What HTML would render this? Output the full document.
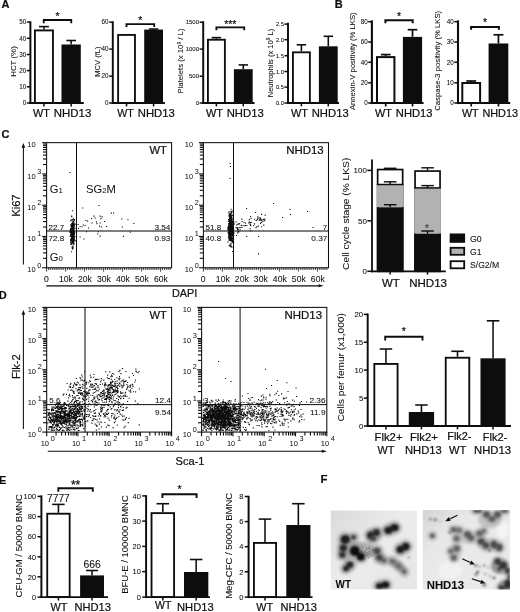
<!DOCTYPE html><html><head><meta charset="utf-8"><title>Figure</title><style>html,body{margin:0;padding:0;background:#fff}svg{display:block}</style></head><body><svg width="520" height="612" viewBox="0 0 520 612" font-family="Liberation Sans, Arial, sans-serif">
<defs><filter id="b1" x="-20%" y="-20%" width="140%" height="140%"><feGaussianBlur stdDeviation="1.1"/></filter><filter id="b2" x="-20%" y="-20%" width="140%" height="140%"><feGaussianBlur stdDeviation="0.6"/></filter><filter id="soft"><feGaussianBlur stdDeviation="0.35"/></filter></defs>
<rect width="520" height="612" fill="#fff"/>
<g filter="url(#soft)">
<text x="1.60" y="8.30" font-size="11" text-anchor="start" font-weight="bold" fill="#0c0c0c" stroke="#0c0c0c" stroke-width="0.2">A</text>
<text x="334.80" y="7.90" font-size="11" text-anchor="start" font-weight="bold" fill="#0c0c0c" stroke="#0c0c0c" stroke-width="0.2">B</text>
<text x="1.50" y="138.00" font-size="11" text-anchor="start" font-weight="bold" fill="#0c0c0c" stroke="#0c0c0c" stroke-width="0.2">C</text>
<text x="-1.30" y="298.70" font-size="11" text-anchor="start" font-weight="bold" fill="#0c0c0c" stroke="#0c0c0c" stroke-width="0.2">D</text>
<text x="-1.00" y="484.00" font-size="11" text-anchor="start" font-weight="bold" fill="#0c0c0c" stroke="#0c0c0c" stroke-width="0.2">E</text>
<text x="320.40" y="483.40" font-size="11.4" text-anchor="start" font-weight="bold" fill="#0c0c0c" stroke="#0c0c0c" stroke-width="0.2">F</text>
<line x1="43.95" y1="29.50" x2="43.95" y2="26.60" stroke="#0c0c0c" stroke-width="1.55" stroke-linecap="butt"/>
<line x1="38.98" y1="26.60" x2="48.93" y2="26.60" stroke="#0c0c0c" stroke-width="1.55" stroke-linecap="butt"/>
<rect x="34.92" y="30.43" width="18.05" height="72.58" fill="#fff" stroke="#0c0c0c" stroke-width="1.85"/>
<line x1="43.95" y1="103.00" x2="43.95" y2="106.38" stroke="#0c0c0c" stroke-width="1.55" stroke-linecap="butt"/>
<line x1="71.15" y1="44.50" x2="71.15" y2="40.50" stroke="#0c0c0c" stroke-width="1.55" stroke-linecap="butt"/>
<line x1="66.33" y1="40.50" x2="75.98" y2="40.50" stroke="#0c0c0c" stroke-width="1.55" stroke-linecap="butt"/>
<rect x="61.50" y="44.50" width="19.30" height="58.50" fill="#0c0c0c" stroke="none" stroke-width="0"/>
<line x1="71.15" y1="103.00" x2="71.15" y2="106.38" stroke="#0c0c0c" stroke-width="1.55" stroke-linecap="butt"/>
<line x1="30.40" y1="21.30" x2="30.40" y2="103.97" stroke="#0c0c0c" stroke-width="1.95" stroke-linecap="butt"/>
<line x1="29.42" y1="103.00" x2="83.75" y2="103.00" stroke="#0c0c0c" stroke-width="1.95" stroke-linecap="butt"/>
<line x1="26.82" y1="22.10" x2="30.40" y2="22.10" stroke="#0c0c0c" stroke-width="1.5" stroke-linecap="butt"/>
<text x="26.22" y="24.37" font-size="6.3" text-anchor="end" font-weight="normal" fill="#0c0c0c" stroke="#0c0c0c" stroke-width="0.05">50</text>
<line x1="26.82" y1="38.30" x2="30.40" y2="38.30" stroke="#0c0c0c" stroke-width="1.5" stroke-linecap="butt"/>
<text x="26.22" y="40.57" font-size="6.3" text-anchor="end" font-weight="normal" fill="#0c0c0c" stroke="#0c0c0c" stroke-width="0.05">40</text>
<line x1="26.82" y1="54.50" x2="30.40" y2="54.50" stroke="#0c0c0c" stroke-width="1.5" stroke-linecap="butt"/>
<text x="26.22" y="56.77" font-size="6.3" text-anchor="end" font-weight="normal" fill="#0c0c0c" stroke="#0c0c0c" stroke-width="0.05">30</text>
<line x1="26.82" y1="70.60" x2="30.40" y2="70.60" stroke="#0c0c0c" stroke-width="1.5" stroke-linecap="butt"/>
<text x="26.22" y="72.87" font-size="6.3" text-anchor="end" font-weight="normal" fill="#0c0c0c" stroke="#0c0c0c" stroke-width="0.05">20</text>
<line x1="26.82" y1="86.80" x2="30.40" y2="86.80" stroke="#0c0c0c" stroke-width="1.5" stroke-linecap="butt"/>
<text x="26.22" y="89.07" font-size="6.3" text-anchor="end" font-weight="normal" fill="#0c0c0c" stroke="#0c0c0c" stroke-width="0.05">10</text>
<line x1="26.82" y1="103.00" x2="30.40" y2="103.00" stroke="#0c0c0c" stroke-width="1.5" stroke-linecap="butt"/>
<text x="26.22" y="105.27" font-size="6.3" text-anchor="end" font-weight="normal" fill="#0c0c0c" stroke="#0c0c0c" stroke-width="0.05">0</text>
<text x="16.40" y="61.50" font-size="7.7" text-anchor="middle" font-weight="normal" fill="#0c0c0c" stroke="#0c0c0c" stroke-width="0.05" transform="rotate(-90 16.40 61.50)" textLength="30.60" lengthAdjust="spacingAndGlyphs">HCT (%)</text>
<text x="41.55" y="116.50" font-size="11.3" text-anchor="middle" font-weight="normal" fill="#0c0c0c" stroke="#0c0c0c" stroke-width="0.2" textLength="16.90" lengthAdjust="spacingAndGlyphs">WT</text>
<text x="72.50" y="116.50" font-size="11.3" text-anchor="middle" font-weight="normal" fill="#0c0c0c" stroke="#0c0c0c" stroke-width="0.2" textLength="37.50" lengthAdjust="spacingAndGlyphs">NHD13</text>
<polyline points="43.75,23.20 43.75,20.00 71.25,20.00 71.25,23.20" fill="none" stroke="#0c0c0c" stroke-width="1.85"/>
<text x="57.50" y="20.46" font-size="10.5" text-anchor="middle" font-weight="normal" fill="#0c0c0c" stroke="#0c0c0c" stroke-width="0.2">*</text>
<rect x="118.12" y="34.92" width="16.85" height="68.08" fill="#fff" stroke="#0c0c0c" stroke-width="1.85"/>
<line x1="126.55" y1="103.00" x2="126.55" y2="106.38" stroke="#0c0c0c" stroke-width="1.55" stroke-linecap="butt"/>
<line x1="153.60" y1="29.60" x2="153.60" y2="29.00" stroke="#0c0c0c" stroke-width="1.55" stroke-linecap="butt"/>
<line x1="148.90" y1="29.00" x2="158.30" y2="29.00" stroke="#0c0c0c" stroke-width="1.55" stroke-linecap="butt"/>
<rect x="144.20" y="29.60" width="18.80" height="73.40" fill="#0c0c0c" stroke="none" stroke-width="0"/>
<line x1="153.60" y1="103.00" x2="153.60" y2="106.38" stroke="#0c0c0c" stroke-width="1.55" stroke-linecap="butt"/>
<line x1="112.80" y1="21.30" x2="112.80" y2="103.97" stroke="#0c0c0c" stroke-width="1.95" stroke-linecap="butt"/>
<line x1="111.83" y1="103.00" x2="164.90" y2="103.00" stroke="#0c0c0c" stroke-width="1.95" stroke-linecap="butt"/>
<line x1="109.23" y1="22.20" x2="112.80" y2="22.20" stroke="#0c0c0c" stroke-width="1.5" stroke-linecap="butt"/>
<text x="108.63" y="24.47" font-size="6.3" text-anchor="end" font-weight="normal" fill="#0c0c0c" stroke="#0c0c0c" stroke-width="0.05">60</text>
<line x1="109.23" y1="49.10" x2="112.80" y2="49.10" stroke="#0c0c0c" stroke-width="1.5" stroke-linecap="butt"/>
<text x="108.63" y="51.37" font-size="6.3" text-anchor="end" font-weight="normal" fill="#0c0c0c" stroke="#0c0c0c" stroke-width="0.05">40</text>
<line x1="109.23" y1="76.10" x2="112.80" y2="76.10" stroke="#0c0c0c" stroke-width="1.5" stroke-linecap="butt"/>
<text x="108.63" y="78.37" font-size="6.3" text-anchor="end" font-weight="normal" fill="#0c0c0c" stroke="#0c0c0c" stroke-width="0.05">20</text>
<line x1="109.23" y1="103.00" x2="112.80" y2="103.00" stroke="#0c0c0c" stroke-width="1.5" stroke-linecap="butt"/>
<text x="108.63" y="105.27" font-size="6.3" text-anchor="end" font-weight="normal" fill="#0c0c0c" stroke="#0c0c0c" stroke-width="0.05">0</text>
<text x="100.00" y="61.60" font-size="7.7" text-anchor="middle" font-weight="normal" fill="#0c0c0c" stroke="#0c0c0c" stroke-width="0.05" transform="rotate(-90 100.00 61.60)" textLength="30.10" lengthAdjust="spacingAndGlyphs">MCV (fL)</text>
<text x="125.50" y="116.50" font-size="11.3" text-anchor="middle" font-weight="normal" fill="#0c0c0c" stroke="#0c0c0c" stroke-width="0.2" textLength="16.60" lengthAdjust="spacingAndGlyphs">WT</text>
<text x="156.30" y="116.50" font-size="11.3" text-anchor="middle" font-weight="normal" fill="#0c0c0c" stroke="#0c0c0c" stroke-width="0.2" textLength="37.00" lengthAdjust="spacingAndGlyphs">NHD13</text>
<polyline points="126.50,27.00 126.50,24.10 154.20,24.10 154.20,27.00" fill="none" stroke="#0c0c0c" stroke-width="1.85"/>
<text x="140.35" y="23.96" font-size="10.5" text-anchor="middle" font-weight="normal" fill="#0c0c0c" stroke="#0c0c0c" stroke-width="0.2">*</text>
<line x1="216.40" y1="38.80" x2="216.40" y2="37.60" stroke="#0c0c0c" stroke-width="1.55" stroke-linecap="butt"/>
<line x1="211.70" y1="37.60" x2="221.10" y2="37.60" stroke="#0c0c0c" stroke-width="1.55" stroke-linecap="butt"/>
<rect x="207.93" y="39.72" width="16.95" height="63.28" fill="#fff" stroke="#0c0c0c" stroke-width="1.85"/>
<line x1="216.40" y1="103.00" x2="216.40" y2="106.38" stroke="#0c0c0c" stroke-width="1.55" stroke-linecap="butt"/>
<line x1="243.30" y1="69.20" x2="243.30" y2="64.90" stroke="#0c0c0c" stroke-width="1.55" stroke-linecap="butt"/>
<line x1="238.60" y1="64.90" x2="248.00" y2="64.90" stroke="#0c0c0c" stroke-width="1.55" stroke-linecap="butt"/>
<rect x="233.90" y="69.20" width="18.80" height="33.80" fill="#0c0c0c" stroke="none" stroke-width="0"/>
<line x1="243.30" y1="103.00" x2="243.30" y2="106.38" stroke="#0c0c0c" stroke-width="1.55" stroke-linecap="butt"/>
<line x1="203.20" y1="21.30" x2="203.20" y2="103.97" stroke="#0c0c0c" stroke-width="1.95" stroke-linecap="butt"/>
<line x1="202.22" y1="103.00" x2="254.50" y2="103.00" stroke="#0c0c0c" stroke-width="1.95" stroke-linecap="butt"/>
<line x1="199.62" y1="22.20" x2="203.20" y2="22.20" stroke="#0c0c0c" stroke-width="1.5" stroke-linecap="butt"/>
<text x="199.03" y="24.36" font-size="6.0" text-anchor="end" font-weight="normal" fill="#0c0c0c" stroke="#0c0c0c" stroke-width="0.05">1500</text>
<line x1="199.62" y1="49.10" x2="203.20" y2="49.10" stroke="#0c0c0c" stroke-width="1.5" stroke-linecap="butt"/>
<text x="199.03" y="51.26" font-size="6.0" text-anchor="end" font-weight="normal" fill="#0c0c0c" stroke="#0c0c0c" stroke-width="0.05">1000</text>
<line x1="199.62" y1="76.20" x2="203.20" y2="76.20" stroke="#0c0c0c" stroke-width="1.5" stroke-linecap="butt"/>
<text x="199.03" y="78.36" font-size="6.0" text-anchor="end" font-weight="normal" fill="#0c0c0c" stroke="#0c0c0c" stroke-width="0.05">500</text>
<line x1="199.62" y1="103.00" x2="203.20" y2="103.00" stroke="#0c0c0c" stroke-width="1.5" stroke-linecap="butt"/>
<text x="199.03" y="105.16" font-size="6.0" text-anchor="end" font-weight="normal" fill="#0c0c0c" stroke="#0c0c0c" stroke-width="0.05">0</text>
<text x="214.50" y="116.50" font-size="11.3" text-anchor="middle" font-weight="normal" fill="#0c0c0c" stroke="#0c0c0c" stroke-width="0.2" textLength="17.00" lengthAdjust="spacingAndGlyphs">WT</text>
<text x="245.20" y="116.50" font-size="11.3" text-anchor="middle" font-weight="normal" fill="#0c0c0c" stroke="#0c0c0c" stroke-width="0.2" textLength="37.00" lengthAdjust="spacingAndGlyphs">NHD13</text>
<polyline points="216.40,30.30 216.40,27.30 244.20,27.30 244.20,30.30" fill="none" stroke="#0c0c0c" stroke-width="1.85"/>
<text x="230.30" y="27.66" font-size="10.5" text-anchor="middle" font-weight="normal" fill="#0c0c0c" stroke="#0c0c0c" stroke-width="0.2">***</text>
<text x="183.20" y="61.00" font-size="7.7" text-anchor="middle" font-weight="normal" fill="#0c0c0c" stroke="#0c0c0c" stroke-width="0.05" transform="rotate(-90 183.20 61.00)" textLength="65.00" lengthAdjust="spacingAndGlyphs">Platelets (x 10<tspan dy="-2.6" font-size="5">9</tspan><tspan dy="2.6"> / L)</tspan></text>
<line x1="301.40" y1="51.40" x2="301.40" y2="44.80" stroke="#0c0c0c" stroke-width="1.55" stroke-linecap="butt"/>
<line x1="296.70" y1="44.80" x2="306.10" y2="44.80" stroke="#0c0c0c" stroke-width="1.55" stroke-linecap="butt"/>
<rect x="292.93" y="52.32" width="16.95" height="50.68" fill="#fff" stroke="#0c0c0c" stroke-width="1.85"/>
<line x1="301.40" y1="103.00" x2="301.40" y2="106.38" stroke="#0c0c0c" stroke-width="1.55" stroke-linecap="butt"/>
<line x1="328.30" y1="46.30" x2="328.30" y2="36.30" stroke="#0c0c0c" stroke-width="1.55" stroke-linecap="butt"/>
<line x1="323.60" y1="36.30" x2="333.00" y2="36.30" stroke="#0c0c0c" stroke-width="1.55" stroke-linecap="butt"/>
<rect x="318.90" y="46.30" width="18.80" height="56.70" fill="#0c0c0c" stroke="none" stroke-width="0"/>
<line x1="328.30" y1="103.00" x2="328.30" y2="106.38" stroke="#0c0c0c" stroke-width="1.55" stroke-linecap="butt"/>
<line x1="288.00" y1="22.80" x2="288.00" y2="103.97" stroke="#0c0c0c" stroke-width="1.95" stroke-linecap="butt"/>
<line x1="287.02" y1="103.00" x2="339.00" y2="103.00" stroke="#0c0c0c" stroke-width="1.95" stroke-linecap="butt"/>
<line x1="284.42" y1="24.10" x2="288.00" y2="24.10" stroke="#0c0c0c" stroke-width="1.5" stroke-linecap="butt"/>
<text x="283.82" y="26.15" font-size="5.7" text-anchor="end" font-weight="normal" fill="#0c0c0c" stroke="#0c0c0c" stroke-width="0.05">2.5</text>
<line x1="284.42" y1="39.70" x2="288.00" y2="39.70" stroke="#0c0c0c" stroke-width="1.5" stroke-linecap="butt"/>
<text x="283.82" y="41.75" font-size="5.7" text-anchor="end" font-weight="normal" fill="#0c0c0c" stroke="#0c0c0c" stroke-width="0.05">2.0</text>
<line x1="284.42" y1="55.70" x2="288.00" y2="55.70" stroke="#0c0c0c" stroke-width="1.5" stroke-linecap="butt"/>
<text x="283.82" y="57.75" font-size="5.7" text-anchor="end" font-weight="normal" fill="#0c0c0c" stroke="#0c0c0c" stroke-width="0.05">1.5</text>
<line x1="284.42" y1="71.50" x2="288.00" y2="71.50" stroke="#0c0c0c" stroke-width="1.5" stroke-linecap="butt"/>
<text x="283.82" y="73.55" font-size="5.7" text-anchor="end" font-weight="normal" fill="#0c0c0c" stroke="#0c0c0c" stroke-width="0.05">1.0</text>
<line x1="284.42" y1="87.10" x2="288.00" y2="87.10" stroke="#0c0c0c" stroke-width="1.5" stroke-linecap="butt"/>
<text x="283.82" y="89.15" font-size="5.7" text-anchor="end" font-weight="normal" fill="#0c0c0c" stroke="#0c0c0c" stroke-width="0.05">0.5</text>
<line x1="284.42" y1="103.00" x2="288.00" y2="103.00" stroke="#0c0c0c" stroke-width="1.5" stroke-linecap="butt"/>
<text x="283.82" y="105.05" font-size="5.7" text-anchor="end" font-weight="normal" fill="#0c0c0c" stroke="#0c0c0c" stroke-width="0.05">0.0</text>
<text x="299.50" y="116.50" font-size="11.3" text-anchor="middle" font-weight="normal" fill="#0c0c0c" stroke="#0c0c0c" stroke-width="0.2" textLength="17.00" lengthAdjust="spacingAndGlyphs">WT</text>
<text x="330.20" y="116.50" font-size="11.3" text-anchor="middle" font-weight="normal" fill="#0c0c0c" stroke="#0c0c0c" stroke-width="0.2" textLength="37.00" lengthAdjust="spacingAndGlyphs">NHD13</text>
<text x="272.70" y="63.00" font-size="7.7" text-anchor="middle" font-weight="normal" fill="#0c0c0c" stroke="#0c0c0c" stroke-width="0.05" transform="rotate(-90 272.70 63.00)" textLength="68.60" lengthAdjust="spacingAndGlyphs">Neutrophils (x 10<tspan dy="-2.6" font-size="5">9</tspan><tspan dy="2.6"> L)</tspan></text>
<line x1="385.70" y1="56.10" x2="385.70" y2="54.60" stroke="#0c0c0c" stroke-width="1.7" stroke-linecap="butt"/>
<line x1="380.85" y1="54.60" x2="390.55" y2="54.60" stroke="#0c0c0c" stroke-width="1.7" stroke-linecap="butt"/>
<rect x="377.00" y="57.10" width="17.40" height="45.90" fill="#fff" stroke="#0c0c0c" stroke-width="2.0"/>
<line x1="385.70" y1="103.00" x2="385.70" y2="106.45" stroke="#0c0c0c" stroke-width="1.7" stroke-linecap="butt"/>
<line x1="412.50" y1="36.90" x2="412.50" y2="29.70" stroke="#0c0c0c" stroke-width="1.7" stroke-linecap="butt"/>
<line x1="407.70" y1="29.70" x2="417.30" y2="29.70" stroke="#0c0c0c" stroke-width="1.7" stroke-linecap="butt"/>
<rect x="402.90" y="36.90" width="19.20" height="66.10" fill="#0c0c0c" stroke="none" stroke-width="0"/>
<line x1="412.50" y1="103.00" x2="412.50" y2="106.45" stroke="#0c0c0c" stroke-width="1.7" stroke-linecap="butt"/>
<line x1="371.90" y1="20.30" x2="371.90" y2="104.05" stroke="#0c0c0c" stroke-width="2.1" stroke-linecap="butt"/>
<line x1="370.85" y1="103.00" x2="423.60" y2="103.00" stroke="#0c0c0c" stroke-width="2.1" stroke-linecap="butt"/>
<line x1="368.25" y1="21.70" x2="371.90" y2="21.70" stroke="#0c0c0c" stroke-width="1.5" stroke-linecap="butt"/>
<text x="367.65" y="23.97" font-size="6.3" text-anchor="end" font-weight="normal" fill="#0c0c0c" stroke="#0c0c0c" stroke-width="0.05">80</text>
<line x1="368.25" y1="42.00" x2="371.90" y2="42.00" stroke="#0c0c0c" stroke-width="1.5" stroke-linecap="butt"/>
<text x="367.65" y="44.27" font-size="6.3" text-anchor="end" font-weight="normal" fill="#0c0c0c" stroke="#0c0c0c" stroke-width="0.05">60</text>
<line x1="368.25" y1="62.30" x2="371.90" y2="62.30" stroke="#0c0c0c" stroke-width="1.5" stroke-linecap="butt"/>
<text x="367.65" y="64.57" font-size="6.3" text-anchor="end" font-weight="normal" fill="#0c0c0c" stroke="#0c0c0c" stroke-width="0.05">40</text>
<line x1="368.25" y1="82.80" x2="371.90" y2="82.80" stroke="#0c0c0c" stroke-width="1.5" stroke-linecap="butt"/>
<text x="367.65" y="85.07" font-size="6.3" text-anchor="end" font-weight="normal" fill="#0c0c0c" stroke="#0c0c0c" stroke-width="0.05">20</text>
<line x1="368.25" y1="103.00" x2="371.90" y2="103.00" stroke="#0c0c0c" stroke-width="1.5" stroke-linecap="butt"/>
<text x="367.65" y="105.27" font-size="6.3" text-anchor="end" font-weight="normal" fill="#0c0c0c" stroke="#0c0c0c" stroke-width="0.05">0</text>
<text x="355.20" y="61.20" font-size="7.7" text-anchor="middle" font-weight="normal" fill="#0c0c0c" stroke="#0c0c0c" stroke-width="0.05" transform="rotate(-90 355.20 61.20)" textLength="97.70" lengthAdjust="spacingAndGlyphs">Annexin-V positivity (% LKS)</text>
<text x="383.55" y="116.50" font-size="11.3" text-anchor="middle" font-weight="normal" fill="#0c0c0c" stroke="#0c0c0c" stroke-width="0.2" textLength="16.90" lengthAdjust="spacingAndGlyphs">WT</text>
<text x="414.15" y="116.50" font-size="11.3" text-anchor="middle" font-weight="normal" fill="#0c0c0c" stroke="#0c0c0c" stroke-width="0.2" textLength="36.70" lengthAdjust="spacingAndGlyphs">NHD13</text>
<polyline points="385.40,23.20 385.40,20.30 412.70,20.30 412.70,23.20" fill="none" stroke="#0c0c0c" stroke-width="2.00"/>
<text x="399.05" y="20.16" font-size="10.5" text-anchor="middle" font-weight="normal" fill="#0c0c0c" stroke="#0c0c0c" stroke-width="0.2">*</text>
<line x1="471.20" y1="82.00" x2="471.20" y2="81.00" stroke="#0c0c0c" stroke-width="1.7" stroke-linecap="butt"/>
<line x1="466.25" y1="81.00" x2="476.15" y2="81.00" stroke="#0c0c0c" stroke-width="1.7" stroke-linecap="butt"/>
<rect x="462.30" y="83.00" width="17.80" height="20.00" fill="#fff" stroke="#0c0c0c" stroke-width="2.0"/>
<line x1="471.20" y1="103.00" x2="471.20" y2="106.45" stroke="#0c0c0c" stroke-width="1.7" stroke-linecap="butt"/>
<line x1="498.45" y1="43.50" x2="498.45" y2="34.80" stroke="#0c0c0c" stroke-width="1.7" stroke-linecap="butt"/>
<line x1="493.53" y1="34.80" x2="503.38" y2="34.80" stroke="#0c0c0c" stroke-width="1.7" stroke-linecap="butt"/>
<rect x="488.60" y="43.50" width="19.70" height="59.50" fill="#0c0c0c" stroke="none" stroke-width="0"/>
<line x1="498.45" y1="103.00" x2="498.45" y2="106.45" stroke="#0c0c0c" stroke-width="1.7" stroke-linecap="butt"/>
<line x1="458.00" y1="20.30" x2="458.00" y2="104.05" stroke="#0c0c0c" stroke-width="2.1" stroke-linecap="butt"/>
<line x1="456.95" y1="103.00" x2="510.20" y2="103.00" stroke="#0c0c0c" stroke-width="2.1" stroke-linecap="butt"/>
<line x1="454.35" y1="21.70" x2="458.00" y2="21.70" stroke="#0c0c0c" stroke-width="1.5" stroke-linecap="butt"/>
<text x="453.75" y="23.97" font-size="6.3" text-anchor="end" font-weight="normal" fill="#0c0c0c" stroke="#0c0c0c" stroke-width="0.05">40</text>
<line x1="454.35" y1="42.00" x2="458.00" y2="42.00" stroke="#0c0c0c" stroke-width="1.5" stroke-linecap="butt"/>
<text x="453.75" y="44.27" font-size="6.3" text-anchor="end" font-weight="normal" fill="#0c0c0c" stroke="#0c0c0c" stroke-width="0.05">30</text>
<line x1="454.35" y1="62.30" x2="458.00" y2="62.30" stroke="#0c0c0c" stroke-width="1.5" stroke-linecap="butt"/>
<text x="453.75" y="64.57" font-size="6.3" text-anchor="end" font-weight="normal" fill="#0c0c0c" stroke="#0c0c0c" stroke-width="0.05">20</text>
<line x1="454.35" y1="82.80" x2="458.00" y2="82.80" stroke="#0c0c0c" stroke-width="1.5" stroke-linecap="butt"/>
<text x="453.75" y="85.07" font-size="6.3" text-anchor="end" font-weight="normal" fill="#0c0c0c" stroke="#0c0c0c" stroke-width="0.05">10</text>
<line x1="454.35" y1="103.00" x2="458.00" y2="103.00" stroke="#0c0c0c" stroke-width="1.5" stroke-linecap="butt"/>
<text x="453.75" y="105.27" font-size="6.3" text-anchor="end" font-weight="normal" fill="#0c0c0c" stroke="#0c0c0c" stroke-width="0.05">0</text>
<text x="439.60" y="60.80" font-size="7.7" text-anchor="middle" font-weight="normal" fill="#0c0c0c" stroke="#0c0c0c" stroke-width="0.05" transform="rotate(-90 439.60 60.80)" textLength="100.00" lengthAdjust="spacingAndGlyphs">Caspase-3 positivity (% LKS)</text>
<text x="470.25" y="116.50" font-size="11.3" text-anchor="middle" font-weight="normal" fill="#0c0c0c" stroke="#0c0c0c" stroke-width="0.2" textLength="16.70" lengthAdjust="spacingAndGlyphs">WT</text>
<text x="500.20" y="116.50" font-size="11.3" text-anchor="middle" font-weight="normal" fill="#0c0c0c" stroke="#0c0c0c" stroke-width="0.2" textLength="35.60" lengthAdjust="spacingAndGlyphs">NHD13</text>
<polyline points="471.10,29.80 471.10,26.90 498.90,26.90 498.90,29.80" fill="none" stroke="#0c0c0c" stroke-width="2.00"/>
<text x="485.00" y="26.36" font-size="10.5" text-anchor="middle" font-weight="normal" fill="#0c0c0c" stroke="#0c0c0c" stroke-width="0.2">*</text>
<rect x="46.60" y="142.65" width="125.00" height="125.10" fill="none" stroke="#0c0c0c" stroke-width="1.05"/>
<line x1="76.50" y1="142.65" x2="76.50" y2="267.75" stroke="#0c0c0c" stroke-width="1.0" stroke-linecap="butt"/>
<line x1="46.60" y1="231.00" x2="171.60" y2="231.00" stroke="#0c0c0c" stroke-width="1.0" stroke-linecap="butt"/>
<text x="166.80" y="154.45" font-size="11" text-anchor="end" font-weight="normal" fill="#0c0c0c" stroke="#0c0c0c" stroke-width="0.2" textLength="17.40" lengthAdjust="spacingAndGlyphs">WT</text>
<line x1="42.20" y1="267.75" x2="46.60" y2="267.75" stroke="#0c0c0c" stroke-width="1.1" stroke-linecap="butt"/>
<line x1="43.00" y1="258.34" x2="46.60" y2="258.34" stroke="#0c0c0c" stroke-width="1.1" stroke-linecap="butt"/>
<line x1="43.00" y1="252.83" x2="46.60" y2="252.83" stroke="#0c0c0c" stroke-width="1.1" stroke-linecap="butt"/>
<line x1="43.00" y1="248.92" x2="46.60" y2="248.92" stroke="#0c0c0c" stroke-width="1.1" stroke-linecap="butt"/>
<line x1="43.00" y1="245.89" x2="46.60" y2="245.89" stroke="#0c0c0c" stroke-width="1.1" stroke-linecap="butt"/>
<line x1="43.00" y1="243.41" x2="46.60" y2="243.41" stroke="#0c0c0c" stroke-width="1.1" stroke-linecap="butt"/>
<line x1="43.00" y1="241.32" x2="46.60" y2="241.32" stroke="#0c0c0c" stroke-width="1.1" stroke-linecap="butt"/>
<line x1="43.00" y1="239.51" x2="46.60" y2="239.51" stroke="#0c0c0c" stroke-width="1.1" stroke-linecap="butt"/>
<line x1="43.00" y1="237.91" x2="46.60" y2="237.91" stroke="#0c0c0c" stroke-width="1.1" stroke-linecap="butt"/>
<line x1="42.20" y1="236.47" x2="46.60" y2="236.47" stroke="#0c0c0c" stroke-width="1.1" stroke-linecap="butt"/>
<line x1="43.00" y1="227.06" x2="46.60" y2="227.06" stroke="#0c0c0c" stroke-width="1.1" stroke-linecap="butt"/>
<line x1="43.00" y1="221.55" x2="46.60" y2="221.55" stroke="#0c0c0c" stroke-width="1.1" stroke-linecap="butt"/>
<line x1="43.00" y1="217.65" x2="46.60" y2="217.65" stroke="#0c0c0c" stroke-width="1.1" stroke-linecap="butt"/>
<line x1="43.00" y1="214.61" x2="46.60" y2="214.61" stroke="#0c0c0c" stroke-width="1.1" stroke-linecap="butt"/>
<line x1="43.00" y1="212.14" x2="46.60" y2="212.14" stroke="#0c0c0c" stroke-width="1.1" stroke-linecap="butt"/>
<line x1="43.00" y1="210.04" x2="46.60" y2="210.04" stroke="#0c0c0c" stroke-width="1.1" stroke-linecap="butt"/>
<line x1="43.00" y1="208.23" x2="46.60" y2="208.23" stroke="#0c0c0c" stroke-width="1.1" stroke-linecap="butt"/>
<line x1="43.00" y1="206.63" x2="46.60" y2="206.63" stroke="#0c0c0c" stroke-width="1.1" stroke-linecap="butt"/>
<line x1="42.20" y1="205.20" x2="46.60" y2="205.20" stroke="#0c0c0c" stroke-width="1.1" stroke-linecap="butt"/>
<line x1="43.00" y1="195.79" x2="46.60" y2="195.79" stroke="#0c0c0c" stroke-width="1.1" stroke-linecap="butt"/>
<line x1="43.00" y1="190.28" x2="46.60" y2="190.28" stroke="#0c0c0c" stroke-width="1.1" stroke-linecap="butt"/>
<line x1="43.00" y1="186.37" x2="46.60" y2="186.37" stroke="#0c0c0c" stroke-width="1.1" stroke-linecap="butt"/>
<line x1="43.00" y1="183.34" x2="46.60" y2="183.34" stroke="#0c0c0c" stroke-width="1.1" stroke-linecap="butt"/>
<line x1="43.00" y1="180.86" x2="46.60" y2="180.86" stroke="#0c0c0c" stroke-width="1.1" stroke-linecap="butt"/>
<line x1="43.00" y1="178.77" x2="46.60" y2="178.77" stroke="#0c0c0c" stroke-width="1.1" stroke-linecap="butt"/>
<line x1="43.00" y1="176.96" x2="46.60" y2="176.96" stroke="#0c0c0c" stroke-width="1.1" stroke-linecap="butt"/>
<line x1="43.00" y1="175.36" x2="46.60" y2="175.36" stroke="#0c0c0c" stroke-width="1.1" stroke-linecap="butt"/>
<line x1="42.20" y1="173.93" x2="46.60" y2="173.93" stroke="#0c0c0c" stroke-width="1.1" stroke-linecap="butt"/>
<line x1="43.00" y1="164.51" x2="46.60" y2="164.51" stroke="#0c0c0c" stroke-width="1.1" stroke-linecap="butt"/>
<line x1="43.00" y1="159.00" x2="46.60" y2="159.00" stroke="#0c0c0c" stroke-width="1.1" stroke-linecap="butt"/>
<line x1="43.00" y1="155.10" x2="46.60" y2="155.10" stroke="#0c0c0c" stroke-width="1.1" stroke-linecap="butt"/>
<line x1="43.00" y1="152.06" x2="46.60" y2="152.06" stroke="#0c0c0c" stroke-width="1.1" stroke-linecap="butt"/>
<line x1="43.00" y1="149.59" x2="46.60" y2="149.59" stroke="#0c0c0c" stroke-width="1.1" stroke-linecap="butt"/>
<line x1="43.00" y1="147.49" x2="46.60" y2="147.49" stroke="#0c0c0c" stroke-width="1.1" stroke-linecap="butt"/>
<line x1="43.00" y1="145.68" x2="46.60" y2="145.68" stroke="#0c0c0c" stroke-width="1.1" stroke-linecap="butt"/>
<line x1="43.00" y1="144.08" x2="46.60" y2="144.08" stroke="#0c0c0c" stroke-width="1.1" stroke-linecap="butt"/>
<line x1="42.20" y1="142.65" x2="46.60" y2="142.65" stroke="#0c0c0c" stroke-width="1.1" stroke-linecap="butt"/>
<text x="27.30" y="272.45" font-size="7.5" text-anchor="start" fill="#0c0c0c">10<tspan dy="-4.8" dx="1.7" font-size="7.3">0</tspan></text>
<text x="27.30" y="241.17" font-size="7.5" text-anchor="start" fill="#0c0c0c">10<tspan dy="-4.8" dx="1.7" font-size="7.3">1</tspan></text>
<text x="27.30" y="209.90" font-size="7.5" text-anchor="start" fill="#0c0c0c">10<tspan dy="-4.8" dx="1.7" font-size="7.3">2</tspan></text>
<text x="27.30" y="178.62" font-size="7.5" text-anchor="start" fill="#0c0c0c">10<tspan dy="-4.8" dx="1.7" font-size="7.3">3</tspan></text>
<text x="27.30" y="147.35" font-size="7.5" text-anchor="start" fill="#0c0c0c">10</text>
<line x1="46.60" y1="267.75" x2="46.60" y2="271.55" stroke="#0c0c0c" stroke-width="0.8" stroke-linecap="butt"/>
<line x1="48.50" y1="267.75" x2="48.50" y2="269.95" stroke="#0c0c0c" stroke-width="0.8" stroke-linecap="butt"/>
<line x1="50.40" y1="267.75" x2="50.40" y2="269.95" stroke="#0c0c0c" stroke-width="0.8" stroke-linecap="butt"/>
<line x1="52.30" y1="267.75" x2="52.30" y2="269.95" stroke="#0c0c0c" stroke-width="0.8" stroke-linecap="butt"/>
<line x1="54.20" y1="267.75" x2="54.20" y2="269.95" stroke="#0c0c0c" stroke-width="0.8" stroke-linecap="butt"/>
<line x1="56.10" y1="267.75" x2="56.10" y2="269.95" stroke="#0c0c0c" stroke-width="0.8" stroke-linecap="butt"/>
<line x1="58.00" y1="267.75" x2="58.00" y2="269.95" stroke="#0c0c0c" stroke-width="0.8" stroke-linecap="butt"/>
<line x1="59.90" y1="267.75" x2="59.90" y2="269.95" stroke="#0c0c0c" stroke-width="0.8" stroke-linecap="butt"/>
<line x1="61.80" y1="267.75" x2="61.80" y2="269.95" stroke="#0c0c0c" stroke-width="0.8" stroke-linecap="butt"/>
<line x1="63.70" y1="267.75" x2="63.70" y2="269.95" stroke="#0c0c0c" stroke-width="0.8" stroke-linecap="butt"/>
<line x1="65.60" y1="267.75" x2="65.60" y2="271.55" stroke="#0c0c0c" stroke-width="0.8" stroke-linecap="butt"/>
<line x1="67.50" y1="267.75" x2="67.50" y2="269.95" stroke="#0c0c0c" stroke-width="0.8" stroke-linecap="butt"/>
<line x1="69.40" y1="267.75" x2="69.40" y2="269.95" stroke="#0c0c0c" stroke-width="0.8" stroke-linecap="butt"/>
<line x1="71.30" y1="267.75" x2="71.30" y2="269.95" stroke="#0c0c0c" stroke-width="0.8" stroke-linecap="butt"/>
<line x1="73.20" y1="267.75" x2="73.20" y2="269.95" stroke="#0c0c0c" stroke-width="0.8" stroke-linecap="butt"/>
<line x1="75.10" y1="267.75" x2="75.10" y2="269.95" stroke="#0c0c0c" stroke-width="0.8" stroke-linecap="butt"/>
<line x1="77.00" y1="267.75" x2="77.00" y2="269.95" stroke="#0c0c0c" stroke-width="0.8" stroke-linecap="butt"/>
<line x1="78.90" y1="267.75" x2="78.90" y2="269.95" stroke="#0c0c0c" stroke-width="0.8" stroke-linecap="butt"/>
<line x1="80.80" y1="267.75" x2="80.80" y2="269.95" stroke="#0c0c0c" stroke-width="0.8" stroke-linecap="butt"/>
<line x1="82.70" y1="267.75" x2="82.70" y2="269.95" stroke="#0c0c0c" stroke-width="0.8" stroke-linecap="butt"/>
<line x1="84.60" y1="267.75" x2="84.60" y2="271.55" stroke="#0c0c0c" stroke-width="0.8" stroke-linecap="butt"/>
<line x1="86.50" y1="267.75" x2="86.50" y2="269.95" stroke="#0c0c0c" stroke-width="0.8" stroke-linecap="butt"/>
<line x1="88.40" y1="267.75" x2="88.40" y2="269.95" stroke="#0c0c0c" stroke-width="0.8" stroke-linecap="butt"/>
<line x1="90.30" y1="267.75" x2="90.30" y2="269.95" stroke="#0c0c0c" stroke-width="0.8" stroke-linecap="butt"/>
<line x1="92.20" y1="267.75" x2="92.20" y2="269.95" stroke="#0c0c0c" stroke-width="0.8" stroke-linecap="butt"/>
<line x1="94.10" y1="267.75" x2="94.10" y2="269.95" stroke="#0c0c0c" stroke-width="0.8" stroke-linecap="butt"/>
<line x1="96.00" y1="267.75" x2="96.00" y2="269.95" stroke="#0c0c0c" stroke-width="0.8" stroke-linecap="butt"/>
<line x1="97.90" y1="267.75" x2="97.90" y2="269.95" stroke="#0c0c0c" stroke-width="0.8" stroke-linecap="butt"/>
<line x1="99.80" y1="267.75" x2="99.80" y2="269.95" stroke="#0c0c0c" stroke-width="0.8" stroke-linecap="butt"/>
<line x1="101.70" y1="267.75" x2="101.70" y2="269.95" stroke="#0c0c0c" stroke-width="0.8" stroke-linecap="butt"/>
<line x1="103.60" y1="267.75" x2="103.60" y2="271.55" stroke="#0c0c0c" stroke-width="0.8" stroke-linecap="butt"/>
<line x1="105.50" y1="267.75" x2="105.50" y2="269.95" stroke="#0c0c0c" stroke-width="0.8" stroke-linecap="butt"/>
<line x1="107.40" y1="267.75" x2="107.40" y2="269.95" stroke="#0c0c0c" stroke-width="0.8" stroke-linecap="butt"/>
<line x1="109.30" y1="267.75" x2="109.30" y2="269.95" stroke="#0c0c0c" stroke-width="0.8" stroke-linecap="butt"/>
<line x1="111.20" y1="267.75" x2="111.20" y2="269.95" stroke="#0c0c0c" stroke-width="0.8" stroke-linecap="butt"/>
<line x1="113.10" y1="267.75" x2="113.10" y2="269.95" stroke="#0c0c0c" stroke-width="0.8" stroke-linecap="butt"/>
<line x1="115.00" y1="267.75" x2="115.00" y2="269.95" stroke="#0c0c0c" stroke-width="0.8" stroke-linecap="butt"/>
<line x1="116.90" y1="267.75" x2="116.90" y2="269.95" stroke="#0c0c0c" stroke-width="0.8" stroke-linecap="butt"/>
<line x1="118.80" y1="267.75" x2="118.80" y2="269.95" stroke="#0c0c0c" stroke-width="0.8" stroke-linecap="butt"/>
<line x1="120.70" y1="267.75" x2="120.70" y2="269.95" stroke="#0c0c0c" stroke-width="0.8" stroke-linecap="butt"/>
<line x1="122.60" y1="267.75" x2="122.60" y2="271.55" stroke="#0c0c0c" stroke-width="0.8" stroke-linecap="butt"/>
<line x1="124.50" y1="267.75" x2="124.50" y2="269.95" stroke="#0c0c0c" stroke-width="0.8" stroke-linecap="butt"/>
<line x1="126.40" y1="267.75" x2="126.40" y2="269.95" stroke="#0c0c0c" stroke-width="0.8" stroke-linecap="butt"/>
<line x1="128.30" y1="267.75" x2="128.30" y2="269.95" stroke="#0c0c0c" stroke-width="0.8" stroke-linecap="butt"/>
<line x1="130.20" y1="267.75" x2="130.20" y2="269.95" stroke="#0c0c0c" stroke-width="0.8" stroke-linecap="butt"/>
<line x1="132.10" y1="267.75" x2="132.10" y2="269.95" stroke="#0c0c0c" stroke-width="0.8" stroke-linecap="butt"/>
<line x1="134.00" y1="267.75" x2="134.00" y2="269.95" stroke="#0c0c0c" stroke-width="0.8" stroke-linecap="butt"/>
<line x1="135.90" y1="267.75" x2="135.90" y2="269.95" stroke="#0c0c0c" stroke-width="0.8" stroke-linecap="butt"/>
<line x1="137.80" y1="267.75" x2="137.80" y2="269.95" stroke="#0c0c0c" stroke-width="0.8" stroke-linecap="butt"/>
<line x1="139.70" y1="267.75" x2="139.70" y2="269.95" stroke="#0c0c0c" stroke-width="0.8" stroke-linecap="butt"/>
<line x1="141.60" y1="267.75" x2="141.60" y2="271.55" stroke="#0c0c0c" stroke-width="0.8" stroke-linecap="butt"/>
<line x1="143.50" y1="267.75" x2="143.50" y2="269.95" stroke="#0c0c0c" stroke-width="0.8" stroke-linecap="butt"/>
<line x1="145.40" y1="267.75" x2="145.40" y2="269.95" stroke="#0c0c0c" stroke-width="0.8" stroke-linecap="butt"/>
<line x1="147.30" y1="267.75" x2="147.30" y2="269.95" stroke="#0c0c0c" stroke-width="0.8" stroke-linecap="butt"/>
<line x1="149.20" y1="267.75" x2="149.20" y2="269.95" stroke="#0c0c0c" stroke-width="0.8" stroke-linecap="butt"/>
<line x1="151.10" y1="267.75" x2="151.10" y2="269.95" stroke="#0c0c0c" stroke-width="0.8" stroke-linecap="butt"/>
<line x1="153.00" y1="267.75" x2="153.00" y2="269.95" stroke="#0c0c0c" stroke-width="0.8" stroke-linecap="butt"/>
<line x1="154.90" y1="267.75" x2="154.90" y2="269.95" stroke="#0c0c0c" stroke-width="0.8" stroke-linecap="butt"/>
<line x1="156.80" y1="267.75" x2="156.80" y2="269.95" stroke="#0c0c0c" stroke-width="0.8" stroke-linecap="butt"/>
<line x1="158.70" y1="267.75" x2="158.70" y2="269.95" stroke="#0c0c0c" stroke-width="0.8" stroke-linecap="butt"/>
<line x1="160.60" y1="267.75" x2="160.60" y2="271.55" stroke="#0c0c0c" stroke-width="0.8" stroke-linecap="butt"/>
<line x1="162.50" y1="267.75" x2="162.50" y2="269.95" stroke="#0c0c0c" stroke-width="0.8" stroke-linecap="butt"/>
<line x1="164.40" y1="267.75" x2="164.40" y2="269.95" stroke="#0c0c0c" stroke-width="0.8" stroke-linecap="butt"/>
<line x1="166.30" y1="267.75" x2="166.30" y2="269.95" stroke="#0c0c0c" stroke-width="0.8" stroke-linecap="butt"/>
<line x1="168.20" y1="267.75" x2="168.20" y2="269.95" stroke="#0c0c0c" stroke-width="0.8" stroke-linecap="butt"/>
<line x1="170.10" y1="267.75" x2="170.10" y2="269.95" stroke="#0c0c0c" stroke-width="0.8" stroke-linecap="butt"/>
<text x="46.40" y="281.60" font-size="8.6" text-anchor="middle" font-weight="normal" fill="#0c0c0c" stroke="#0c0c0c" stroke-width="0.05">0</text>
<text x="66.00" y="281.60" font-size="8.6" text-anchor="middle" font-weight="normal" fill="#0c0c0c" stroke="#0c0c0c" stroke-width="0.05">10k</text>
<text x="85.00" y="281.60" font-size="8.6" text-anchor="middle" font-weight="normal" fill="#0c0c0c" stroke="#0c0c0c" stroke-width="0.05">20k</text>
<text x="104.00" y="281.60" font-size="8.6" text-anchor="middle" font-weight="normal" fill="#0c0c0c" stroke="#0c0c0c" stroke-width="0.05">30k</text>
<text x="123.00" y="281.60" font-size="8.6" text-anchor="middle" font-weight="normal" fill="#0c0c0c" stroke="#0c0c0c" stroke-width="0.05">40k</text>
<text x="142.00" y="281.60" font-size="8.6" text-anchor="middle" font-weight="normal" fill="#0c0c0c" stroke="#0c0c0c" stroke-width="0.05">50k</text>
<text x="161.00" y="281.60" font-size="8.6" text-anchor="middle" font-weight="normal" fill="#0c0c0c" stroke="#0c0c0c" stroke-width="0.05">60k</text>
<rect x="203.40" y="142.65" width="125.10" height="125.10" fill="none" stroke="#0c0c0c" stroke-width="1.05"/>
<line x1="233.50" y1="142.65" x2="233.50" y2="267.75" stroke="#0c0c0c" stroke-width="1.0" stroke-linecap="butt"/>
<line x1="203.40" y1="231.00" x2="328.50" y2="231.00" stroke="#0c0c0c" stroke-width="1.0" stroke-linecap="butt"/>
<text x="323.70" y="154.45" font-size="11" text-anchor="end" font-weight="normal" fill="#0c0c0c" stroke="#0c0c0c" stroke-width="0.2" textLength="37.50" lengthAdjust="spacingAndGlyphs">NHD13</text>
<line x1="199.00" y1="267.75" x2="203.40" y2="267.75" stroke="#0c0c0c" stroke-width="1.1" stroke-linecap="butt"/>
<line x1="199.80" y1="258.34" x2="203.40" y2="258.34" stroke="#0c0c0c" stroke-width="1.1" stroke-linecap="butt"/>
<line x1="199.80" y1="252.83" x2="203.40" y2="252.83" stroke="#0c0c0c" stroke-width="1.1" stroke-linecap="butt"/>
<line x1="199.80" y1="248.92" x2="203.40" y2="248.92" stroke="#0c0c0c" stroke-width="1.1" stroke-linecap="butt"/>
<line x1="199.80" y1="245.89" x2="203.40" y2="245.89" stroke="#0c0c0c" stroke-width="1.1" stroke-linecap="butt"/>
<line x1="199.80" y1="243.41" x2="203.40" y2="243.41" stroke="#0c0c0c" stroke-width="1.1" stroke-linecap="butt"/>
<line x1="199.80" y1="241.32" x2="203.40" y2="241.32" stroke="#0c0c0c" stroke-width="1.1" stroke-linecap="butt"/>
<line x1="199.80" y1="239.51" x2="203.40" y2="239.51" stroke="#0c0c0c" stroke-width="1.1" stroke-linecap="butt"/>
<line x1="199.80" y1="237.91" x2="203.40" y2="237.91" stroke="#0c0c0c" stroke-width="1.1" stroke-linecap="butt"/>
<line x1="199.00" y1="236.47" x2="203.40" y2="236.47" stroke="#0c0c0c" stroke-width="1.1" stroke-linecap="butt"/>
<line x1="199.80" y1="227.06" x2="203.40" y2="227.06" stroke="#0c0c0c" stroke-width="1.1" stroke-linecap="butt"/>
<line x1="199.80" y1="221.55" x2="203.40" y2="221.55" stroke="#0c0c0c" stroke-width="1.1" stroke-linecap="butt"/>
<line x1="199.80" y1="217.65" x2="203.40" y2="217.65" stroke="#0c0c0c" stroke-width="1.1" stroke-linecap="butt"/>
<line x1="199.80" y1="214.61" x2="203.40" y2="214.61" stroke="#0c0c0c" stroke-width="1.1" stroke-linecap="butt"/>
<line x1="199.80" y1="212.14" x2="203.40" y2="212.14" stroke="#0c0c0c" stroke-width="1.1" stroke-linecap="butt"/>
<line x1="199.80" y1="210.04" x2="203.40" y2="210.04" stroke="#0c0c0c" stroke-width="1.1" stroke-linecap="butt"/>
<line x1="199.80" y1="208.23" x2="203.40" y2="208.23" stroke="#0c0c0c" stroke-width="1.1" stroke-linecap="butt"/>
<line x1="199.80" y1="206.63" x2="203.40" y2="206.63" stroke="#0c0c0c" stroke-width="1.1" stroke-linecap="butt"/>
<line x1="199.00" y1="205.20" x2="203.40" y2="205.20" stroke="#0c0c0c" stroke-width="1.1" stroke-linecap="butt"/>
<line x1="199.80" y1="195.79" x2="203.40" y2="195.79" stroke="#0c0c0c" stroke-width="1.1" stroke-linecap="butt"/>
<line x1="199.80" y1="190.28" x2="203.40" y2="190.28" stroke="#0c0c0c" stroke-width="1.1" stroke-linecap="butt"/>
<line x1="199.80" y1="186.37" x2="203.40" y2="186.37" stroke="#0c0c0c" stroke-width="1.1" stroke-linecap="butt"/>
<line x1="199.80" y1="183.34" x2="203.40" y2="183.34" stroke="#0c0c0c" stroke-width="1.1" stroke-linecap="butt"/>
<line x1="199.80" y1="180.86" x2="203.40" y2="180.86" stroke="#0c0c0c" stroke-width="1.1" stroke-linecap="butt"/>
<line x1="199.80" y1="178.77" x2="203.40" y2="178.77" stroke="#0c0c0c" stroke-width="1.1" stroke-linecap="butt"/>
<line x1="199.80" y1="176.96" x2="203.40" y2="176.96" stroke="#0c0c0c" stroke-width="1.1" stroke-linecap="butt"/>
<line x1="199.80" y1="175.36" x2="203.40" y2="175.36" stroke="#0c0c0c" stroke-width="1.1" stroke-linecap="butt"/>
<line x1="199.00" y1="173.93" x2="203.40" y2="173.93" stroke="#0c0c0c" stroke-width="1.1" stroke-linecap="butt"/>
<line x1="199.80" y1="164.51" x2="203.40" y2="164.51" stroke="#0c0c0c" stroke-width="1.1" stroke-linecap="butt"/>
<line x1="199.80" y1="159.00" x2="203.40" y2="159.00" stroke="#0c0c0c" stroke-width="1.1" stroke-linecap="butt"/>
<line x1="199.80" y1="155.10" x2="203.40" y2="155.10" stroke="#0c0c0c" stroke-width="1.1" stroke-linecap="butt"/>
<line x1="199.80" y1="152.06" x2="203.40" y2="152.06" stroke="#0c0c0c" stroke-width="1.1" stroke-linecap="butt"/>
<line x1="199.80" y1="149.59" x2="203.40" y2="149.59" stroke="#0c0c0c" stroke-width="1.1" stroke-linecap="butt"/>
<line x1="199.80" y1="147.49" x2="203.40" y2="147.49" stroke="#0c0c0c" stroke-width="1.1" stroke-linecap="butt"/>
<line x1="199.80" y1="145.68" x2="203.40" y2="145.68" stroke="#0c0c0c" stroke-width="1.1" stroke-linecap="butt"/>
<line x1="199.80" y1="144.08" x2="203.40" y2="144.08" stroke="#0c0c0c" stroke-width="1.1" stroke-linecap="butt"/>
<line x1="199.00" y1="142.65" x2="203.40" y2="142.65" stroke="#0c0c0c" stroke-width="1.1" stroke-linecap="butt"/>
<text x="184.80" y="272.45" font-size="7.5" text-anchor="start" fill="#0c0c0c">10<tspan dy="-4.8" dx="1.7" font-size="7.3">0</tspan></text>
<text x="184.80" y="241.17" font-size="7.5" text-anchor="start" fill="#0c0c0c">10<tspan dy="-4.8" dx="1.7" font-size="7.3">1</tspan></text>
<text x="184.80" y="209.90" font-size="7.5" text-anchor="start" fill="#0c0c0c">10<tspan dy="-4.8" dx="1.7" font-size="7.3">2</tspan></text>
<text x="184.80" y="178.62" font-size="7.5" text-anchor="start" fill="#0c0c0c">10<tspan dy="-4.8" dx="1.7" font-size="7.3">3</tspan></text>
<text x="184.80" y="147.35" font-size="7.5" text-anchor="start" fill="#0c0c0c">10</text>
<line x1="203.40" y1="267.75" x2="203.40" y2="271.55" stroke="#0c0c0c" stroke-width="0.8" stroke-linecap="butt"/>
<line x1="205.30" y1="267.75" x2="205.30" y2="269.95" stroke="#0c0c0c" stroke-width="0.8" stroke-linecap="butt"/>
<line x1="207.20" y1="267.75" x2="207.20" y2="269.95" stroke="#0c0c0c" stroke-width="0.8" stroke-linecap="butt"/>
<line x1="209.10" y1="267.75" x2="209.10" y2="269.95" stroke="#0c0c0c" stroke-width="0.8" stroke-linecap="butt"/>
<line x1="211.00" y1="267.75" x2="211.00" y2="269.95" stroke="#0c0c0c" stroke-width="0.8" stroke-linecap="butt"/>
<line x1="212.90" y1="267.75" x2="212.90" y2="269.95" stroke="#0c0c0c" stroke-width="0.8" stroke-linecap="butt"/>
<line x1="214.80" y1="267.75" x2="214.80" y2="269.95" stroke="#0c0c0c" stroke-width="0.8" stroke-linecap="butt"/>
<line x1="216.70" y1="267.75" x2="216.70" y2="269.95" stroke="#0c0c0c" stroke-width="0.8" stroke-linecap="butt"/>
<line x1="218.60" y1="267.75" x2="218.60" y2="269.95" stroke="#0c0c0c" stroke-width="0.8" stroke-linecap="butt"/>
<line x1="220.50" y1="267.75" x2="220.50" y2="269.95" stroke="#0c0c0c" stroke-width="0.8" stroke-linecap="butt"/>
<line x1="222.40" y1="267.75" x2="222.40" y2="271.55" stroke="#0c0c0c" stroke-width="0.8" stroke-linecap="butt"/>
<line x1="224.30" y1="267.75" x2="224.30" y2="269.95" stroke="#0c0c0c" stroke-width="0.8" stroke-linecap="butt"/>
<line x1="226.20" y1="267.75" x2="226.20" y2="269.95" stroke="#0c0c0c" stroke-width="0.8" stroke-linecap="butt"/>
<line x1="228.10" y1="267.75" x2="228.10" y2="269.95" stroke="#0c0c0c" stroke-width="0.8" stroke-linecap="butt"/>
<line x1="230.00" y1="267.75" x2="230.00" y2="269.95" stroke="#0c0c0c" stroke-width="0.8" stroke-linecap="butt"/>
<line x1="231.90" y1="267.75" x2="231.90" y2="269.95" stroke="#0c0c0c" stroke-width="0.8" stroke-linecap="butt"/>
<line x1="233.80" y1="267.75" x2="233.80" y2="269.95" stroke="#0c0c0c" stroke-width="0.8" stroke-linecap="butt"/>
<line x1="235.70" y1="267.75" x2="235.70" y2="269.95" stroke="#0c0c0c" stroke-width="0.8" stroke-linecap="butt"/>
<line x1="237.60" y1="267.75" x2="237.60" y2="269.95" stroke="#0c0c0c" stroke-width="0.8" stroke-linecap="butt"/>
<line x1="239.50" y1="267.75" x2="239.50" y2="269.95" stroke="#0c0c0c" stroke-width="0.8" stroke-linecap="butt"/>
<line x1="241.40" y1="267.75" x2="241.40" y2="271.55" stroke="#0c0c0c" stroke-width="0.8" stroke-linecap="butt"/>
<line x1="243.30" y1="267.75" x2="243.30" y2="269.95" stroke="#0c0c0c" stroke-width="0.8" stroke-linecap="butt"/>
<line x1="245.20" y1="267.75" x2="245.20" y2="269.95" stroke="#0c0c0c" stroke-width="0.8" stroke-linecap="butt"/>
<line x1="247.10" y1="267.75" x2="247.10" y2="269.95" stroke="#0c0c0c" stroke-width="0.8" stroke-linecap="butt"/>
<line x1="249.00" y1="267.75" x2="249.00" y2="269.95" stroke="#0c0c0c" stroke-width="0.8" stroke-linecap="butt"/>
<line x1="250.90" y1="267.75" x2="250.90" y2="269.95" stroke="#0c0c0c" stroke-width="0.8" stroke-linecap="butt"/>
<line x1="252.80" y1="267.75" x2="252.80" y2="269.95" stroke="#0c0c0c" stroke-width="0.8" stroke-linecap="butt"/>
<line x1="254.70" y1="267.75" x2="254.70" y2="269.95" stroke="#0c0c0c" stroke-width="0.8" stroke-linecap="butt"/>
<line x1="256.60" y1="267.75" x2="256.60" y2="269.95" stroke="#0c0c0c" stroke-width="0.8" stroke-linecap="butt"/>
<line x1="258.50" y1="267.75" x2="258.50" y2="269.95" stroke="#0c0c0c" stroke-width="0.8" stroke-linecap="butt"/>
<line x1="260.40" y1="267.75" x2="260.40" y2="271.55" stroke="#0c0c0c" stroke-width="0.8" stroke-linecap="butt"/>
<line x1="262.30" y1="267.75" x2="262.30" y2="269.95" stroke="#0c0c0c" stroke-width="0.8" stroke-linecap="butt"/>
<line x1="264.20" y1="267.75" x2="264.20" y2="269.95" stroke="#0c0c0c" stroke-width="0.8" stroke-linecap="butt"/>
<line x1="266.10" y1="267.75" x2="266.10" y2="269.95" stroke="#0c0c0c" stroke-width="0.8" stroke-linecap="butt"/>
<line x1="268.00" y1="267.75" x2="268.00" y2="269.95" stroke="#0c0c0c" stroke-width="0.8" stroke-linecap="butt"/>
<line x1="269.90" y1="267.75" x2="269.90" y2="269.95" stroke="#0c0c0c" stroke-width="0.8" stroke-linecap="butt"/>
<line x1="271.80" y1="267.75" x2="271.80" y2="269.95" stroke="#0c0c0c" stroke-width="0.8" stroke-linecap="butt"/>
<line x1="273.70" y1="267.75" x2="273.70" y2="269.95" stroke="#0c0c0c" stroke-width="0.8" stroke-linecap="butt"/>
<line x1="275.60" y1="267.75" x2="275.60" y2="269.95" stroke="#0c0c0c" stroke-width="0.8" stroke-linecap="butt"/>
<line x1="277.50" y1="267.75" x2="277.50" y2="269.95" stroke="#0c0c0c" stroke-width="0.8" stroke-linecap="butt"/>
<line x1="279.40" y1="267.75" x2="279.40" y2="271.55" stroke="#0c0c0c" stroke-width="0.8" stroke-linecap="butt"/>
<line x1="281.30" y1="267.75" x2="281.30" y2="269.95" stroke="#0c0c0c" stroke-width="0.8" stroke-linecap="butt"/>
<line x1="283.20" y1="267.75" x2="283.20" y2="269.95" stroke="#0c0c0c" stroke-width="0.8" stroke-linecap="butt"/>
<line x1="285.10" y1="267.75" x2="285.10" y2="269.95" stroke="#0c0c0c" stroke-width="0.8" stroke-linecap="butt"/>
<line x1="287.00" y1="267.75" x2="287.00" y2="269.95" stroke="#0c0c0c" stroke-width="0.8" stroke-linecap="butt"/>
<line x1="288.90" y1="267.75" x2="288.90" y2="269.95" stroke="#0c0c0c" stroke-width="0.8" stroke-linecap="butt"/>
<line x1="290.80" y1="267.75" x2="290.80" y2="269.95" stroke="#0c0c0c" stroke-width="0.8" stroke-linecap="butt"/>
<line x1="292.70" y1="267.75" x2="292.70" y2="269.95" stroke="#0c0c0c" stroke-width="0.8" stroke-linecap="butt"/>
<line x1="294.60" y1="267.75" x2="294.60" y2="269.95" stroke="#0c0c0c" stroke-width="0.8" stroke-linecap="butt"/>
<line x1="296.50" y1="267.75" x2="296.50" y2="269.95" stroke="#0c0c0c" stroke-width="0.8" stroke-linecap="butt"/>
<line x1="298.40" y1="267.75" x2="298.40" y2="271.55" stroke="#0c0c0c" stroke-width="0.8" stroke-linecap="butt"/>
<line x1="300.30" y1="267.75" x2="300.30" y2="269.95" stroke="#0c0c0c" stroke-width="0.8" stroke-linecap="butt"/>
<line x1="302.20" y1="267.75" x2="302.20" y2="269.95" stroke="#0c0c0c" stroke-width="0.8" stroke-linecap="butt"/>
<line x1="304.10" y1="267.75" x2="304.10" y2="269.95" stroke="#0c0c0c" stroke-width="0.8" stroke-linecap="butt"/>
<line x1="306.00" y1="267.75" x2="306.00" y2="269.95" stroke="#0c0c0c" stroke-width="0.8" stroke-linecap="butt"/>
<line x1="307.90" y1="267.75" x2="307.90" y2="269.95" stroke="#0c0c0c" stroke-width="0.8" stroke-linecap="butt"/>
<line x1="309.80" y1="267.75" x2="309.80" y2="269.95" stroke="#0c0c0c" stroke-width="0.8" stroke-linecap="butt"/>
<line x1="311.70" y1="267.75" x2="311.70" y2="269.95" stroke="#0c0c0c" stroke-width="0.8" stroke-linecap="butt"/>
<line x1="313.60" y1="267.75" x2="313.60" y2="269.95" stroke="#0c0c0c" stroke-width="0.8" stroke-linecap="butt"/>
<line x1="315.50" y1="267.75" x2="315.50" y2="269.95" stroke="#0c0c0c" stroke-width="0.8" stroke-linecap="butt"/>
<line x1="317.40" y1="267.75" x2="317.40" y2="271.55" stroke="#0c0c0c" stroke-width="0.8" stroke-linecap="butt"/>
<line x1="319.30" y1="267.75" x2="319.30" y2="269.95" stroke="#0c0c0c" stroke-width="0.8" stroke-linecap="butt"/>
<line x1="321.20" y1="267.75" x2="321.20" y2="269.95" stroke="#0c0c0c" stroke-width="0.8" stroke-linecap="butt"/>
<line x1="323.10" y1="267.75" x2="323.10" y2="269.95" stroke="#0c0c0c" stroke-width="0.8" stroke-linecap="butt"/>
<line x1="325.00" y1="267.75" x2="325.00" y2="269.95" stroke="#0c0c0c" stroke-width="0.8" stroke-linecap="butt"/>
<line x1="326.90" y1="267.75" x2="326.90" y2="269.95" stroke="#0c0c0c" stroke-width="0.8" stroke-linecap="butt"/>
<text x="203.20" y="281.60" font-size="8.6" text-anchor="middle" font-weight="normal" fill="#0c0c0c" stroke="#0c0c0c" stroke-width="0.05">0</text>
<text x="222.80" y="281.60" font-size="8.6" text-anchor="middle" font-weight="normal" fill="#0c0c0c" stroke="#0c0c0c" stroke-width="0.05">10k</text>
<text x="241.80" y="281.60" font-size="8.6" text-anchor="middle" font-weight="normal" fill="#0c0c0c" stroke="#0c0c0c" stroke-width="0.05">20k</text>
<text x="260.80" y="281.60" font-size="8.6" text-anchor="middle" font-weight="normal" fill="#0c0c0c" stroke="#0c0c0c" stroke-width="0.05">30k</text>
<text x="279.80" y="281.60" font-size="8.6" text-anchor="middle" font-weight="normal" fill="#0c0c0c" stroke="#0c0c0c" stroke-width="0.05">40k</text>
<text x="298.80" y="281.60" font-size="8.6" text-anchor="middle" font-weight="normal" fill="#0c0c0c" stroke="#0c0c0c" stroke-width="0.05">50k</text>
<text x="317.80" y="281.60" font-size="8.6" text-anchor="middle" font-weight="normal" fill="#0c0c0c" stroke="#0c0c0c" stroke-width="0.05">60k</text>
<text x="19.80" y="205.60" font-size="11.2" text-anchor="middle" font-weight="normal" fill="#0c0c0c" stroke="#0c0c0c" stroke-width="0.2" transform="rotate(-90 19.80 205.60)" textLength="22.40" lengthAdjust="spacingAndGlyphs">Ki67</text>
<line x1="23.40" y1="264.50" x2="23.40" y2="146.00" stroke="#0c0c0c" stroke-width="1.05" stroke-linecap="butt"/>
<path d="M23.4 143.0 l-1.8 4.8 h3.6z" fill="#0c0c0c"/>
<line x1="46.30" y1="285.80" x2="320.00" y2="285.80" stroke="#0c0c0c" stroke-width="1.15" stroke-linecap="butt"/>
<path d="M323.6 285.8 l-5 -1.5 v3z" fill="#0c0c0c"/>
<text x="171.90" y="296.90" font-size="11" text-anchor="start" font-weight="normal" fill="#0c0c0c" stroke="#0c0c0c" stroke-width="0.2" textLength="25.40" lengthAdjust="spacingAndGlyphs">DAPI</text>
<text x="49.80" y="192.60" font-size="11.2" fill="#0c0c0c">G<tspan font-size="7.8">1</tspan><tspan font-size="11.2"></tspan></text>
<text x="86.00" y="192.60" font-size="11.2" fill="#0c0c0c">SG<tspan font-size="7.8">2</tspan><tspan font-size="11.2">M</tspan></text>
<text x="49.80" y="261.20" font-size="11.2" fill="#0c0c0c">G<tspan font-size="7.8">0</tspan><tspan font-size="11.2"></tspan></text>
<text x="48.60" y="230.10" font-size="8" text-anchor="start" font-weight="normal" fill="#0c0c0c" stroke="#0c0c0c" stroke-width="0.05" textLength="15.60" lengthAdjust="spacingAndGlyphs">22.7</text>
<text x="48.60" y="241.30" font-size="8" text-anchor="start" font-weight="normal" fill="#0c0c0c" stroke="#0c0c0c" stroke-width="0.05" textLength="15.60" lengthAdjust="spacingAndGlyphs">72.8</text>
<text x="170.40" y="229.60" font-size="8" text-anchor="end" font-weight="normal" fill="#0c0c0c" stroke="#0c0c0c" stroke-width="0.05" textLength="16.00" lengthAdjust="spacingAndGlyphs">3.54</text>
<text x="170.40" y="240.80" font-size="8" text-anchor="end" font-weight="normal" fill="#0c0c0c" stroke="#0c0c0c" stroke-width="0.05" textLength="16.00" lengthAdjust="spacingAndGlyphs">0.93</text>
<text x="205.60" y="230.10" font-size="8" text-anchor="start" font-weight="normal" fill="#0c0c0c" stroke="#0c0c0c" stroke-width="0.05" textLength="15.60" lengthAdjust="spacingAndGlyphs">51.8</text>
<text x="205.60" y="241.30" font-size="8" text-anchor="start" font-weight="normal" fill="#0c0c0c" stroke="#0c0c0c" stroke-width="0.05" textLength="15.60" lengthAdjust="spacingAndGlyphs">40.8</text>
<text x="327.30" y="229.60" font-size="8" text-anchor="end" font-weight="normal" fill="#0c0c0c" stroke="#0c0c0c" stroke-width="0.05">7</text>
<text x="327.30" y="240.80" font-size="8" text-anchor="end" font-weight="normal" fill="#0c0c0c" stroke="#0c0c0c" stroke-width="0.05" textLength="16.00" lengthAdjust="spacingAndGlyphs">0.37</text>
<path d="M71.7 236.8h1.1v1.1h-1.1zM71.8 232.3h1.1v1.1h-1.1zM71.1 232.8h1.1v1.1h-1.1zM73.1 236.3h1.1v1.1h-1.1zM73.0 235.4h1.1v1.1h-1.1zM72.4 235.0h1.1v1.1h-1.1zM70.3 238.7h1.1v1.1h-1.1zM72.5 236.7h1.1v1.1h-1.1zM70.3 224.4h1.1v1.1h-1.1zM71.1 231.4h1.1v1.1h-1.1zM72.3 233.7h1.1v1.1h-1.1zM72.5 230.5h1.1v1.1h-1.1zM72.3 236.2h1.1v1.1h-1.1zM71.3 243.4h1.1v1.1h-1.1zM72.6 240.6h1.1v1.1h-1.1zM71.4 229.9h1.1v1.1h-1.1zM71.7 233.4h1.1v1.1h-1.1zM72.6 235.4h1.1v1.1h-1.1zM71.6 228.7h1.1v1.1h-1.1zM71.5 240.7h1.1v1.1h-1.1zM71.2 235.3h1.1v1.1h-1.1zM72.4 225.8h1.1v1.1h-1.1zM72.0 241.2h1.1v1.1h-1.1zM70.0 232.2h1.1v1.1h-1.1zM71.9 229.5h1.1v1.1h-1.1zM72.5 233.7h1.1v1.1h-1.1zM70.5 238.6h1.1v1.1h-1.1zM72.7 239.2h1.1v1.1h-1.1zM73.4 236.0h1.1v1.1h-1.1zM72.1 226.9h1.1v1.1h-1.1zM72.6 230.6h1.1v1.1h-1.1zM71.5 227.0h1.1v1.1h-1.1zM71.0 231.1h1.1v1.1h-1.1zM73.3 222.8h1.1v1.1h-1.1zM70.5 235.3h1.1v1.1h-1.1zM73.4 237.2h1.1v1.1h-1.1zM70.1 220.1h1.1v1.1h-1.1zM72.4 230.0h1.1v1.1h-1.1zM70.9 239.4h1.1v1.1h-1.1zM73.1 234.9h1.1v1.1h-1.1zM72.2 236.4h1.1v1.1h-1.1zM73.6 237.4h1.1v1.1h-1.1zM72.5 237.0h1.1v1.1h-1.1zM70.4 241.0h1.1v1.1h-1.1zM73.0 236.9h1.1v1.1h-1.1zM70.0 230.5h1.1v1.1h-1.1zM72.8 224.0h1.1v1.1h-1.1zM71.8 239.6h1.1v1.1h-1.1zM70.7 242.9h1.1v1.1h-1.1zM72.6 233.2h1.1v1.1h-1.1zM72.3 237.6h1.1v1.1h-1.1zM72.1 240.3h1.1v1.1h-1.1zM71.3 231.7h1.1v1.1h-1.1zM73.0 234.1h1.1v1.1h-1.1zM71.1 239.2h1.1v1.1h-1.1zM73.5 231.6h1.1v1.1h-1.1zM70.6 233.3h1.1v1.1h-1.1zM71.9 232.4h1.1v1.1h-1.1zM73.4 228.4h1.1v1.1h-1.1zM73.3 227.0h1.1v1.1h-1.1zM71.2 237.5h1.1v1.1h-1.1zM73.1 238.7h1.1v1.1h-1.1zM72.3 234.8h1.1v1.1h-1.1zM72.2 237.2h1.1v1.1h-1.1zM71.8 235.5h1.1v1.1h-1.1zM72.6 234.0h1.1v1.1h-1.1zM72.8 237.1h1.1v1.1h-1.1zM74.0 235.8h1.1v1.1h-1.1zM71.6 232.0h1.1v1.1h-1.1zM72.0 239.1h1.1v1.1h-1.1zM71.7 236.1h1.1v1.1h-1.1zM73.8 219.9h1.1v1.1h-1.1zM70.9 235.3h1.1v1.1h-1.1zM72.4 235.3h1.1v1.1h-1.1zM71.6 237.6h1.1v1.1h-1.1zM72.3 231.1h1.1v1.1h-1.1zM74.4 236.0h1.1v1.1h-1.1zM71.4 233.5h1.1v1.1h-1.1zM71.8 233.7h1.1v1.1h-1.1zM69.3 231.3h1.1v1.1h-1.1zM73.0 227.6h1.1v1.1h-1.1zM71.9 239.2h1.1v1.1h-1.1zM72.9 242.2h1.1v1.1h-1.1zM70.3 232.1h1.1v1.1h-1.1zM71.7 237.4h1.1v1.1h-1.1zM73.1 219.2h1.1v1.1h-1.1zM73.1 226.0h1.1v1.1h-1.1zM72.7 225.8h1.1v1.1h-1.1zM72.2 240.6h1.1v1.1h-1.1zM71.9 235.1h1.1v1.1h-1.1zM72.8 234.8h1.1v1.1h-1.1zM71.9 242.4h1.1v1.1h-1.1zM73.0 232.4h1.1v1.1h-1.1zM74.7 227.7h1.1v1.1h-1.1zM72.9 232.5h1.1v1.1h-1.1zM72.1 237.9h1.1v1.1h-1.1zM72.2 237.5h1.1v1.1h-1.1zM70.5 225.7h1.1v1.1h-1.1zM72.6 228.7h1.1v1.1h-1.1zM71.0 225.9h1.1v1.1h-1.1zM73.3 238.1h1.1v1.1h-1.1zM73.5 228.8h1.1v1.1h-1.1zM72.0 227.7h1.1v1.1h-1.1zM72.8 242.7h1.1v1.1h-1.1zM71.1 242.6h1.1v1.1h-1.1zM73.0 233.0h1.1v1.1h-1.1zM70.0 241.7h1.1v1.1h-1.1zM71.9 230.7h1.1v1.1h-1.1zM72.4 236.3h1.1v1.1h-1.1zM73.5 228.4h1.1v1.1h-1.1zM73.1 242.2h1.1v1.1h-1.1zM73.5 233.0h1.1v1.1h-1.1zM71.3 239.6h1.1v1.1h-1.1zM72.1 234.7h1.1v1.1h-1.1zM73.4 232.6h1.1v1.1h-1.1zM69.7 231.9h1.1v1.1h-1.1zM70.1 238.5h1.1v1.1h-1.1zM72.3 230.6h1.1v1.1h-1.1zM72.0 238.6h1.1v1.1h-1.1zM72.1 241.3h1.1v1.1h-1.1zM71.9 239.7h1.1v1.1h-1.1zM73.5 242.9h1.1v1.1h-1.1zM71.3 238.8h1.1v1.1h-1.1zM70.1 228.0h1.1v1.1h-1.1zM70.0 239.9h1.1v1.1h-1.1zM70.8 233.9h1.1v1.1h-1.1zM71.8 233.8h1.1v1.1h-1.1zM71.4 235.3h1.1v1.1h-1.1zM73.8 234.2h1.1v1.1h-1.1zM72.5 239.5h1.1v1.1h-1.1zM71.8 227.1h1.1v1.1h-1.1zM71.4 239.9h1.1v1.1h-1.1zM70.4 230.7h1.1v1.1h-1.1zM73.0 238.4h1.1v1.1h-1.1zM72.0 238.4h1.1v1.1h-1.1zM72.2 227.5h1.1v1.1h-1.1zM70.4 230.5h1.1v1.1h-1.1zM72.9 230.9h1.1v1.1h-1.1zM71.1 229.8h1.1v1.1h-1.1zM70.5 233.4h1.1v1.1h-1.1zM70.8 236.0h1.1v1.1h-1.1zM69.6 235.8h1.1v1.1h-1.1zM71.4 223.3h1.1v1.1h-1.1zM72.7 232.5h1.1v1.1h-1.1zM69.8 229.2h1.1v1.1h-1.1zM72.3 231.5h1.1v1.1h-1.1zM72.8 238.1h1.1v1.1h-1.1zM72.7 235.8h1.1v1.1h-1.1zM73.3 237.6h1.1v1.1h-1.1zM72.5 222.5h1.1v1.1h-1.1zM72.9 241.2h1.1v1.1h-1.1zM71.7 231.4h1.1v1.1h-1.1zM73.9 224.3h1.1v1.1h-1.1zM72.5 247.3h1.1v1.1h-1.1zM71.1 237.8h1.1v1.1h-1.1zM73.9 233.3h1.1v1.1h-1.1zM72.6 239.0h1.1v1.1h-1.1zM71.1 233.5h1.1v1.1h-1.1zM72.3 238.5h1.1v1.1h-1.1zM72.0 232.9h1.1v1.1h-1.1zM71.0 232.0h1.1v1.1h-1.1zM72.9 234.6h1.1v1.1h-1.1zM71.1 229.4h1.1v1.1h-1.1zM74.7 240.3h1.1v1.1h-1.1zM72.6 219.7h1.1v1.1h-1.1zM72.6 236.6h1.1v1.1h-1.1zM73.7 236.4h1.1v1.1h-1.1zM71.9 236.9h1.1v1.1h-1.1zM70.1 239.7h1.1v1.1h-1.1zM72.3 230.1h1.1v1.1h-1.1zM73.3 244.0h1.1v1.1h-1.1zM70.6 230.3h1.1v1.1h-1.1zM72.3 235.0h1.1v1.1h-1.1zM71.6 228.6h1.1v1.1h-1.1zM74.1 239.7h1.1v1.1h-1.1zM70.8 226.6h1.1v1.1h-1.1zM73.7 239.4h1.1v1.1h-1.1zM73.8 238.5h1.1v1.1h-1.1zM71.1 235.4h1.1v1.1h-1.1zM69.8 229.9h1.1v1.1h-1.1zM71.9 236.9h1.1v1.1h-1.1zM71.3 233.3h1.1v1.1h-1.1zM72.5 236.1h1.1v1.1h-1.1zM72.6 235.1h1.1v1.1h-1.1zM71.7 238.3h1.1v1.1h-1.1zM72.0 229.5h1.1v1.1h-1.1zM71.4 234.0h1.1v1.1h-1.1zM71.9 234.9h1.1v1.1h-1.1zM72.0 235.0h1.1v1.1h-1.1zM71.9 227.1h1.1v1.1h-1.1zM72.4 239.8h1.1v1.1h-1.1zM72.4 233.0h1.1v1.1h-1.1zM72.4 228.7h1.1v1.1h-1.1zM70.1 234.3h1.1v1.1h-1.1zM71.1 238.1h1.1v1.1h-1.1zM70.9 219.5h1.1v1.1h-1.1zM71.0 242.7h1.1v1.1h-1.1zM71.6 226.5h1.1v1.1h-1.1zM71.2 236.9h1.1v1.1h-1.1zM72.5 235.0h1.1v1.1h-1.1zM73.5 237.9h1.1v1.1h-1.1zM72.0 237.3h1.1v1.1h-1.1zM73.7 239.3h1.1v1.1h-1.1zM73.0 228.0h1.1v1.1h-1.1zM71.9 238.0h1.1v1.1h-1.1zM71.7 239.9h1.1v1.1h-1.1zM72.6 239.0h1.1v1.1h-1.1zM71.8 248.0h1.1v1.1h-1.1zM73.2 232.8h1.1v1.1h-1.1zM72.1 248.3h1.1v1.1h-1.1zM71.7 238.8h1.1v1.1h-1.1zM73.0 234.0h1.1v1.1h-1.1zM70.8 235.0h1.1v1.1h-1.1zM72.4 240.2h1.1v1.1h-1.1zM72.8 234.1h1.1v1.1h-1.1zM72.9 237.0h1.1v1.1h-1.1zM72.2 234.3h1.1v1.1h-1.1zM71.8 237.8h1.1v1.1h-1.1zM70.9 230.5h1.1v1.1h-1.1zM72.0 225.9h1.1v1.1h-1.1zM71.6 223.0h1.1v1.1h-1.1zM71.3 237.1h1.1v1.1h-1.1zM72.6 233.7h1.1v1.1h-1.1zM71.8 226.2h1.1v1.1h-1.1zM73.8 236.8h1.1v1.1h-1.1zM73.1 229.1h1.1v1.1h-1.1zM71.8 224.0h1.1v1.1h-1.1zM72.8 239.1h1.1v1.1h-1.1zM70.1 233.7h1.1v1.1h-1.1zM72.6 224.3h1.1v1.1h-1.1zM70.2 228.1h1.1v1.1h-1.1zM71.4 226.3h1.1v1.1h-1.1zM72.0 235.4h1.1v1.1h-1.1zM72.6 237.9h1.1v1.1h-1.1zM73.5 240.4h1.1v1.1h-1.1zM70.7 231.2h1.1v1.1h-1.1zM70.9 228.1h1.1v1.1h-1.1zM71.9 234.0h1.1v1.1h-1.1zM72.5 225.3h1.1v1.1h-1.1zM70.8 233.9h1.1v1.1h-1.1zM71.8 232.3h1.1v1.1h-1.1zM71.9 229.8h1.1v1.1h-1.1zM72.7 235.9h1.1v1.1h-1.1zM71.9 230.3h1.1v1.1h-1.1zM71.8 219.0h1.1v1.1h-1.1zM71.0 234.2h1.1v1.1h-1.1zM70.5 235.1h1.1v1.1h-1.1zM72.1 226.4h1.1v1.1h-1.1zM71.7 232.3h1.1v1.1h-1.1zM72.5 237.4h1.1v1.1h-1.1zM72.0 229.3h1.1v1.1h-1.1zM71.9 233.6h1.1v1.1h-1.1zM72.7 235.6h1.1v1.1h-1.1zM71.3 226.6h1.1v1.1h-1.1zM71.6 229.9h1.1v1.1h-1.1zM70.9 233.4h1.1v1.1h-1.1zM71.5 234.6h1.1v1.1h-1.1zM72.5 231.7h1.1v1.1h-1.1zM74.3 232.2h1.1v1.1h-1.1zM73.1 234.7h1.1v1.1h-1.1zM73.1 220.9h1.1v1.1h-1.1zM71.2 235.4h1.1v1.1h-1.1zM72.6 246.9h1.1v1.1h-1.1zM72.3 241.0h1.1v1.1h-1.1zM72.8 239.2h1.1v1.1h-1.1zM72.5 233.1h1.1v1.1h-1.1zM72.5 228.1h1.1v1.1h-1.1zM73.2 228.4h1.1v1.1h-1.1zM72.2 245.7h1.1v1.1h-1.1zM71.8 234.1h1.1v1.1h-1.1zM73.2 234.1h1.1v1.1h-1.1zM71.2 235.4h1.1v1.1h-1.1zM72.6 237.9h1.1v1.1h-1.1zM71.2 243.6h1.1v1.1h-1.1zM73.7 234.1h1.1v1.1h-1.1zM72.3 231.6h1.1v1.1h-1.1zM73.4 230.1h1.1v1.1h-1.1zM72.7 231.4h1.1v1.1h-1.1zM71.3 238.0h1.1v1.1h-1.1zM73.3 233.9h1.1v1.1h-1.1zM71.3 238.5h1.1v1.1h-1.1zM72.0 235.7h1.1v1.1h-1.1zM73.5 240.2h1.1v1.1h-1.1zM71.5 246.6h1.1v1.1h-1.1zM72.0 238.3h1.1v1.1h-1.1zM71.4 233.8h1.1v1.1h-1.1zM70.3 243.8h1.1v1.1h-1.1zM73.4 227.3h1.1v1.1h-1.1zM70.5 225.1h1.1v1.1h-1.1zM73.2 231.5h1.1v1.1h-1.1zM71.9 232.3h1.1v1.1h-1.1zM71.9 228.0h1.1v1.1h-1.1zM72.0 226.1h1.1v1.1h-1.1zM71.9 235.7h1.1v1.1h-1.1zM72.5 232.7h1.1v1.1h-1.1zM71.1 234.9h1.1v1.1h-1.1zM71.5 242.6h1.1v1.1h-1.1zM72.8 233.4h1.1v1.1h-1.1zM71.5 230.1h1.1v1.1h-1.1zM71.1 232.1h1.1v1.1h-1.1zM72.3 236.8h1.1v1.1h-1.1zM72.6 245.5h1.1v1.1h-1.1zM71.3 234.1h1.1v1.1h-1.1zM74.8 223.7h1.1v1.1h-1.1zM71.5 234.9h1.1v1.1h-1.1zM72.2 236.2h1.1v1.1h-1.1zM71.8 236.0h1.1v1.1h-1.1zM72.1 238.2h1.1v1.1h-1.1zM70.1 229.1h1.1v1.1h-1.1zM72.0 228.3h1.1v1.1h-1.1zM71.0 237.5h1.1v1.1h-1.1zM71.4 237.5h1.1v1.1h-1.1zM72.7 235.7h1.1v1.1h-1.1zM72.5 233.4h1.1v1.1h-1.1zM70.6 233.8h1.1v1.1h-1.1zM72.5 231.1h1.1v1.1h-1.1zM71.9 238.1h1.1v1.1h-1.1zM71.1 237.5h1.1v1.1h-1.1zM73.9 230.9h1.1v1.1h-1.1zM72.1 233.2h1.1v1.1h-1.1zM73.5 235.7h1.1v1.1h-1.1zM72.9 230.2h1.1v1.1h-1.1zM72.0 233.9h1.1v1.1h-1.1zM70.2 241.9h1.1v1.1h-1.1zM72.9 224.4h1.1v1.1h-1.1zM72.7 233.3h1.1v1.1h-1.1zM72.4 236.0h1.1v1.1h-1.1zM70.5 232.8h1.1v1.1h-1.1zM73.5 230.8h1.1v1.1h-1.1zM71.0 226.5h1.1v1.1h-1.1zM71.1 225.3h1.1v1.1h-1.1zM74.0 225.7h1.1v1.1h-1.1zM72.5 232.9h1.1v1.1h-1.1zM71.8 221.3h1.1v1.1h-1.1zM72.8 226.2h1.1v1.1h-1.1zM71.3 219.3h1.1v1.1h-1.1zM72.6 225.0h1.1v1.1h-1.1zM71.0 223.2h1.1v1.1h-1.1zM71.8 225.8h1.1v1.1h-1.1zM72.2 223.7h1.1v1.1h-1.1zM71.9 228.2h1.1v1.1h-1.1zM73.7 222.5h1.1v1.1h-1.1zM73.1 221.0h1.1v1.1h-1.1zM72.4 227.0h1.1v1.1h-1.1zM73.8 222.5h1.1v1.1h-1.1zM72.2 224.8h1.1v1.1h-1.1zM70.8 224.1h1.1v1.1h-1.1zM71.6 225.5h1.1v1.1h-1.1zM71.2 216.1h1.1v1.1h-1.1zM72.3 225.0h1.1v1.1h-1.1zM71.8 227.6h1.1v1.1h-1.1zM72.0 221.6h1.1v1.1h-1.1zM72.8 217.7h1.1v1.1h-1.1zM71.6 223.9h1.1v1.1h-1.1zM73.1 223.3h1.1v1.1h-1.1zM72.6 221.4h1.1v1.1h-1.1zM72.6 230.7h1.1v1.1h-1.1zM71.6 233.5h1.1v1.1h-1.1zM71.7 224.1h1.1v1.1h-1.1zM72.5 228.1h1.1v1.1h-1.1zM71.1 215.6h1.1v1.1h-1.1zM72.9 227.2h1.1v1.1h-1.1zM72.9 234.5h1.1v1.1h-1.1zM72.5 225.0h1.1v1.1h-1.1zM73.2 225.5h1.1v1.1h-1.1zM74.0 219.0h1.1v1.1h-1.1zM71.9 210.2h1.1v1.1h-1.1zM73.1 222.5h1.1v1.1h-1.1zM73.2 232.6h1.1v1.1h-1.1zM72.3 223.0h1.1v1.1h-1.1zM82.1 207.5h1.1v1.1h-1.1zM98.4 205.0h1.1v1.1h-1.1zM93.4 215.6h1.1v1.1h-1.1zM94.6 217.5h1.1v1.1h-1.1zM99.6 215.6h1.1v1.1h-1.1zM101.5 216.3h1.1v1.1h-1.1zM100.3 218.1h1.1v1.1h-1.1zM85.3 220.0h1.1v1.1h-1.1zM87.1 220.6h1.1v1.1h-1.1zM91.5 222.5h1.1v1.1h-1.1zM95.9 221.3h1.1v1.1h-1.1zM96.5 223.1h1.1v1.1h-1.1zM99.6 222.5h1.1v1.1h-1.1zM82.8 224.4h1.1v1.1h-1.1zM84.6 225.0h1.1v1.1h-1.1zM81.5 226.2h1.1v1.1h-1.1zM79.6 226.2h1.1v1.1h-1.1zM99.0 225.6h1.1v1.1h-1.1zM100.9 226.5h1.1v1.1h-1.1zM85.9 231.2h1.1v1.1h-1.1zM97.8 231.2h1.1v1.1h-1.1zM97.1 233.5h1.1v1.1h-1.1zM99.6 235.6h1.1v1.1h-1.1zM79.6 236.5h1.1v1.1h-1.1zM83.4 238.5h1.1v1.1h-1.1zM110.8 212.6h1.1v1.1h-1.1zM113.0 212.4h1.1v1.1h-1.1zM121.2 218.5h1.1v1.1h-1.1zM127.4 219.2h1.1v1.1h-1.1zM133.3 223.0h1.1v1.1h-1.1zM122.9 235.8h1.1v1.1h-1.1zM129.8 231.6h1.1v1.1h-1.1zM121.8 226.4h1.1v1.1h-1.1zM78.0 228.0h1.1v1.1h-1.1zM77.5 224.0h1.1v1.1h-1.1zM88.0 227.5h1.1v1.1h-1.1zM91.0 218.0h1.1v1.1h-1.1zM104.0 221.0h1.1v1.1h-1.1zM106.0 226.0h1.1v1.1h-1.1zM69.5 172.0h1.1v1.1h-1.1zM71.0 251.2h1.1v1.1h-1.1z" fill="#0c0c0c" fill-opacity="1"/>
<path d="M229.7 222.1h1.1v1.1h-1.1zM229.6 232.5h1.1v1.1h-1.1zM230.3 228.5h1.1v1.1h-1.1zM230.1 234.4h1.1v1.1h-1.1zM230.9 227.0h1.1v1.1h-1.1zM231.1 226.9h1.1v1.1h-1.1zM229.0 238.2h1.1v1.1h-1.1zM230.8 221.3h1.1v1.1h-1.1zM231.5 230.4h1.1v1.1h-1.1zM228.5 239.3h1.1v1.1h-1.1zM230.7 234.2h1.1v1.1h-1.1zM230.5 227.0h1.1v1.1h-1.1zM228.5 234.8h1.1v1.1h-1.1zM230.3 226.0h1.1v1.1h-1.1zM230.7 228.5h1.1v1.1h-1.1zM231.1 225.4h1.1v1.1h-1.1zM230.3 213.0h1.1v1.1h-1.1zM229.8 232.7h1.1v1.1h-1.1zM231.8 225.5h1.1v1.1h-1.1zM230.2 239.1h1.1v1.1h-1.1zM229.9 233.1h1.1v1.1h-1.1zM232.2 228.3h1.1v1.1h-1.1zM231.7 223.0h1.1v1.1h-1.1zM230.5 227.5h1.1v1.1h-1.1zM230.4 235.9h1.1v1.1h-1.1zM233.0 223.3h1.1v1.1h-1.1zM229.6 231.5h1.1v1.1h-1.1zM229.1 231.5h1.1v1.1h-1.1zM231.0 226.1h1.1v1.1h-1.1zM230.9 217.2h1.1v1.1h-1.1zM231.2 217.2h1.1v1.1h-1.1zM229.5 224.1h1.1v1.1h-1.1zM229.8 234.0h1.1v1.1h-1.1zM230.4 225.2h1.1v1.1h-1.1zM230.9 239.1h1.1v1.1h-1.1zM230.3 230.6h1.1v1.1h-1.1zM231.7 229.9h1.1v1.1h-1.1zM228.8 245.4h1.1v1.1h-1.1zM232.8 214.1h1.1v1.1h-1.1zM230.3 230.9h1.1v1.1h-1.1zM231.4 232.7h1.1v1.1h-1.1zM230.0 220.6h1.1v1.1h-1.1zM230.4 235.2h1.1v1.1h-1.1zM229.0 220.8h1.1v1.1h-1.1zM230.3 214.4h1.1v1.1h-1.1zM230.0 224.9h1.1v1.1h-1.1zM230.8 223.1h1.1v1.1h-1.1zM229.3 225.2h1.1v1.1h-1.1zM230.2 223.3h1.1v1.1h-1.1zM230.3 233.3h1.1v1.1h-1.1zM231.7 239.9h1.1v1.1h-1.1zM229.4 225.1h1.1v1.1h-1.1zM227.4 241.3h1.1v1.1h-1.1zM229.5 227.8h1.1v1.1h-1.1zM230.9 218.5h1.1v1.1h-1.1zM230.8 227.8h1.1v1.1h-1.1zM228.2 230.0h1.1v1.1h-1.1zM231.7 214.9h1.1v1.1h-1.1zM231.2 229.5h1.1v1.1h-1.1zM230.8 231.1h1.1v1.1h-1.1zM231.8 226.4h1.1v1.1h-1.1zM231.3 225.1h1.1v1.1h-1.1zM231.1 222.3h1.1v1.1h-1.1zM230.2 240.1h1.1v1.1h-1.1zM230.8 226.9h1.1v1.1h-1.1zM229.0 222.5h1.1v1.1h-1.1zM230.5 234.6h1.1v1.1h-1.1zM230.8 231.7h1.1v1.1h-1.1zM230.3 237.5h1.1v1.1h-1.1zM229.9 224.2h1.1v1.1h-1.1zM231.3 228.4h1.1v1.1h-1.1zM230.0 224.0h1.1v1.1h-1.1zM230.0 232.4h1.1v1.1h-1.1zM230.7 219.5h1.1v1.1h-1.1zM230.8 229.3h1.1v1.1h-1.1zM229.1 233.4h1.1v1.1h-1.1zM230.0 225.7h1.1v1.1h-1.1zM231.2 237.2h1.1v1.1h-1.1zM229.5 231.1h1.1v1.1h-1.1zM229.3 244.2h1.1v1.1h-1.1zM229.7 236.4h1.1v1.1h-1.1zM229.6 233.7h1.1v1.1h-1.1zM232.9 210.2h1.1v1.1h-1.1zM229.8 231.5h1.1v1.1h-1.1zM230.2 223.3h1.1v1.1h-1.1zM232.8 228.6h1.1v1.1h-1.1zM228.4 234.0h1.1v1.1h-1.1zM228.3 236.1h1.1v1.1h-1.1zM229.6 229.0h1.1v1.1h-1.1zM231.8 228.8h1.1v1.1h-1.1zM228.7 216.1h1.1v1.1h-1.1zM231.7 233.2h1.1v1.1h-1.1zM229.4 234.0h1.1v1.1h-1.1zM230.9 232.5h1.1v1.1h-1.1zM227.7 225.9h1.1v1.1h-1.1zM231.3 233.1h1.1v1.1h-1.1zM231.3 210.8h1.1v1.1h-1.1zM230.5 231.4h1.1v1.1h-1.1zM233.2 221.3h1.1v1.1h-1.1zM229.9 228.3h1.1v1.1h-1.1zM231.3 224.9h1.1v1.1h-1.1zM231.6 222.5h1.1v1.1h-1.1zM230.6 224.3h1.1v1.1h-1.1zM230.5 223.2h1.1v1.1h-1.1zM228.5 235.7h1.1v1.1h-1.1zM230.6 224.1h1.1v1.1h-1.1zM230.5 234.9h1.1v1.1h-1.1zM229.2 227.2h1.1v1.1h-1.1zM230.9 231.7h1.1v1.1h-1.1zM229.9 213.3h1.1v1.1h-1.1zM231.7 230.3h1.1v1.1h-1.1zM230.3 226.1h1.1v1.1h-1.1zM230.6 225.0h1.1v1.1h-1.1zM229.1 222.8h1.1v1.1h-1.1zM229.6 223.7h1.1v1.1h-1.1zM229.0 232.5h1.1v1.1h-1.1zM228.8 232.6h1.1v1.1h-1.1zM229.1 230.5h1.1v1.1h-1.1zM231.9 229.4h1.1v1.1h-1.1zM229.5 228.3h1.1v1.1h-1.1zM230.5 215.9h1.1v1.1h-1.1zM229.6 229.1h1.1v1.1h-1.1zM229.8 228.6h1.1v1.1h-1.1zM231.1 233.4h1.1v1.1h-1.1zM231.3 232.1h1.1v1.1h-1.1zM230.0 227.9h1.1v1.1h-1.1zM230.0 225.8h1.1v1.1h-1.1zM230.1 215.9h1.1v1.1h-1.1zM229.9 227.8h1.1v1.1h-1.1zM229.2 227.8h1.1v1.1h-1.1zM230.9 226.8h1.1v1.1h-1.1zM232.7 209.8h1.1v1.1h-1.1zM230.1 215.2h1.1v1.1h-1.1zM231.4 246.6h1.1v1.1h-1.1zM227.4 228.9h1.1v1.1h-1.1zM230.9 225.9h1.1v1.1h-1.1zM230.9 212.3h1.1v1.1h-1.1zM231.3 230.6h1.1v1.1h-1.1zM230.3 223.9h1.1v1.1h-1.1zM231.0 224.6h1.1v1.1h-1.1zM230.6 224.4h1.1v1.1h-1.1zM227.7 227.8h1.1v1.1h-1.1zM230.5 233.3h1.1v1.1h-1.1zM229.3 227.8h1.1v1.1h-1.1zM231.0 229.0h1.1v1.1h-1.1zM231.7 241.9h1.1v1.1h-1.1zM229.3 214.6h1.1v1.1h-1.1zM231.3 238.7h1.1v1.1h-1.1zM231.4 233.7h1.1v1.1h-1.1zM229.6 223.0h1.1v1.1h-1.1zM231.3 221.6h1.1v1.1h-1.1zM228.2 221.0h1.1v1.1h-1.1zM233.2 241.5h1.1v1.1h-1.1zM229.5 222.9h1.1v1.1h-1.1zM230.6 222.8h1.1v1.1h-1.1zM231.8 227.5h1.1v1.1h-1.1zM229.1 237.2h1.1v1.1h-1.1zM229.6 229.5h1.1v1.1h-1.1zM230.3 225.8h1.1v1.1h-1.1zM230.7 223.2h1.1v1.1h-1.1zM228.2 212.5h1.1v1.1h-1.1zM228.8 222.7h1.1v1.1h-1.1zM230.3 228.4h1.1v1.1h-1.1zM230.9 228.8h1.1v1.1h-1.1zM229.4 223.0h1.1v1.1h-1.1zM227.9 226.8h1.1v1.1h-1.1zM230.9 231.7h1.1v1.1h-1.1zM230.2 226.8h1.1v1.1h-1.1zM231.4 228.1h1.1v1.1h-1.1zM231.1 232.1h1.1v1.1h-1.1zM230.5 237.1h1.1v1.1h-1.1zM229.6 225.5h1.1v1.1h-1.1zM229.4 222.4h1.1v1.1h-1.1zM232.1 240.3h1.1v1.1h-1.1zM230.3 232.0h1.1v1.1h-1.1zM231.7 233.7h1.1v1.1h-1.1zM231.7 219.2h1.1v1.1h-1.1zM229.6 231.2h1.1v1.1h-1.1zM232.0 228.7h1.1v1.1h-1.1zM229.3 225.5h1.1v1.1h-1.1zM229.5 222.0h1.1v1.1h-1.1zM232.0 223.6h1.1v1.1h-1.1zM230.3 243.1h1.1v1.1h-1.1zM231.7 230.4h1.1v1.1h-1.1zM229.6 230.9h1.1v1.1h-1.1zM232.2 232.4h1.1v1.1h-1.1zM231.8 228.7h1.1v1.1h-1.1zM230.9 226.6h1.1v1.1h-1.1zM230.8 237.1h1.1v1.1h-1.1zM228.7 227.6h1.1v1.1h-1.1zM230.6 224.0h1.1v1.1h-1.1zM229.9 233.5h1.1v1.1h-1.1zM232.6 232.4h1.1v1.1h-1.1zM230.7 217.1h1.1v1.1h-1.1zM232.5 228.5h1.1v1.1h-1.1zM230.3 220.2h1.1v1.1h-1.1zM230.2 220.3h1.1v1.1h-1.1zM230.4 231.3h1.1v1.1h-1.1zM230.3 230.0h1.1v1.1h-1.1zM229.3 238.0h1.1v1.1h-1.1zM229.5 215.3h1.1v1.1h-1.1zM230.1 222.7h1.1v1.1h-1.1zM229.1 225.5h1.1v1.1h-1.1zM230.6 219.7h1.1v1.1h-1.1zM230.1 238.0h1.1v1.1h-1.1zM231.1 226.9h1.1v1.1h-1.1zM230.4 227.2h1.1v1.1h-1.1zM230.2 233.1h1.1v1.1h-1.1zM230.2 211.2h1.1v1.1h-1.1zM230.3 221.8h1.1v1.1h-1.1zM231.0 223.7h1.1v1.1h-1.1zM230.5 243.2h1.1v1.1h-1.1zM229.1 220.1h1.1v1.1h-1.1zM228.7 211.2h1.1v1.1h-1.1zM228.1 230.6h1.1v1.1h-1.1zM229.6 214.9h1.1v1.1h-1.1zM228.6 232.3h1.1v1.1h-1.1zM229.4 225.4h1.1v1.1h-1.1zM230.7 237.5h1.1v1.1h-1.1zM232.5 235.2h1.1v1.1h-1.1zM230.5 229.3h1.1v1.1h-1.1zM232.4 238.0h1.1v1.1h-1.1zM229.9 231.2h1.1v1.1h-1.1zM230.6 228.4h1.1v1.1h-1.1zM229.7 218.7h1.1v1.1h-1.1zM229.7 217.2h1.1v1.1h-1.1zM231.7 231.8h1.1v1.1h-1.1zM228.9 237.8h1.1v1.1h-1.1zM231.3 214.6h1.1v1.1h-1.1zM232.4 233.7h1.1v1.1h-1.1zM232.7 219.4h1.1v1.1h-1.1zM230.9 231.0h1.1v1.1h-1.1zM230.5 229.2h1.1v1.1h-1.1zM231.5 217.5h1.1v1.1h-1.1zM228.9 218.2h1.1v1.1h-1.1zM229.7 223.8h1.1v1.1h-1.1zM230.7 229.9h1.1v1.1h-1.1zM230.3 223.3h1.1v1.1h-1.1zM229.8 234.7h1.1v1.1h-1.1zM231.2 228.7h1.1v1.1h-1.1zM229.9 238.9h1.1v1.1h-1.1zM229.6 232.5h1.1v1.1h-1.1zM231.6 226.1h1.1v1.1h-1.1zM231.2 220.2h1.1v1.1h-1.1zM231.5 229.4h1.1v1.1h-1.1zM228.5 232.7h1.1v1.1h-1.1zM229.3 237.0h1.1v1.1h-1.1zM229.5 226.8h1.1v1.1h-1.1zM230.6 225.7h1.1v1.1h-1.1zM230.6 224.1h1.1v1.1h-1.1zM231.1 228.0h1.1v1.1h-1.1zM230.5 208.7h1.1v1.1h-1.1zM231.6 228.2h1.1v1.1h-1.1zM228.2 228.7h1.1v1.1h-1.1zM230.8 235.5h1.1v1.1h-1.1zM229.1 238.8h1.1v1.1h-1.1zM230.1 244.8h1.1v1.1h-1.1zM230.1 232.8h1.1v1.1h-1.1zM229.9 220.2h1.1v1.1h-1.1zM231.6 234.3h1.1v1.1h-1.1zM232.1 234.0h1.1v1.1h-1.1zM229.6 216.4h1.1v1.1h-1.1zM229.6 223.3h1.1v1.1h-1.1zM229.4 232.1h1.1v1.1h-1.1zM230.7 226.1h1.1v1.1h-1.1zM230.5 227.0h1.1v1.1h-1.1zM230.5 233.3h1.1v1.1h-1.1zM231.4 223.2h1.1v1.1h-1.1zM228.6 238.0h1.1v1.1h-1.1zM230.4 235.7h1.1v1.1h-1.1zM228.4 225.7h1.1v1.1h-1.1zM230.3 217.9h1.1v1.1h-1.1zM229.7 233.1h1.1v1.1h-1.1zM231.5 239.2h1.1v1.1h-1.1zM229.3 218.2h1.1v1.1h-1.1zM230.9 234.6h1.1v1.1h-1.1zM230.5 218.9h1.1v1.1h-1.1zM231.2 233.5h1.1v1.1h-1.1zM230.9 224.6h1.1v1.1h-1.1zM230.6 233.5h1.1v1.1h-1.1zM229.7 215.1h1.1v1.1h-1.1zM230.7 231.4h1.1v1.1h-1.1zM230.3 234.2h1.1v1.1h-1.1zM229.6 227.4h1.1v1.1h-1.1zM229.9 232.0h1.1v1.1h-1.1zM232.1 226.2h1.1v1.1h-1.1zM232.7 238.7h1.1v1.1h-1.1zM231.2 232.1h1.1v1.1h-1.1zM232.3 226.7h1.1v1.1h-1.1zM230.2 220.6h1.1v1.1h-1.1zM230.8 237.4h1.1v1.1h-1.1zM230.9 231.0h1.1v1.1h-1.1zM230.1 229.2h1.1v1.1h-1.1zM228.7 235.3h1.1v1.1h-1.1zM229.8 220.3h1.1v1.1h-1.1zM229.4 222.2h1.1v1.1h-1.1zM231.3 235.4h1.1v1.1h-1.1zM228.7 234.5h1.1v1.1h-1.1zM231.3 223.9h1.1v1.1h-1.1zM228.6 222.8h1.1v1.1h-1.1zM229.6 230.4h1.1v1.1h-1.1zM229.9 213.8h1.1v1.1h-1.1zM230.6 217.3h1.1v1.1h-1.1zM231.3 219.6h1.1v1.1h-1.1zM229.5 222.0h1.1v1.1h-1.1zM229.7 237.1h1.1v1.1h-1.1zM231.3 232.2h1.1v1.1h-1.1zM230.7 217.2h1.1v1.1h-1.1zM229.7 224.1h1.1v1.1h-1.1zM229.2 231.6h1.1v1.1h-1.1zM229.4 223.0h1.1v1.1h-1.1zM229.1 213.6h1.1v1.1h-1.1zM231.0 237.3h1.1v1.1h-1.1zM230.5 221.2h1.1v1.1h-1.1zM227.2 229.2h1.1v1.1h-1.1zM231.7 230.1h1.1v1.1h-1.1zM231.4 238.3h1.1v1.1h-1.1zM231.6 224.9h1.1v1.1h-1.1zM231.5 233.4h1.1v1.1h-1.1zM228.5 225.2h1.1v1.1h-1.1zM228.7 227.2h1.1v1.1h-1.1zM231.0 220.5h1.1v1.1h-1.1zM227.9 237.1h1.1v1.1h-1.1zM230.7 238.3h1.1v1.1h-1.1zM228.8 235.4h1.1v1.1h-1.1zM232.7 242.0h1.1v1.1h-1.1zM230.1 229.9h1.1v1.1h-1.1zM230.1 235.0h1.1v1.1h-1.1zM231.5 228.6h1.1v1.1h-1.1zM228.7 233.2h1.1v1.1h-1.1zM229.8 232.4h1.1v1.1h-1.1zM230.6 239.4h1.1v1.1h-1.1zM231.6 224.8h1.1v1.1h-1.1zM230.7 240.3h1.1v1.1h-1.1zM229.7 231.0h1.1v1.1h-1.1zM231.7 236.8h1.1v1.1h-1.1zM230.9 218.8h1.1v1.1h-1.1zM228.8 229.7h1.1v1.1h-1.1zM230.7 245.8h1.1v1.1h-1.1zM229.3 236.0h1.1v1.1h-1.1zM231.2 216.3h1.1v1.1h-1.1zM229.4 229.2h1.1v1.1h-1.1zM229.7 226.9h1.1v1.1h-1.1zM230.8 222.3h1.1v1.1h-1.1zM230.8 223.5h1.1v1.1h-1.1zM229.7 231.8h1.1v1.1h-1.1zM229.6 230.0h1.1v1.1h-1.1zM232.1 228.2h1.1v1.1h-1.1zM230.1 233.1h1.1v1.1h-1.1zM229.9 235.6h1.1v1.1h-1.1zM228.8 232.3h1.1v1.1h-1.1zM229.7 222.4h1.1v1.1h-1.1zM232.3 222.0h1.1v1.1h-1.1zM232.3 232.6h1.1v1.1h-1.1zM232.0 221.2h1.1v1.1h-1.1zM231.7 238.2h1.1v1.1h-1.1zM230.2 227.1h1.1v1.1h-1.1zM233.1 229.2h1.1v1.1h-1.1zM229.8 223.6h1.1v1.1h-1.1zM230.8 230.3h1.1v1.1h-1.1zM230.5 240.1h1.1v1.1h-1.1zM229.9 231.3h1.1v1.1h-1.1zM232.0 221.0h1.1v1.1h-1.1zM231.5 240.8h1.1v1.1h-1.1zM228.7 220.3h1.1v1.1h-1.1zM229.1 215.1h1.1v1.1h-1.1zM230.8 215.0h1.1v1.1h-1.1zM230.9 238.2h1.1v1.1h-1.1zM228.4 225.8h1.1v1.1h-1.1zM228.1 233.5h1.1v1.1h-1.1zM229.5 226.1h1.1v1.1h-1.1zM230.4 231.8h1.1v1.1h-1.1zM229.9 228.1h1.1v1.1h-1.1zM229.7 228.8h1.1v1.1h-1.1zM229.0 228.4h1.1v1.1h-1.1zM228.1 224.6h1.1v1.1h-1.1zM232.5 228.6h1.1v1.1h-1.1zM228.9 229.8h1.1v1.1h-1.1zM229.2 216.4h1.1v1.1h-1.1zM229.5 233.2h1.1v1.1h-1.1zM230.7 227.3h1.1v1.1h-1.1zM229.2 220.4h1.1v1.1h-1.1zM231.9 229.7h1.1v1.1h-1.1zM229.2 213.2h1.1v1.1h-1.1zM228.7 245.3h1.1v1.1h-1.1zM229.0 227.5h1.1v1.1h-1.1zM230.5 226.9h1.1v1.1h-1.1zM230.0 218.4h1.1v1.1h-1.1zM229.1 239.8h1.1v1.1h-1.1zM229.4 233.9h1.1v1.1h-1.1zM228.4 226.1h1.1v1.1h-1.1zM230.6 235.3h1.1v1.1h-1.1zM229.0 232.2h1.1v1.1h-1.1zM230.7 222.8h1.1v1.1h-1.1zM230.8 221.7h1.1v1.1h-1.1zM229.4 227.9h1.1v1.1h-1.1zM227.2 227.2h1.1v1.1h-1.1zM229.1 217.8h1.1v1.1h-1.1zM229.8 233.3h1.1v1.1h-1.1zM229.8 236.9h1.1v1.1h-1.1zM229.0 218.8h1.1v1.1h-1.1zM232.1 230.8h1.1v1.1h-1.1zM231.4 222.2h1.1v1.1h-1.1zM231.2 229.8h1.1v1.1h-1.1zM231.0 228.2h1.1v1.1h-1.1zM231.7 223.5h1.1v1.1h-1.1zM229.2 217.7h1.1v1.1h-1.1zM231.6 222.8h1.1v1.1h-1.1zM229.1 221.4h1.1v1.1h-1.1zM229.8 219.1h1.1v1.1h-1.1zM230.0 223.6h1.1v1.1h-1.1zM229.7 221.3h1.1v1.1h-1.1zM230.3 224.8h1.1v1.1h-1.1zM230.4 229.7h1.1v1.1h-1.1zM230.7 212.7h1.1v1.1h-1.1zM229.7 222.4h1.1v1.1h-1.1zM231.2 217.0h1.1v1.1h-1.1zM229.5 225.9h1.1v1.1h-1.1zM229.9 234.9h1.1v1.1h-1.1zM229.8 234.8h1.1v1.1h-1.1zM228.6 215.3h1.1v1.1h-1.1zM231.7 231.0h1.1v1.1h-1.1zM230.9 228.9h1.1v1.1h-1.1zM230.9 219.5h1.1v1.1h-1.1zM231.4 224.3h1.1v1.1h-1.1zM231.4 228.6h1.1v1.1h-1.1zM228.0 219.0h1.1v1.1h-1.1zM231.6 227.0h1.1v1.1h-1.1zM229.8 229.7h1.1v1.1h-1.1zM229.8 224.2h1.1v1.1h-1.1zM230.4 229.0h1.1v1.1h-1.1zM232.0 228.3h1.1v1.1h-1.1zM232.5 240.6h1.1v1.1h-1.1zM232.3 235.4h1.1v1.1h-1.1zM230.5 229.0h1.1v1.1h-1.1zM230.1 222.9h1.1v1.1h-1.1zM230.2 223.5h1.1v1.1h-1.1zM232.2 231.7h1.1v1.1h-1.1zM229.8 214.6h1.1v1.1h-1.1zM230.2 225.1h1.1v1.1h-1.1zM229.1 220.0h1.1v1.1h-1.1zM227.7 232.0h1.1v1.1h-1.1zM230.2 246.1h1.1v1.1h-1.1zM230.3 227.0h1.1v1.1h-1.1zM232.0 228.9h1.1v1.1h-1.1zM230.5 225.4h1.1v1.1h-1.1zM229.6 238.5h1.1v1.1h-1.1zM231.5 240.0h1.1v1.1h-1.1zM229.9 228.2h1.1v1.1h-1.1zM229.3 234.8h1.1v1.1h-1.1zM228.7 232.0h1.1v1.1h-1.1zM231.6 237.9h1.1v1.1h-1.1zM229.2 235.6h1.1v1.1h-1.1zM229.5 222.7h1.1v1.1h-1.1zM228.8 236.1h1.1v1.1h-1.1zM232.2 223.8h1.1v1.1h-1.1zM229.4 225.6h1.1v1.1h-1.1zM233.2 235.0h1.1v1.1h-1.1zM229.7 215.4h1.1v1.1h-1.1zM229.5 236.3h1.1v1.1h-1.1zM232.4 226.1h1.1v1.1h-1.1zM229.5 224.4h1.1v1.1h-1.1zM228.1 234.4h1.1v1.1h-1.1zM229.1 235.4h1.1v1.1h-1.1zM228.3 219.1h1.1v1.1h-1.1zM230.6 222.7h1.1v1.1h-1.1zM231.2 228.1h1.1v1.1h-1.1zM228.9 232.4h1.1v1.1h-1.1zM231.3 214.6h1.1v1.1h-1.1zM232.4 231.5h1.1v1.1h-1.1zM231.2 215.0h1.1v1.1h-1.1zM229.5 225.6h1.1v1.1h-1.1zM231.5 217.8h1.1v1.1h-1.1zM229.3 213.8h1.1v1.1h-1.1zM230.0 230.4h1.1v1.1h-1.1zM228.4 223.9h1.1v1.1h-1.1zM230.9 239.1h1.1v1.1h-1.1zM231.1 225.9h1.1v1.1h-1.1zM228.9 221.4h1.1v1.1h-1.1zM229.5 229.0h1.1v1.1h-1.1zM230.2 239.7h1.1v1.1h-1.1zM230.6 220.5h1.1v1.1h-1.1zM232.1 234.6h1.1v1.1h-1.1zM230.4 223.0h1.1v1.1h-1.1zM228.1 220.8h1.1v1.1h-1.1zM231.3 222.4h1.1v1.1h-1.1zM228.8 229.4h1.1v1.1h-1.1zM230.6 232.2h1.1v1.1h-1.1zM231.1 237.9h1.1v1.1h-1.1zM229.3 234.9h1.1v1.1h-1.1zM229.2 232.9h1.1v1.1h-1.1zM230.5 229.7h1.1v1.1h-1.1zM231.4 227.9h1.1v1.1h-1.1zM231.6 234.1h1.1v1.1h-1.1zM230.5 224.0h1.1v1.1h-1.1zM229.4 224.3h1.1v1.1h-1.1zM230.1 227.8h1.1v1.1h-1.1zM233.7 232.5h1.1v1.1h-1.1zM231.2 222.0h1.1v1.1h-1.1zM229.5 225.8h1.1v1.1h-1.1zM230.5 220.7h1.1v1.1h-1.1zM232.2 224.1h1.1v1.1h-1.1zM231.5 211.6h1.1v1.1h-1.1zM230.3 229.9h1.1v1.1h-1.1zM230.5 232.2h1.1v1.1h-1.1zM230.6 229.1h1.1v1.1h-1.1zM228.1 223.0h1.1v1.1h-1.1zM227.6 232.4h1.1v1.1h-1.1zM230.7 226.6h1.1v1.1h-1.1zM229.4 223.9h1.1v1.1h-1.1zM232.4 240.1h1.1v1.1h-1.1zM230.2 237.0h1.1v1.1h-1.1zM228.5 214.5h1.1v1.1h-1.1zM229.7 221.9h1.1v1.1h-1.1zM229.7 229.3h1.1v1.1h-1.1zM233.8 223.4h1.1v1.1h-1.1zM230.4 229.9h1.1v1.1h-1.1zM230.3 234.5h1.1v1.1h-1.1zM232.3 219.3h1.1v1.1h-1.1zM230.5 226.1h1.1v1.1h-1.1zM258.7 219.5h1.1v1.1h-1.1zM264.6 214.6h1.1v1.1h-1.1zM237.1 228.8h1.1v1.1h-1.1zM263.2 224.6h1.1v1.1h-1.1zM255.5 220.0h1.1v1.1h-1.1zM257.9 225.5h1.1v1.1h-1.1zM238.6 223.5h1.1v1.1h-1.1zM239.2 227.1h1.1v1.1h-1.1zM249.7 223.9h1.1v1.1h-1.1zM239.7 226.9h1.1v1.1h-1.1zM255.5 227.1h1.1v1.1h-1.1zM241.3 224.7h1.1v1.1h-1.1zM236.6 227.5h1.1v1.1h-1.1zM263.1 218.8h1.1v1.1h-1.1zM261.1 221.8h1.1v1.1h-1.1zM248.7 221.5h1.1v1.1h-1.1zM238.4 231.1h1.1v1.1h-1.1zM254.0 218.7h1.1v1.1h-1.1zM248.8 219.1h1.1v1.1h-1.1zM249.6 228.2h1.1v1.1h-1.1zM254.0 223.3h1.1v1.1h-1.1zM237.2 227.1h1.1v1.1h-1.1zM256.6 219.3h1.1v1.1h-1.1zM261.2 219.6h1.1v1.1h-1.1zM243.4 222.0h1.1v1.1h-1.1zM243.5 224.9h1.1v1.1h-1.1zM260.3 219.3h1.1v1.1h-1.1zM250.0 224.4h1.1v1.1h-1.1zM244.9 225.0h1.1v1.1h-1.1zM264.4 218.6h1.1v1.1h-1.1zM237.2 229.3h1.1v1.1h-1.1zM241.7 220.9h1.1v1.1h-1.1zM249.6 222.0h1.1v1.1h-1.1zM241.4 226.9h1.1v1.1h-1.1zM246.2 236.0h1.1v1.1h-1.1zM262.8 219.2h1.1v1.1h-1.1zM238.4 222.9h1.1v1.1h-1.1zM237.2 232.5h1.1v1.1h-1.1zM256.9 218.4h1.1v1.1h-1.1zM236.0 234.9h1.1v1.1h-1.1zM259.3 219.6h1.1v1.1h-1.1zM235.6 227.1h1.1v1.1h-1.1zM260.1 218.2h1.1v1.1h-1.1zM248.3 222.4h1.1v1.1h-1.1zM262.4 220.9h1.1v1.1h-1.1zM239.6 229.2h1.1v1.1h-1.1zM240.8 225.1h1.1v1.1h-1.1zM241.3 218.6h1.1v1.1h-1.1zM237.8 229.1h1.1v1.1h-1.1zM250.1 225.1h1.1v1.1h-1.1zM243.6 225.1h1.1v1.1h-1.1zM256.4 226.0h1.1v1.1h-1.1zM259.4 218.5h1.1v1.1h-1.1zM237.4 223.8h1.1v1.1h-1.1zM257.1 216.3h1.1v1.1h-1.1zM237.1 228.2h1.1v1.1h-1.1zM259.4 217.1h1.1v1.1h-1.1zM261.0 226.2h1.1v1.1h-1.1zM250.0 230.4h1.1v1.1h-1.1zM249.6 223.4h1.1v1.1h-1.1zM261.2 220.0h1.1v1.1h-1.1zM260.0 222.8h1.1v1.1h-1.1zM246.3 225.0h1.1v1.1h-1.1zM253.0 224.9h1.1v1.1h-1.1zM235.6 221.5h1.1v1.1h-1.1zM250.7 221.9h1.1v1.1h-1.1zM239.1 223.2h1.1v1.1h-1.1zM261.0 213.8h1.1v1.1h-1.1zM245.0 222.7h1.1v1.1h-1.1zM257.7 217.5h1.1v1.1h-1.1zM237.3 231.3h1.1v1.1h-1.1zM250.1 216.1h1.1v1.1h-1.1zM250.6 218.0h1.1v1.1h-1.1zM236.1 224.4h1.1v1.1h-1.1zM264.0 220.1h1.1v1.1h-1.1zM229.5 163.0h1.1v1.1h-1.1zM230.0 166.0h1.1v1.1h-1.1zM229.5 178.0h1.1v1.1h-1.1zM273.0 203.0h1.1v1.1h-1.1zM282.0 217.0h1.1v1.1h-1.1zM289.5 209.0h1.1v1.1h-1.1zM290.0 214.0h1.1v1.1h-1.1zM307.0 211.0h1.1v1.1h-1.1zM312.5 227.0h1.1v1.1h-1.1zM258.0 253.3h1.1v1.1h-1.1zM232.0 251.0h1.1v1.1h-1.1zM246.0 208.0h1.1v1.1h-1.1zM255.0 212.0h1.1v1.1h-1.1zM258.0 236.0h1.1v1.1h-1.1z" fill="#0c0c0c" fill-opacity="1"/>
<rect x="377.65" y="169.55" width="25.00" height="101.75" fill="#fff" stroke="#0c0c0c" stroke-width="1.7"/>
<rect x="376.80" y="184.50" width="26.70" height="22.80" fill="#b2b2b2" stroke="none" stroke-width="1.3"/>
<line x1="376.80" y1="184.50" x2="403.50" y2="184.50" stroke="#0c0c0c" stroke-width="1.5" stroke-linecap="butt"/>
<rect x="376.80" y="207.30" width="26.70" height="64.00" fill="#0c0c0c" stroke="none" stroke-width="1.3"/>
<line x1="390.15" y1="207.30" x2="390.15" y2="204.70" stroke="#0c0c0c" stroke-width="1.4" stroke-linecap="butt"/>
<line x1="383.85" y1="204.70" x2="396.45" y2="204.70" stroke="#0c0c0c" stroke-width="1.4" stroke-linecap="butt"/>
<line x1="390.15" y1="184.50" x2="390.15" y2="181.80" stroke="#0c0c0c" stroke-width="1.4" stroke-linecap="butt"/>
<line x1="383.85" y1="181.80" x2="396.45" y2="181.80" stroke="#0c0c0c" stroke-width="1.4" stroke-linecap="butt"/>
<line x1="390.15" y1="168.70" x2="390.15" y2="168.30" stroke="#0c0c0c" stroke-width="1.4" stroke-linecap="butt"/>
<line x1="383.85" y1="168.30" x2="396.45" y2="168.30" stroke="#0c0c0c" stroke-width="1.4" stroke-linecap="butt"/>
<line x1="390.15" y1="271.30" x2="390.15" y2="274.60" stroke="#0c0c0c" stroke-width="1.5" stroke-linecap="butt"/>
<rect x="415.05" y="171.05" width="25.00" height="100.25" fill="#fff" stroke="#0c0c0c" stroke-width="1.7"/>
<rect x="414.20" y="187.90" width="26.70" height="45.80" fill="#b2b2b2" stroke="none" stroke-width="1.3"/>
<line x1="414.20" y1="187.90" x2="440.90" y2="187.90" stroke="#0c0c0c" stroke-width="1.5" stroke-linecap="butt"/>
<rect x="414.20" y="233.70" width="26.70" height="37.60" fill="#0c0c0c" stroke="none" stroke-width="1.3"/>
<line x1="427.55" y1="233.70" x2="427.55" y2="231.00" stroke="#0c0c0c" stroke-width="1.4" stroke-linecap="butt"/>
<line x1="421.25" y1="231.00" x2="433.85" y2="231.00" stroke="#0c0c0c" stroke-width="1.4" stroke-linecap="butt"/>
<line x1="427.55" y1="187.90" x2="427.55" y2="185.60" stroke="#0c0c0c" stroke-width="1.4" stroke-linecap="butt"/>
<line x1="421.25" y1="185.60" x2="433.85" y2="185.60" stroke="#0c0c0c" stroke-width="1.4" stroke-linecap="butt"/>
<line x1="427.55" y1="170.20" x2="427.55" y2="167.80" stroke="#0c0c0c" stroke-width="1.4" stroke-linecap="butt"/>
<line x1="421.25" y1="167.80" x2="433.85" y2="167.80" stroke="#0c0c0c" stroke-width="1.4" stroke-linecap="butt"/>
<line x1="427.55" y1="271.30" x2="427.55" y2="274.60" stroke="#0c0c0c" stroke-width="1.5" stroke-linecap="butt"/>
<text x="427.00" y="232.02" font-size="11" text-anchor="middle" font-weight="normal" fill="#4a4a4a" stroke="#4a4a4a" stroke-width="0.2">*</text>
<line x1="372.00" y1="159.60" x2="372.00" y2="272.20" stroke="#0c0c0c" stroke-width="1.8" stroke-linecap="butt"/>
<line x1="371.10" y1="271.30" x2="445.80" y2="271.30" stroke="#0c0c0c" stroke-width="1.8" stroke-linecap="butt"/>
<line x1="367.40" y1="170.40" x2="372.00" y2="170.40" stroke="#0c0c0c" stroke-width="1.5" stroke-linecap="butt"/>
<text x="366.90" y="173.30" font-size="8" text-anchor="end" font-weight="normal" fill="#0c0c0c" stroke="#0c0c0c" stroke-width="0.05">100</text>
<line x1="367.40" y1="220.80" x2="372.00" y2="220.80" stroke="#0c0c0c" stroke-width="1.5" stroke-linecap="butt"/>
<text x="366.90" y="223.70" font-size="8" text-anchor="end" font-weight="normal" fill="#0c0c0c" stroke="#0c0c0c" stroke-width="0.05">50</text>
<line x1="367.40" y1="271.30" x2="372.00" y2="271.30" stroke="#0c0c0c" stroke-width="1.5" stroke-linecap="butt"/>
<text x="366.90" y="274.20" font-size="8" text-anchor="end" font-weight="normal" fill="#0c0c0c" stroke="#0c0c0c" stroke-width="0.05">0</text>
<text x="349.40" y="213.80" font-size="9.6" text-anchor="middle" font-weight="normal" fill="#0c0c0c" stroke="#0c0c0c" stroke-width="0.05" transform="rotate(-90 349.40 213.80)" textLength="112.20" lengthAdjust="spacingAndGlyphs">Cell cycle stage (% LKS)</text>
<text x="390.75" y="286.60" font-size="11.2" text-anchor="middle" font-weight="normal" fill="#0c0c0c" stroke="#0c0c0c" stroke-width="0.2" textLength="17.70" lengthAdjust="spacingAndGlyphs">WT</text>
<text x="428.10" y="286.60" font-size="11.2" text-anchor="middle" font-weight="normal" fill="#0c0c0c" stroke="#0c0c0c" stroke-width="0.2" textLength="37.80" lengthAdjust="spacingAndGlyphs">NHD13</text>
<rect x="450.60" y="234.40" width="13.60" height="7.50" fill="#0c0c0c" stroke="#0c0c0c" stroke-width="1.8"/>
<text x="470.00" y="241.60" font-size="8.8" text-anchor="start" font-weight="normal" fill="#0c0c0c" stroke="#0c0c0c" stroke-width="0.05" textLength="11.80" lengthAdjust="spacingAndGlyphs">G0</text>
<rect x="450.60" y="247.80" width="13.60" height="7.00" fill="#b2b2b2" stroke="#0c0c0c" stroke-width="1.8"/>
<text x="470.00" y="254.50" font-size="8.8" text-anchor="start" font-weight="normal" fill="#0c0c0c" stroke="#0c0c0c" stroke-width="0.05" textLength="11.40" lengthAdjust="spacingAndGlyphs">G1</text>
<rect x="450.60" y="261.20" width="13.60" height="7.10" fill="#fff" stroke="#0c0c0c" stroke-width="1.8"/>
<text x="470.00" y="268.00" font-size="8.8" text-anchor="start" font-weight="normal" fill="#0c0c0c" stroke="#0c0c0c" stroke-width="0.05" textLength="29.20" lengthAdjust="spacingAndGlyphs">S/G2/M</text>
<rect x="46.70" y="307.40" width="124.90" height="124.70" fill="none" stroke="#0c0c0c" stroke-width="1.05"/>
<line x1="85.00" y1="307.40" x2="85.00" y2="432.10" stroke="#0c0c0c" stroke-width="1.0" stroke-linecap="butt"/>
<line x1="46.70" y1="404.60" x2="171.60" y2="404.60" stroke="#0c0c0c" stroke-width="1.0" stroke-linecap="butt"/>
<text x="166.80" y="319.20" font-size="11" text-anchor="end" font-weight="normal" fill="#0c0c0c" stroke="#0c0c0c" stroke-width="0.2" textLength="17.40" lengthAdjust="spacingAndGlyphs">WT</text>
<line x1="42.30" y1="432.10" x2="46.70" y2="432.10" stroke="#0c0c0c" stroke-width="1.1" stroke-linecap="butt"/>
<line x1="43.10" y1="422.72" x2="46.70" y2="422.72" stroke="#0c0c0c" stroke-width="1.1" stroke-linecap="butt"/>
<line x1="43.10" y1="417.23" x2="46.70" y2="417.23" stroke="#0c0c0c" stroke-width="1.1" stroke-linecap="butt"/>
<line x1="43.10" y1="413.33" x2="46.70" y2="413.33" stroke="#0c0c0c" stroke-width="1.1" stroke-linecap="butt"/>
<line x1="43.10" y1="410.31" x2="46.70" y2="410.31" stroke="#0c0c0c" stroke-width="1.1" stroke-linecap="butt"/>
<line x1="43.10" y1="407.84" x2="46.70" y2="407.84" stroke="#0c0c0c" stroke-width="1.1" stroke-linecap="butt"/>
<line x1="43.10" y1="405.75" x2="46.70" y2="405.75" stroke="#0c0c0c" stroke-width="1.1" stroke-linecap="butt"/>
<line x1="43.10" y1="403.95" x2="46.70" y2="403.95" stroke="#0c0c0c" stroke-width="1.1" stroke-linecap="butt"/>
<line x1="43.10" y1="402.35" x2="46.70" y2="402.35" stroke="#0c0c0c" stroke-width="1.1" stroke-linecap="butt"/>
<line x1="42.30" y1="400.93" x2="46.70" y2="400.93" stroke="#0c0c0c" stroke-width="1.1" stroke-linecap="butt"/>
<line x1="43.10" y1="391.54" x2="46.70" y2="391.54" stroke="#0c0c0c" stroke-width="1.1" stroke-linecap="butt"/>
<line x1="43.10" y1="386.05" x2="46.70" y2="386.05" stroke="#0c0c0c" stroke-width="1.1" stroke-linecap="butt"/>
<line x1="43.10" y1="382.16" x2="46.70" y2="382.16" stroke="#0c0c0c" stroke-width="1.1" stroke-linecap="butt"/>
<line x1="43.10" y1="379.13" x2="46.70" y2="379.13" stroke="#0c0c0c" stroke-width="1.1" stroke-linecap="butt"/>
<line x1="43.10" y1="376.67" x2="46.70" y2="376.67" stroke="#0c0c0c" stroke-width="1.1" stroke-linecap="butt"/>
<line x1="43.10" y1="374.58" x2="46.70" y2="374.58" stroke="#0c0c0c" stroke-width="1.1" stroke-linecap="butt"/>
<line x1="43.10" y1="372.77" x2="46.70" y2="372.77" stroke="#0c0c0c" stroke-width="1.1" stroke-linecap="butt"/>
<line x1="43.10" y1="371.18" x2="46.70" y2="371.18" stroke="#0c0c0c" stroke-width="1.1" stroke-linecap="butt"/>
<line x1="42.30" y1="369.75" x2="46.70" y2="369.75" stroke="#0c0c0c" stroke-width="1.1" stroke-linecap="butt"/>
<line x1="43.10" y1="360.37" x2="46.70" y2="360.37" stroke="#0c0c0c" stroke-width="1.1" stroke-linecap="butt"/>
<line x1="43.10" y1="354.88" x2="46.70" y2="354.88" stroke="#0c0c0c" stroke-width="1.1" stroke-linecap="butt"/>
<line x1="43.10" y1="350.98" x2="46.70" y2="350.98" stroke="#0c0c0c" stroke-width="1.1" stroke-linecap="butt"/>
<line x1="43.10" y1="347.96" x2="46.70" y2="347.96" stroke="#0c0c0c" stroke-width="1.1" stroke-linecap="butt"/>
<line x1="43.10" y1="345.49" x2="46.70" y2="345.49" stroke="#0c0c0c" stroke-width="1.1" stroke-linecap="butt"/>
<line x1="43.10" y1="343.40" x2="46.70" y2="343.40" stroke="#0c0c0c" stroke-width="1.1" stroke-linecap="butt"/>
<line x1="43.10" y1="341.60" x2="46.70" y2="341.60" stroke="#0c0c0c" stroke-width="1.1" stroke-linecap="butt"/>
<line x1="43.10" y1="340.00" x2="46.70" y2="340.00" stroke="#0c0c0c" stroke-width="1.1" stroke-linecap="butt"/>
<line x1="42.30" y1="338.57" x2="46.70" y2="338.57" stroke="#0c0c0c" stroke-width="1.1" stroke-linecap="butt"/>
<line x1="43.10" y1="329.19" x2="46.70" y2="329.19" stroke="#0c0c0c" stroke-width="1.1" stroke-linecap="butt"/>
<line x1="43.10" y1="323.70" x2="46.70" y2="323.70" stroke="#0c0c0c" stroke-width="1.1" stroke-linecap="butt"/>
<line x1="43.10" y1="319.81" x2="46.70" y2="319.81" stroke="#0c0c0c" stroke-width="1.1" stroke-linecap="butt"/>
<line x1="43.10" y1="316.78" x2="46.70" y2="316.78" stroke="#0c0c0c" stroke-width="1.1" stroke-linecap="butt"/>
<line x1="43.10" y1="314.32" x2="46.70" y2="314.32" stroke="#0c0c0c" stroke-width="1.1" stroke-linecap="butt"/>
<line x1="43.10" y1="312.23" x2="46.70" y2="312.23" stroke="#0c0c0c" stroke-width="1.1" stroke-linecap="butt"/>
<line x1="43.10" y1="310.42" x2="46.70" y2="310.42" stroke="#0c0c0c" stroke-width="1.1" stroke-linecap="butt"/>
<line x1="43.10" y1="308.83" x2="46.70" y2="308.83" stroke="#0c0c0c" stroke-width="1.1" stroke-linecap="butt"/>
<line x1="42.30" y1="307.40" x2="46.70" y2="307.40" stroke="#0c0c0c" stroke-width="1.1" stroke-linecap="butt"/>
<line x1="46.70" y1="432.10" x2="46.70" y2="436.30" stroke="#0c0c0c" stroke-width="1.1" stroke-linecap="butt"/>
<line x1="56.10" y1="432.10" x2="56.10" y2="435.50" stroke="#0c0c0c" stroke-width="1.1" stroke-linecap="butt"/>
<line x1="61.60" y1="432.10" x2="61.60" y2="435.50" stroke="#0c0c0c" stroke-width="1.1" stroke-linecap="butt"/>
<line x1="65.50" y1="432.10" x2="65.50" y2="435.50" stroke="#0c0c0c" stroke-width="1.1" stroke-linecap="butt"/>
<line x1="68.53" y1="432.10" x2="68.53" y2="435.50" stroke="#0c0c0c" stroke-width="1.1" stroke-linecap="butt"/>
<line x1="71.00" y1="432.10" x2="71.00" y2="435.50" stroke="#0c0c0c" stroke-width="1.1" stroke-linecap="butt"/>
<line x1="73.09" y1="432.10" x2="73.09" y2="435.50" stroke="#0c0c0c" stroke-width="1.1" stroke-linecap="butt"/>
<line x1="74.90" y1="432.10" x2="74.90" y2="435.50" stroke="#0c0c0c" stroke-width="1.1" stroke-linecap="butt"/>
<line x1="76.50" y1="432.10" x2="76.50" y2="435.50" stroke="#0c0c0c" stroke-width="1.1" stroke-linecap="butt"/>
<line x1="77.92" y1="432.10" x2="77.92" y2="436.30" stroke="#0c0c0c" stroke-width="1.1" stroke-linecap="butt"/>
<line x1="87.32" y1="432.10" x2="87.32" y2="435.50" stroke="#0c0c0c" stroke-width="1.1" stroke-linecap="butt"/>
<line x1="92.82" y1="432.10" x2="92.82" y2="435.50" stroke="#0c0c0c" stroke-width="1.1" stroke-linecap="butt"/>
<line x1="96.72" y1="432.10" x2="96.72" y2="435.50" stroke="#0c0c0c" stroke-width="1.1" stroke-linecap="butt"/>
<line x1="99.75" y1="432.10" x2="99.75" y2="435.50" stroke="#0c0c0c" stroke-width="1.1" stroke-linecap="butt"/>
<line x1="102.22" y1="432.10" x2="102.22" y2="435.50" stroke="#0c0c0c" stroke-width="1.1" stroke-linecap="butt"/>
<line x1="104.31" y1="432.10" x2="104.31" y2="435.50" stroke="#0c0c0c" stroke-width="1.1" stroke-linecap="butt"/>
<line x1="106.12" y1="432.10" x2="106.12" y2="435.50" stroke="#0c0c0c" stroke-width="1.1" stroke-linecap="butt"/>
<line x1="107.72" y1="432.10" x2="107.72" y2="435.50" stroke="#0c0c0c" stroke-width="1.1" stroke-linecap="butt"/>
<line x1="109.15" y1="432.10" x2="109.15" y2="436.30" stroke="#0c0c0c" stroke-width="1.1" stroke-linecap="butt"/>
<line x1="118.55" y1="432.10" x2="118.55" y2="435.50" stroke="#0c0c0c" stroke-width="1.1" stroke-linecap="butt"/>
<line x1="124.05" y1="432.10" x2="124.05" y2="435.50" stroke="#0c0c0c" stroke-width="1.1" stroke-linecap="butt"/>
<line x1="127.95" y1="432.10" x2="127.95" y2="435.50" stroke="#0c0c0c" stroke-width="1.1" stroke-linecap="butt"/>
<line x1="130.98" y1="432.10" x2="130.98" y2="435.50" stroke="#0c0c0c" stroke-width="1.1" stroke-linecap="butt"/>
<line x1="133.45" y1="432.10" x2="133.45" y2="435.50" stroke="#0c0c0c" stroke-width="1.1" stroke-linecap="butt"/>
<line x1="135.54" y1="432.10" x2="135.54" y2="435.50" stroke="#0c0c0c" stroke-width="1.1" stroke-linecap="butt"/>
<line x1="137.35" y1="432.10" x2="137.35" y2="435.50" stroke="#0c0c0c" stroke-width="1.1" stroke-linecap="butt"/>
<line x1="138.95" y1="432.10" x2="138.95" y2="435.50" stroke="#0c0c0c" stroke-width="1.1" stroke-linecap="butt"/>
<line x1="140.38" y1="432.10" x2="140.38" y2="436.30" stroke="#0c0c0c" stroke-width="1.1" stroke-linecap="butt"/>
<line x1="149.77" y1="432.10" x2="149.77" y2="435.50" stroke="#0c0c0c" stroke-width="1.1" stroke-linecap="butt"/>
<line x1="155.27" y1="432.10" x2="155.27" y2="435.50" stroke="#0c0c0c" stroke-width="1.1" stroke-linecap="butt"/>
<line x1="159.17" y1="432.10" x2="159.17" y2="435.50" stroke="#0c0c0c" stroke-width="1.1" stroke-linecap="butt"/>
<line x1="162.20" y1="432.10" x2="162.20" y2="435.50" stroke="#0c0c0c" stroke-width="1.1" stroke-linecap="butt"/>
<line x1="164.67" y1="432.10" x2="164.67" y2="435.50" stroke="#0c0c0c" stroke-width="1.1" stroke-linecap="butt"/>
<line x1="166.76" y1="432.10" x2="166.76" y2="435.50" stroke="#0c0c0c" stroke-width="1.1" stroke-linecap="butt"/>
<line x1="168.57" y1="432.10" x2="168.57" y2="435.50" stroke="#0c0c0c" stroke-width="1.1" stroke-linecap="butt"/>
<line x1="170.17" y1="432.10" x2="170.17" y2="435.50" stroke="#0c0c0c" stroke-width="1.1" stroke-linecap="butt"/>
<line x1="171.60" y1="432.10" x2="171.60" y2="436.30" stroke="#0c0c0c" stroke-width="1.1" stroke-linecap="butt"/>
<text x="27.70" y="436.60" font-size="7.5" text-anchor="start" fill="#0c0c0c">10<tspan dy="-4.8" dx="1.7" font-size="7.3">0</tspan></text>
<text x="27.70" y="405.43" font-size="7.5" text-anchor="start" fill="#0c0c0c">10<tspan dy="-4.8" dx="1.7" font-size="7.3">1</tspan></text>
<text x="27.70" y="374.25" font-size="7.5" text-anchor="start" fill="#0c0c0c">10<tspan dy="-4.8" dx="1.7" font-size="7.3">2</tspan></text>
<text x="27.70" y="343.07" font-size="7.5" text-anchor="start" fill="#0c0c0c">10<tspan dy="-4.8" dx="1.7" font-size="7.3">3</tspan></text>
<text x="27.70" y="311.90" font-size="7.5" text-anchor="start" fill="#0c0c0c">10</text>
<text x="40.70" y="446.00" font-size="7.5" text-anchor="start" fill="#0c0c0c">10<tspan dy="-4.8" dx="1.7" font-size="7.3">0</tspan></text>
<text x="71.92" y="446.00" font-size="7.5" text-anchor="start" fill="#0c0c0c">10<tspan dy="-4.8" dx="1.7" font-size="7.3">1</tspan></text>
<text x="103.15" y="446.00" font-size="7.5" text-anchor="start" fill="#0c0c0c">10<tspan dy="-4.8" dx="1.7" font-size="7.3">2</tspan></text>
<text x="134.38" y="446.00" font-size="7.5" text-anchor="start" fill="#0c0c0c">10<tspan dy="-4.8" dx="1.7" font-size="7.3">3</tspan></text>
<text x="165.60" y="446.00" font-size="7.5" text-anchor="start" fill="#0c0c0c">10<tspan dy="-4.8" dx="1.7" font-size="7.3">4</tspan></text>
<rect x="201.60" y="307.40" width="125.20" height="124.70" fill="none" stroke="#0c0c0c" stroke-width="1.05"/>
<line x1="240.10" y1="307.40" x2="240.10" y2="432.10" stroke="#0c0c0c" stroke-width="1.0" stroke-linecap="butt"/>
<line x1="201.60" y1="404.60" x2="326.80" y2="404.60" stroke="#0c0c0c" stroke-width="1.0" stroke-linecap="butt"/>
<text x="322.00" y="319.20" font-size="11" text-anchor="end" font-weight="normal" fill="#0c0c0c" stroke="#0c0c0c" stroke-width="0.2" textLength="37.50" lengthAdjust="spacingAndGlyphs">NHD13</text>
<line x1="197.20" y1="432.10" x2="201.60" y2="432.10" stroke="#0c0c0c" stroke-width="1.1" stroke-linecap="butt"/>
<line x1="198.00" y1="422.72" x2="201.60" y2="422.72" stroke="#0c0c0c" stroke-width="1.1" stroke-linecap="butt"/>
<line x1="198.00" y1="417.23" x2="201.60" y2="417.23" stroke="#0c0c0c" stroke-width="1.1" stroke-linecap="butt"/>
<line x1="198.00" y1="413.33" x2="201.60" y2="413.33" stroke="#0c0c0c" stroke-width="1.1" stroke-linecap="butt"/>
<line x1="198.00" y1="410.31" x2="201.60" y2="410.31" stroke="#0c0c0c" stroke-width="1.1" stroke-linecap="butt"/>
<line x1="198.00" y1="407.84" x2="201.60" y2="407.84" stroke="#0c0c0c" stroke-width="1.1" stroke-linecap="butt"/>
<line x1="198.00" y1="405.75" x2="201.60" y2="405.75" stroke="#0c0c0c" stroke-width="1.1" stroke-linecap="butt"/>
<line x1="198.00" y1="403.95" x2="201.60" y2="403.95" stroke="#0c0c0c" stroke-width="1.1" stroke-linecap="butt"/>
<line x1="198.00" y1="402.35" x2="201.60" y2="402.35" stroke="#0c0c0c" stroke-width="1.1" stroke-linecap="butt"/>
<line x1="197.20" y1="400.93" x2="201.60" y2="400.93" stroke="#0c0c0c" stroke-width="1.1" stroke-linecap="butt"/>
<line x1="198.00" y1="391.54" x2="201.60" y2="391.54" stroke="#0c0c0c" stroke-width="1.1" stroke-linecap="butt"/>
<line x1="198.00" y1="386.05" x2="201.60" y2="386.05" stroke="#0c0c0c" stroke-width="1.1" stroke-linecap="butt"/>
<line x1="198.00" y1="382.16" x2="201.60" y2="382.16" stroke="#0c0c0c" stroke-width="1.1" stroke-linecap="butt"/>
<line x1="198.00" y1="379.13" x2="201.60" y2="379.13" stroke="#0c0c0c" stroke-width="1.1" stroke-linecap="butt"/>
<line x1="198.00" y1="376.67" x2="201.60" y2="376.67" stroke="#0c0c0c" stroke-width="1.1" stroke-linecap="butt"/>
<line x1="198.00" y1="374.58" x2="201.60" y2="374.58" stroke="#0c0c0c" stroke-width="1.1" stroke-linecap="butt"/>
<line x1="198.00" y1="372.77" x2="201.60" y2="372.77" stroke="#0c0c0c" stroke-width="1.1" stroke-linecap="butt"/>
<line x1="198.00" y1="371.18" x2="201.60" y2="371.18" stroke="#0c0c0c" stroke-width="1.1" stroke-linecap="butt"/>
<line x1="197.20" y1="369.75" x2="201.60" y2="369.75" stroke="#0c0c0c" stroke-width="1.1" stroke-linecap="butt"/>
<line x1="198.00" y1="360.37" x2="201.60" y2="360.37" stroke="#0c0c0c" stroke-width="1.1" stroke-linecap="butt"/>
<line x1="198.00" y1="354.88" x2="201.60" y2="354.88" stroke="#0c0c0c" stroke-width="1.1" stroke-linecap="butt"/>
<line x1="198.00" y1="350.98" x2="201.60" y2="350.98" stroke="#0c0c0c" stroke-width="1.1" stroke-linecap="butt"/>
<line x1="198.00" y1="347.96" x2="201.60" y2="347.96" stroke="#0c0c0c" stroke-width="1.1" stroke-linecap="butt"/>
<line x1="198.00" y1="345.49" x2="201.60" y2="345.49" stroke="#0c0c0c" stroke-width="1.1" stroke-linecap="butt"/>
<line x1="198.00" y1="343.40" x2="201.60" y2="343.40" stroke="#0c0c0c" stroke-width="1.1" stroke-linecap="butt"/>
<line x1="198.00" y1="341.60" x2="201.60" y2="341.60" stroke="#0c0c0c" stroke-width="1.1" stroke-linecap="butt"/>
<line x1="198.00" y1="340.00" x2="201.60" y2="340.00" stroke="#0c0c0c" stroke-width="1.1" stroke-linecap="butt"/>
<line x1="197.20" y1="338.57" x2="201.60" y2="338.57" stroke="#0c0c0c" stroke-width="1.1" stroke-linecap="butt"/>
<line x1="198.00" y1="329.19" x2="201.60" y2="329.19" stroke="#0c0c0c" stroke-width="1.1" stroke-linecap="butt"/>
<line x1="198.00" y1="323.70" x2="201.60" y2="323.70" stroke="#0c0c0c" stroke-width="1.1" stroke-linecap="butt"/>
<line x1="198.00" y1="319.81" x2="201.60" y2="319.81" stroke="#0c0c0c" stroke-width="1.1" stroke-linecap="butt"/>
<line x1="198.00" y1="316.78" x2="201.60" y2="316.78" stroke="#0c0c0c" stroke-width="1.1" stroke-linecap="butt"/>
<line x1="198.00" y1="314.32" x2="201.60" y2="314.32" stroke="#0c0c0c" stroke-width="1.1" stroke-linecap="butt"/>
<line x1="198.00" y1="312.23" x2="201.60" y2="312.23" stroke="#0c0c0c" stroke-width="1.1" stroke-linecap="butt"/>
<line x1="198.00" y1="310.42" x2="201.60" y2="310.42" stroke="#0c0c0c" stroke-width="1.1" stroke-linecap="butt"/>
<line x1="198.00" y1="308.83" x2="201.60" y2="308.83" stroke="#0c0c0c" stroke-width="1.1" stroke-linecap="butt"/>
<line x1="197.20" y1="307.40" x2="201.60" y2="307.40" stroke="#0c0c0c" stroke-width="1.1" stroke-linecap="butt"/>
<line x1="201.60" y1="432.10" x2="201.60" y2="436.30" stroke="#0c0c0c" stroke-width="1.1" stroke-linecap="butt"/>
<line x1="211.02" y1="432.10" x2="211.02" y2="435.50" stroke="#0c0c0c" stroke-width="1.1" stroke-linecap="butt"/>
<line x1="216.53" y1="432.10" x2="216.53" y2="435.50" stroke="#0c0c0c" stroke-width="1.1" stroke-linecap="butt"/>
<line x1="220.44" y1="432.10" x2="220.44" y2="435.50" stroke="#0c0c0c" stroke-width="1.1" stroke-linecap="butt"/>
<line x1="223.48" y1="432.10" x2="223.48" y2="435.50" stroke="#0c0c0c" stroke-width="1.1" stroke-linecap="butt"/>
<line x1="225.96" y1="432.10" x2="225.96" y2="435.50" stroke="#0c0c0c" stroke-width="1.1" stroke-linecap="butt"/>
<line x1="228.05" y1="432.10" x2="228.05" y2="435.50" stroke="#0c0c0c" stroke-width="1.1" stroke-linecap="butt"/>
<line x1="229.87" y1="432.10" x2="229.87" y2="435.50" stroke="#0c0c0c" stroke-width="1.1" stroke-linecap="butt"/>
<line x1="231.47" y1="432.10" x2="231.47" y2="435.50" stroke="#0c0c0c" stroke-width="1.1" stroke-linecap="butt"/>
<line x1="232.90" y1="432.10" x2="232.90" y2="436.30" stroke="#0c0c0c" stroke-width="1.1" stroke-linecap="butt"/>
<line x1="242.32" y1="432.10" x2="242.32" y2="435.50" stroke="#0c0c0c" stroke-width="1.1" stroke-linecap="butt"/>
<line x1="247.83" y1="432.10" x2="247.83" y2="435.50" stroke="#0c0c0c" stroke-width="1.1" stroke-linecap="butt"/>
<line x1="251.74" y1="432.10" x2="251.74" y2="435.50" stroke="#0c0c0c" stroke-width="1.1" stroke-linecap="butt"/>
<line x1="254.78" y1="432.10" x2="254.78" y2="435.50" stroke="#0c0c0c" stroke-width="1.1" stroke-linecap="butt"/>
<line x1="257.26" y1="432.10" x2="257.26" y2="435.50" stroke="#0c0c0c" stroke-width="1.1" stroke-linecap="butt"/>
<line x1="259.35" y1="432.10" x2="259.35" y2="435.50" stroke="#0c0c0c" stroke-width="1.1" stroke-linecap="butt"/>
<line x1="261.17" y1="432.10" x2="261.17" y2="435.50" stroke="#0c0c0c" stroke-width="1.1" stroke-linecap="butt"/>
<line x1="262.77" y1="432.10" x2="262.77" y2="435.50" stroke="#0c0c0c" stroke-width="1.1" stroke-linecap="butt"/>
<line x1="264.20" y1="432.10" x2="264.20" y2="436.30" stroke="#0c0c0c" stroke-width="1.1" stroke-linecap="butt"/>
<line x1="273.62" y1="432.10" x2="273.62" y2="435.50" stroke="#0c0c0c" stroke-width="1.1" stroke-linecap="butt"/>
<line x1="279.13" y1="432.10" x2="279.13" y2="435.50" stroke="#0c0c0c" stroke-width="1.1" stroke-linecap="butt"/>
<line x1="283.04" y1="432.10" x2="283.04" y2="435.50" stroke="#0c0c0c" stroke-width="1.1" stroke-linecap="butt"/>
<line x1="286.08" y1="432.10" x2="286.08" y2="435.50" stroke="#0c0c0c" stroke-width="1.1" stroke-linecap="butt"/>
<line x1="288.56" y1="432.10" x2="288.56" y2="435.50" stroke="#0c0c0c" stroke-width="1.1" stroke-linecap="butt"/>
<line x1="290.65" y1="432.10" x2="290.65" y2="435.50" stroke="#0c0c0c" stroke-width="1.1" stroke-linecap="butt"/>
<line x1="292.47" y1="432.10" x2="292.47" y2="435.50" stroke="#0c0c0c" stroke-width="1.1" stroke-linecap="butt"/>
<line x1="294.07" y1="432.10" x2="294.07" y2="435.50" stroke="#0c0c0c" stroke-width="1.1" stroke-linecap="butt"/>
<line x1="295.50" y1="432.10" x2="295.50" y2="436.30" stroke="#0c0c0c" stroke-width="1.1" stroke-linecap="butt"/>
<line x1="304.92" y1="432.10" x2="304.92" y2="435.50" stroke="#0c0c0c" stroke-width="1.1" stroke-linecap="butt"/>
<line x1="310.43" y1="432.10" x2="310.43" y2="435.50" stroke="#0c0c0c" stroke-width="1.1" stroke-linecap="butt"/>
<line x1="314.34" y1="432.10" x2="314.34" y2="435.50" stroke="#0c0c0c" stroke-width="1.1" stroke-linecap="butt"/>
<line x1="317.38" y1="432.10" x2="317.38" y2="435.50" stroke="#0c0c0c" stroke-width="1.1" stroke-linecap="butt"/>
<line x1="319.86" y1="432.10" x2="319.86" y2="435.50" stroke="#0c0c0c" stroke-width="1.1" stroke-linecap="butt"/>
<line x1="321.95" y1="432.10" x2="321.95" y2="435.50" stroke="#0c0c0c" stroke-width="1.1" stroke-linecap="butt"/>
<line x1="323.77" y1="432.10" x2="323.77" y2="435.50" stroke="#0c0c0c" stroke-width="1.1" stroke-linecap="butt"/>
<line x1="325.37" y1="432.10" x2="325.37" y2="435.50" stroke="#0c0c0c" stroke-width="1.1" stroke-linecap="butt"/>
<line x1="326.80" y1="432.10" x2="326.80" y2="436.30" stroke="#0c0c0c" stroke-width="1.1" stroke-linecap="butt"/>
<text x="182.80" y="436.60" font-size="7.5" text-anchor="start" fill="#0c0c0c">10<tspan dy="-4.8" dx="1.7" font-size="7.3">0</tspan></text>
<text x="182.80" y="405.43" font-size="7.5" text-anchor="start" fill="#0c0c0c">10<tspan dy="-4.8" dx="1.7" font-size="7.3">1</tspan></text>
<text x="182.80" y="374.25" font-size="7.5" text-anchor="start" fill="#0c0c0c">10<tspan dy="-4.8" dx="1.7" font-size="7.3">2</tspan></text>
<text x="182.80" y="343.07" font-size="7.5" text-anchor="start" fill="#0c0c0c">10<tspan dy="-4.8" dx="1.7" font-size="7.3">3</tspan></text>
<text x="182.80" y="311.90" font-size="7.5" text-anchor="start" fill="#0c0c0c">10</text>
<text x="195.60" y="446.00" font-size="7.5" text-anchor="start" fill="#0c0c0c">10<tspan dy="-4.8" dx="1.7" font-size="7.3">0</tspan></text>
<text x="226.90" y="446.00" font-size="7.5" text-anchor="start" fill="#0c0c0c">10<tspan dy="-4.8" dx="1.7" font-size="7.3">1</tspan></text>
<text x="258.20" y="446.00" font-size="7.5" text-anchor="start" fill="#0c0c0c">10<tspan dy="-4.8" dx="1.7" font-size="7.3">2</tspan></text>
<text x="289.50" y="446.00" font-size="7.5" text-anchor="start" fill="#0c0c0c">10<tspan dy="-4.8" dx="1.7" font-size="7.3">3</tspan></text>
<text x="320.80" y="446.00" font-size="7.5" text-anchor="start" fill="#0c0c0c">10<tspan dy="-4.8" dx="1.7" font-size="7.3">4</tspan></text>
<text x="19.90" y="366.60" font-size="10.9" text-anchor="middle" font-weight="normal" fill="#0c0c0c" stroke="#0c0c0c" stroke-width="0.2" transform="rotate(-90 19.90 366.60)" textLength="24.70" lengthAdjust="spacingAndGlyphs">Flk-2</text>
<line x1="23.40" y1="429.00" x2="23.40" y2="313.00" stroke="#0c0c0c" stroke-width="1.05" stroke-linecap="butt"/>
<path d="M23.4 310.0 l-1.8 4.8 h3.6z" fill="#0c0c0c"/>
<line x1="47.80" y1="451.25" x2="323.00" y2="451.25" stroke="#0c0c0c" stroke-width="1.15" stroke-linecap="butt"/>
<path d="M327 451.25 l-5.2 -1.5 v3z" fill="#0c0c0c"/>
<text x="175.60" y="464.60" font-size="11" text-anchor="start" font-weight="normal" fill="#0c0c0c" stroke="#0c0c0c" stroke-width="0.2" textLength="28.80" lengthAdjust="spacingAndGlyphs">Sca-1</text>
<text x="49.30" y="403.00" font-size="8" text-anchor="start" font-weight="normal" fill="#0c0c0c" stroke="#0c0c0c" stroke-width="0.05">5.6</text>
<text x="171.00" y="403.00" font-size="8" text-anchor="end" font-weight="normal" fill="#0c0c0c" stroke="#0c0c0c" stroke-width="0.05" textLength="16.00" lengthAdjust="spacingAndGlyphs">12.4</text>
<text x="171.00" y="415.00" font-size="8" text-anchor="end" font-weight="normal" fill="#0c0c0c" stroke="#0c0c0c" stroke-width="0.05" textLength="16.00" lengthAdjust="spacingAndGlyphs">9.54</text>
<text x="203.90" y="403.00" font-size="8" text-anchor="start" font-weight="normal" fill="#0c0c0c" stroke="#0c0c0c" stroke-width="0.05">3</text>
<text x="325.50" y="403.00" font-size="8" text-anchor="end" font-weight="normal" fill="#0c0c0c" stroke="#0c0c0c" stroke-width="0.05" textLength="16.00" lengthAdjust="spacingAndGlyphs">2.36</text>
<text x="325.50" y="415.00" font-size="8" text-anchor="end" font-weight="normal" fill="#0c0c0c" stroke="#0c0c0c" stroke-width="0.05" textLength="15.50" lengthAdjust="spacingAndGlyphs">11.9</text>
<path d="M70.6 411.8h1.1v1.1h-1.1zM68.8 415.5h1.1v1.1h-1.1zM61.6 407.8h1.1v1.1h-1.1zM73.3 415.4h1.1v1.1h-1.1zM65.9 423.8h1.1v1.1h-1.1zM56.0 427.8h1.1v1.1h-1.1zM61.7 405.4h1.1v1.1h-1.1zM76.8 416.1h1.1v1.1h-1.1zM60.9 410.9h1.1v1.1h-1.1zM72.6 421.6h1.1v1.1h-1.1zM64.0 411.4h1.1v1.1h-1.1zM71.4 409.9h1.1v1.1h-1.1zM74.7 413.3h1.1v1.1h-1.1zM59.5 427.2h1.1v1.1h-1.1zM56.3 410.3h1.1v1.1h-1.1zM80.9 409.0h1.1v1.1h-1.1zM60.0 428.5h1.1v1.1h-1.1zM73.6 422.8h1.1v1.1h-1.1zM62.3 405.4h1.1v1.1h-1.1zM57.4 419.7h1.1v1.1h-1.1zM70.6 419.9h1.1v1.1h-1.1zM73.7 403.4h1.1v1.1h-1.1zM61.8 405.7h1.1v1.1h-1.1zM53.9 415.8h1.1v1.1h-1.1zM61.2 418.6h1.1v1.1h-1.1zM71.3 418.1h1.1v1.1h-1.1zM50.9 412.7h1.1v1.1h-1.1zM55.5 410.6h1.1v1.1h-1.1zM74.1 412.7h1.1v1.1h-1.1zM61.8 416.7h1.1v1.1h-1.1zM81.8 401.2h1.1v1.1h-1.1zM51.2 426.8h1.1v1.1h-1.1zM80.3 425.0h1.1v1.1h-1.1zM78.7 413.4h1.1v1.1h-1.1zM62.4 406.2h1.1v1.1h-1.1zM62.1 408.0h1.1v1.1h-1.1zM77.0 420.1h1.1v1.1h-1.1zM64.0 408.1h1.1v1.1h-1.1zM61.9 410.9h1.1v1.1h-1.1zM60.8 419.5h1.1v1.1h-1.1zM55.7 417.5h1.1v1.1h-1.1zM51.3 415.5h1.1v1.1h-1.1zM67.2 413.4h1.1v1.1h-1.1zM69.9 411.8h1.1v1.1h-1.1zM56.8 413.8h1.1v1.1h-1.1zM64.2 413.5h1.1v1.1h-1.1zM53.5 423.0h1.1v1.1h-1.1zM59.9 420.6h1.1v1.1h-1.1zM61.1 424.2h1.1v1.1h-1.1zM50.2 420.3h1.1v1.1h-1.1zM55.1 415.9h1.1v1.1h-1.1zM64.4 411.6h1.1v1.1h-1.1zM53.7 417.7h1.1v1.1h-1.1zM62.6 417.1h1.1v1.1h-1.1zM51.4 406.3h1.1v1.1h-1.1zM65.0 407.6h1.1v1.1h-1.1zM55.4 416.8h1.1v1.1h-1.1zM72.8 416.4h1.1v1.1h-1.1zM64.9 420.5h1.1v1.1h-1.1zM83.4 409.5h1.1v1.1h-1.1zM60.5 415.8h1.1v1.1h-1.1zM55.4 412.2h1.1v1.1h-1.1zM63.5 419.9h1.1v1.1h-1.1zM68.1 416.5h1.1v1.1h-1.1zM57.9 420.3h1.1v1.1h-1.1zM72.4 420.3h1.1v1.1h-1.1zM51.0 409.8h1.1v1.1h-1.1zM48.2 428.9h1.1v1.1h-1.1zM62.1 417.1h1.1v1.1h-1.1zM66.9 420.3h1.1v1.1h-1.1zM79.2 403.6h1.1v1.1h-1.1zM64.5 423.5h1.1v1.1h-1.1zM57.7 408.1h1.1v1.1h-1.1zM60.8 427.3h1.1v1.1h-1.1zM73.1 409.3h1.1v1.1h-1.1zM53.7 422.7h1.1v1.1h-1.1zM71.9 426.7h1.1v1.1h-1.1zM68.4 418.1h1.1v1.1h-1.1zM74.1 422.3h1.1v1.1h-1.1zM60.5 422.1h1.1v1.1h-1.1zM80.6 410.6h1.1v1.1h-1.1zM54.0 421.3h1.1v1.1h-1.1zM66.3 417.6h1.1v1.1h-1.1zM69.5 424.3h1.1v1.1h-1.1zM57.7 403.6h1.1v1.1h-1.1zM76.4 421.7h1.1v1.1h-1.1zM82.1 406.0h1.1v1.1h-1.1zM74.6 414.9h1.1v1.1h-1.1zM63.2 408.0h1.1v1.1h-1.1zM64.4 415.2h1.1v1.1h-1.1zM51.1 409.0h1.1v1.1h-1.1zM63.9 427.0h1.1v1.1h-1.1zM62.3 421.7h1.1v1.1h-1.1zM70.3 421.4h1.1v1.1h-1.1zM58.5 407.0h1.1v1.1h-1.1zM58.9 420.0h1.1v1.1h-1.1zM63.2 421.5h1.1v1.1h-1.1zM71.5 424.4h1.1v1.1h-1.1zM58.8 403.7h1.1v1.1h-1.1zM74.8 414.1h1.1v1.1h-1.1zM58.1 424.9h1.1v1.1h-1.1zM52.8 413.4h1.1v1.1h-1.1zM81.1 405.9h1.1v1.1h-1.1zM56.8 429.0h1.1v1.1h-1.1zM85.9 415.9h1.1v1.1h-1.1zM58.6 414.9h1.1v1.1h-1.1zM60.9 408.6h1.1v1.1h-1.1zM57.2 417.1h1.1v1.1h-1.1zM70.1 407.1h1.1v1.1h-1.1zM56.2 420.9h1.1v1.1h-1.1zM78.9 415.9h1.1v1.1h-1.1zM74.4 413.9h1.1v1.1h-1.1zM66.1 422.2h1.1v1.1h-1.1zM63.7 417.1h1.1v1.1h-1.1zM57.2 404.3h1.1v1.1h-1.1zM50.6 422.7h1.1v1.1h-1.1zM68.1 408.5h1.1v1.1h-1.1zM56.2 418.8h1.1v1.1h-1.1zM56.2 423.9h1.1v1.1h-1.1zM77.7 415.8h1.1v1.1h-1.1zM59.5 414.9h1.1v1.1h-1.1zM73.8 406.0h1.1v1.1h-1.1zM67.8 414.3h1.1v1.1h-1.1zM70.1 408.7h1.1v1.1h-1.1zM70.4 424.7h1.1v1.1h-1.1zM65.3 418.8h1.1v1.1h-1.1zM82.0 414.4h1.1v1.1h-1.1zM56.6 407.1h1.1v1.1h-1.1zM60.1 413.4h1.1v1.1h-1.1zM63.5 413.4h1.1v1.1h-1.1zM75.4 421.0h1.1v1.1h-1.1zM57.3 410.8h1.1v1.1h-1.1zM61.3 415.1h1.1v1.1h-1.1zM74.7 421.6h1.1v1.1h-1.1zM74.9 417.7h1.1v1.1h-1.1zM58.2 420.5h1.1v1.1h-1.1zM87.3 410.6h1.1v1.1h-1.1zM69.6 420.9h1.1v1.1h-1.1zM79.5 423.1h1.1v1.1h-1.1zM59.3 407.9h1.1v1.1h-1.1zM75.9 417.7h1.1v1.1h-1.1zM71.4 417.6h1.1v1.1h-1.1zM51.1 410.3h1.1v1.1h-1.1zM65.6 410.5h1.1v1.1h-1.1zM72.6 421.6h1.1v1.1h-1.1zM66.1 421.4h1.1v1.1h-1.1zM68.6 410.4h1.1v1.1h-1.1zM74.9 418.0h1.1v1.1h-1.1zM77.0 409.2h1.1v1.1h-1.1zM72.6 421.3h1.1v1.1h-1.1zM71.0 412.8h1.1v1.1h-1.1zM66.2 413.4h1.1v1.1h-1.1zM55.3 416.9h1.1v1.1h-1.1zM70.8 417.1h1.1v1.1h-1.1zM71.6 406.0h1.1v1.1h-1.1zM67.4 418.5h1.1v1.1h-1.1zM69.1 417.0h1.1v1.1h-1.1zM59.5 418.4h1.1v1.1h-1.1zM83.8 409.9h1.1v1.1h-1.1zM72.2 409.5h1.1v1.1h-1.1zM47.7 414.1h1.1v1.1h-1.1zM72.2 417.1h1.1v1.1h-1.1zM53.9 412.6h1.1v1.1h-1.1zM62.1 408.8h1.1v1.1h-1.1zM60.2 415.7h1.1v1.1h-1.1zM75.4 408.3h1.1v1.1h-1.1zM76.1 416.7h1.1v1.1h-1.1zM86.5 420.7h1.1v1.1h-1.1zM58.7 416.6h1.1v1.1h-1.1zM78.4 412.2h1.1v1.1h-1.1zM84.7 409.1h1.1v1.1h-1.1zM72.8 421.2h1.1v1.1h-1.1zM61.8 415.7h1.1v1.1h-1.1zM53.7 422.1h1.1v1.1h-1.1zM52.6 419.8h1.1v1.1h-1.1zM73.7 412.1h1.1v1.1h-1.1zM67.4 412.6h1.1v1.1h-1.1zM56.6 418.7h1.1v1.1h-1.1zM59.7 422.9h1.1v1.1h-1.1zM60.2 422.6h1.1v1.1h-1.1zM64.0 411.0h1.1v1.1h-1.1zM67.6 415.7h1.1v1.1h-1.1zM69.4 417.3h1.1v1.1h-1.1zM55.6 429.6h1.1v1.1h-1.1zM77.1 413.4h1.1v1.1h-1.1zM59.7 417.1h1.1v1.1h-1.1zM66.5 420.7h1.1v1.1h-1.1zM50.0 421.7h1.1v1.1h-1.1zM72.7 421.8h1.1v1.1h-1.1zM50.3 417.3h1.1v1.1h-1.1zM84.3 421.0h1.1v1.1h-1.1zM75.8 414.3h1.1v1.1h-1.1zM68.7 406.5h1.1v1.1h-1.1zM55.1 417.6h1.1v1.1h-1.1zM61.1 412.7h1.1v1.1h-1.1zM65.6 414.5h1.1v1.1h-1.1zM72.5 417.4h1.1v1.1h-1.1zM66.0 420.1h1.1v1.1h-1.1zM77.9 409.9h1.1v1.1h-1.1zM82.2 425.3h1.1v1.1h-1.1zM56.9 417.2h1.1v1.1h-1.1zM75.2 418.3h1.1v1.1h-1.1zM55.1 403.9h1.1v1.1h-1.1zM64.1 415.5h1.1v1.1h-1.1zM55.5 403.9h1.1v1.1h-1.1zM69.5 417.8h1.1v1.1h-1.1zM62.0 416.5h1.1v1.1h-1.1zM69.1 414.9h1.1v1.1h-1.1zM57.0 407.0h1.1v1.1h-1.1zM55.1 407.9h1.1v1.1h-1.1zM72.3 425.0h1.1v1.1h-1.1zM74.8 413.1h1.1v1.1h-1.1zM56.5 402.8h1.1v1.1h-1.1zM77.6 429.9h1.1v1.1h-1.1zM75.1 419.8h1.1v1.1h-1.1zM47.9 412.9h1.1v1.1h-1.1zM51.1 419.6h1.1v1.1h-1.1zM65.0 418.8h1.1v1.1h-1.1zM62.2 408.4h1.1v1.1h-1.1zM76.8 405.2h1.1v1.1h-1.1zM68.4 414.3h1.1v1.1h-1.1zM56.3 422.3h1.1v1.1h-1.1zM55.5 423.7h1.1v1.1h-1.1zM64.0 414.1h1.1v1.1h-1.1zM57.2 411.4h1.1v1.1h-1.1zM66.7 410.6h1.1v1.1h-1.1zM74.8 407.5h1.1v1.1h-1.1zM60.3 421.3h1.1v1.1h-1.1zM64.7 408.1h1.1v1.1h-1.1zM58.7 412.1h1.1v1.1h-1.1zM68.3 418.8h1.1v1.1h-1.1zM55.3 419.5h1.1v1.1h-1.1zM69.3 424.2h1.1v1.1h-1.1zM64.4 420.7h1.1v1.1h-1.1zM56.9 425.1h1.1v1.1h-1.1zM66.5 419.3h1.1v1.1h-1.1zM61.6 410.3h1.1v1.1h-1.1zM65.0 414.1h1.1v1.1h-1.1zM62.7 412.1h1.1v1.1h-1.1zM60.6 424.0h1.1v1.1h-1.1zM71.1 412.0h1.1v1.1h-1.1zM54.2 415.9h1.1v1.1h-1.1zM66.0 414.0h1.1v1.1h-1.1zM64.0 415.0h1.1v1.1h-1.1zM59.6 420.8h1.1v1.1h-1.1zM62.0 419.7h1.1v1.1h-1.1zM52.8 416.7h1.1v1.1h-1.1zM68.9 408.1h1.1v1.1h-1.1zM87.5 414.1h1.1v1.1h-1.1zM54.9 424.8h1.1v1.1h-1.1zM78.0 419.6h1.1v1.1h-1.1zM63.9 411.3h1.1v1.1h-1.1zM65.6 415.1h1.1v1.1h-1.1zM67.1 429.5h1.1v1.1h-1.1zM62.1 412.4h1.1v1.1h-1.1zM50.9 427.6h1.1v1.1h-1.1zM69.7 418.0h1.1v1.1h-1.1zM68.3 429.0h1.1v1.1h-1.1zM63.5 422.7h1.1v1.1h-1.1zM71.8 404.1h1.1v1.1h-1.1zM59.7 410.7h1.1v1.1h-1.1zM54.4 419.2h1.1v1.1h-1.1zM67.8 420.7h1.1v1.1h-1.1zM77.1 413.3h1.1v1.1h-1.1zM50.5 426.7h1.1v1.1h-1.1zM75.5 418.5h1.1v1.1h-1.1zM57.9 416.9h1.1v1.1h-1.1zM59.8 408.0h1.1v1.1h-1.1zM78.0 410.4h1.1v1.1h-1.1zM69.9 409.7h1.1v1.1h-1.1zM68.5 416.8h1.1v1.1h-1.1zM74.9 413.9h1.1v1.1h-1.1zM70.1 405.7h1.1v1.1h-1.1zM84.1 414.9h1.1v1.1h-1.1zM75.3 425.4h1.1v1.1h-1.1zM56.4 414.4h1.1v1.1h-1.1zM57.3 424.1h1.1v1.1h-1.1zM55.6 414.1h1.1v1.1h-1.1zM49.6 413.6h1.1v1.1h-1.1zM74.5 429.2h1.1v1.1h-1.1zM68.5 411.2h1.1v1.1h-1.1zM51.3 414.2h1.1v1.1h-1.1zM60.0 413.0h1.1v1.1h-1.1zM72.0 412.8h1.1v1.1h-1.1zM81.7 410.8h1.1v1.1h-1.1zM52.6 420.1h1.1v1.1h-1.1zM50.0 426.1h1.1v1.1h-1.1zM78.7 411.7h1.1v1.1h-1.1zM57.2 420.7h1.1v1.1h-1.1zM49.0 416.3h1.1v1.1h-1.1zM61.1 410.6h1.1v1.1h-1.1zM65.9 417.5h1.1v1.1h-1.1zM69.9 406.4h1.1v1.1h-1.1zM59.8 415.8h1.1v1.1h-1.1zM58.6 422.5h1.1v1.1h-1.1zM54.5 420.6h1.1v1.1h-1.1zM50.7 419.1h1.1v1.1h-1.1zM59.9 414.7h1.1v1.1h-1.1zM73.3 402.6h1.1v1.1h-1.1zM59.1 417.8h1.1v1.1h-1.1zM69.2 420.2h1.1v1.1h-1.1zM74.7 411.0h1.1v1.1h-1.1zM63.9 408.4h1.1v1.1h-1.1zM56.9 418.6h1.1v1.1h-1.1zM59.4 418.3h1.1v1.1h-1.1zM50.1 418.2h1.1v1.1h-1.1zM73.4 412.4h1.1v1.1h-1.1zM74.1 412.5h1.1v1.1h-1.1zM72.7 422.6h1.1v1.1h-1.1zM60.1 428.2h1.1v1.1h-1.1zM88.1 400.8h1.1v1.1h-1.1zM63.1 419.7h1.1v1.1h-1.1zM69.1 422.2h1.1v1.1h-1.1zM76.7 400.1h1.1v1.1h-1.1zM47.3 422.3h1.1v1.1h-1.1zM75.9 406.6h1.1v1.1h-1.1zM71.2 414.2h1.1v1.1h-1.1zM62.7 415.7h1.1v1.1h-1.1zM58.0 419.6h1.1v1.1h-1.1zM58.9 406.5h1.1v1.1h-1.1zM48.6 427.3h1.1v1.1h-1.1zM68.4 419.3h1.1v1.1h-1.1zM63.7 422.9h1.1v1.1h-1.1zM65.4 426.9h1.1v1.1h-1.1zM66.5 419.5h1.1v1.1h-1.1zM52.0 409.1h1.1v1.1h-1.1zM79.9 419.0h1.1v1.1h-1.1zM77.8 413.0h1.1v1.1h-1.1zM74.7 410.6h1.1v1.1h-1.1zM65.7 419.6h1.1v1.1h-1.1zM78.0 420.3h1.1v1.1h-1.1zM63.8 412.0h1.1v1.1h-1.1zM59.5 418.5h1.1v1.1h-1.1zM69.0 415.7h1.1v1.1h-1.1zM66.1 420.6h1.1v1.1h-1.1zM55.8 419.0h1.1v1.1h-1.1zM60.0 423.1h1.1v1.1h-1.1zM77.2 404.4h1.1v1.1h-1.1zM48.4 420.1h1.1v1.1h-1.1zM73.6 415.3h1.1v1.1h-1.1zM71.2 409.3h1.1v1.1h-1.1zM77.2 424.6h1.1v1.1h-1.1zM70.5 415.1h1.1v1.1h-1.1zM70.6 425.6h1.1v1.1h-1.1zM54.7 412.2h1.1v1.1h-1.1zM75.1 404.5h1.1v1.1h-1.1zM47.3 408.8h1.1v1.1h-1.1zM60.8 418.5h1.1v1.1h-1.1zM60.5 412.5h1.1v1.1h-1.1zM75.0 421.5h1.1v1.1h-1.1zM70.2 414.9h1.1v1.1h-1.1zM56.4 411.0h1.1v1.1h-1.1zM54.8 420.3h1.1v1.1h-1.1zM63.3 415.9h1.1v1.1h-1.1zM55.7 420.0h1.1v1.1h-1.1zM75.5 414.7h1.1v1.1h-1.1zM67.2 416.5h1.1v1.1h-1.1zM73.5 407.6h1.1v1.1h-1.1zM62.8 411.1h1.1v1.1h-1.1zM55.8 417.0h1.1v1.1h-1.1zM52.3 420.9h1.1v1.1h-1.1zM77.2 421.4h1.1v1.1h-1.1zM66.9 414.5h1.1v1.1h-1.1zM49.3 421.9h1.1v1.1h-1.1zM56.5 419.4h1.1v1.1h-1.1zM82.3 403.8h1.1v1.1h-1.1zM55.9 416.1h1.1v1.1h-1.1zM63.2 421.8h1.1v1.1h-1.1zM74.7 417.8h1.1v1.1h-1.1zM66.1 419.6h1.1v1.1h-1.1zM71.9 408.0h1.1v1.1h-1.1zM63.1 420.1h1.1v1.1h-1.1zM69.8 415.5h1.1v1.1h-1.1zM73.7 415.3h1.1v1.1h-1.1zM65.0 411.2h1.1v1.1h-1.1zM55.6 425.6h1.1v1.1h-1.1zM68.6 417.6h1.1v1.1h-1.1zM70.0 410.7h1.1v1.1h-1.1zM67.6 420.3h1.1v1.1h-1.1zM56.2 425.5h1.1v1.1h-1.1zM83.9 417.6h1.1v1.1h-1.1zM61.9 412.7h1.1v1.1h-1.1zM76.5 409.1h1.1v1.1h-1.1zM63.2 415.4h1.1v1.1h-1.1zM53.0 415.5h1.1v1.1h-1.1zM66.2 417.2h1.1v1.1h-1.1zM72.0 411.8h1.1v1.1h-1.1zM64.9 417.7h1.1v1.1h-1.1zM80.3 414.0h1.1v1.1h-1.1zM74.4 412.9h1.1v1.1h-1.1zM77.6 409.0h1.1v1.1h-1.1zM52.6 413.5h1.1v1.1h-1.1zM80.1 406.2h1.1v1.1h-1.1zM60.7 405.6h1.1v1.1h-1.1zM73.1 411.4h1.1v1.1h-1.1zM57.2 414.0h1.1v1.1h-1.1zM69.1 430.0h1.1v1.1h-1.1zM59.1 426.9h1.1v1.1h-1.1zM73.1 415.9h1.1v1.1h-1.1zM48.8 426.2h1.1v1.1h-1.1zM72.9 417.2h1.1v1.1h-1.1zM67.1 418.1h1.1v1.1h-1.1zM65.6 420.8h1.1v1.1h-1.1zM57.2 426.3h1.1v1.1h-1.1zM64.5 416.8h1.1v1.1h-1.1zM75.7 399.9h1.1v1.1h-1.1zM66.0 424.5h1.1v1.1h-1.1zM77.6 412.3h1.1v1.1h-1.1zM62.5 422.7h1.1v1.1h-1.1zM69.1 413.9h1.1v1.1h-1.1zM75.2 406.5h1.1v1.1h-1.1zM80.3 408.6h1.1v1.1h-1.1zM52.4 413.3h1.1v1.1h-1.1zM52.7 421.9h1.1v1.1h-1.1zM56.2 424.9h1.1v1.1h-1.1zM55.6 407.1h1.1v1.1h-1.1zM63.2 405.6h1.1v1.1h-1.1zM65.5 428.4h1.1v1.1h-1.1zM57.4 405.8h1.1v1.1h-1.1zM75.4 416.8h1.1v1.1h-1.1zM61.7 408.3h1.1v1.1h-1.1zM69.2 417.5h1.1v1.1h-1.1zM75.9 415.3h1.1v1.1h-1.1zM53.9 427.1h1.1v1.1h-1.1zM66.4 404.7h1.1v1.1h-1.1zM66.1 415.5h1.1v1.1h-1.1zM66.5 414.5h1.1v1.1h-1.1zM50.6 417.5h1.1v1.1h-1.1zM74.3 400.8h1.1v1.1h-1.1zM60.0 413.8h1.1v1.1h-1.1zM71.6 405.8h1.1v1.1h-1.1zM69.5 418.1h1.1v1.1h-1.1zM81.9 413.1h1.1v1.1h-1.1zM65.4 426.3h1.1v1.1h-1.1zM64.1 423.5h1.1v1.1h-1.1zM79.6 421.4h1.1v1.1h-1.1zM66.3 413.6h1.1v1.1h-1.1zM61.1 417.0h1.1v1.1h-1.1zM60.2 421.1h1.1v1.1h-1.1zM55.6 415.5h1.1v1.1h-1.1zM61.2 423.3h1.1v1.1h-1.1zM59.8 402.1h1.1v1.1h-1.1zM51.7 420.8h1.1v1.1h-1.1zM58.6 416.9h1.1v1.1h-1.1zM72.2 420.6h1.1v1.1h-1.1zM67.1 412.9h1.1v1.1h-1.1zM81.0 419.0h1.1v1.1h-1.1zM57.1 412.1h1.1v1.1h-1.1zM63.7 420.2h1.1v1.1h-1.1zM61.4 407.5h1.1v1.1h-1.1zM47.9 418.8h1.1v1.1h-1.1zM81.4 412.8h1.1v1.1h-1.1zM56.3 420.9h1.1v1.1h-1.1zM74.6 412.6h1.1v1.1h-1.1zM60.1 420.6h1.1v1.1h-1.1zM51.1 426.1h1.1v1.1h-1.1zM68.0 412.7h1.1v1.1h-1.1zM59.2 411.9h1.1v1.1h-1.1zM57.4 414.4h1.1v1.1h-1.1zM83.1 409.4h1.1v1.1h-1.1zM63.7 413.2h1.1v1.1h-1.1zM64.8 415.5h1.1v1.1h-1.1zM63.8 413.1h1.1v1.1h-1.1zM60.8 417.0h1.1v1.1h-1.1zM59.3 411.7h1.1v1.1h-1.1zM77.9 410.2h1.1v1.1h-1.1zM69.1 406.5h1.1v1.1h-1.1zM55.8 402.7h1.1v1.1h-1.1zM65.6 413.6h1.1v1.1h-1.1zM48.5 409.5h1.1v1.1h-1.1zM66.9 415.5h1.1v1.1h-1.1zM75.1 414.7h1.1v1.1h-1.1zM65.3 410.3h1.1v1.1h-1.1zM63.5 414.0h1.1v1.1h-1.1zM60.3 420.5h1.1v1.1h-1.1zM64.5 420.4h1.1v1.1h-1.1zM66.9 417.9h1.1v1.1h-1.1zM58.5 417.5h1.1v1.1h-1.1zM51.7 412.4h1.1v1.1h-1.1zM64.6 419.3h1.1v1.1h-1.1zM69.9 402.0h1.1v1.1h-1.1zM59.6 417.4h1.1v1.1h-1.1zM55.7 414.6h1.1v1.1h-1.1zM71.4 414.1h1.1v1.1h-1.1zM65.3 423.5h1.1v1.1h-1.1zM63.4 422.7h1.1v1.1h-1.1zM60.5 406.1h1.1v1.1h-1.1zM65.1 421.4h1.1v1.1h-1.1zM53.2 427.4h1.1v1.1h-1.1zM59.1 402.7h1.1v1.1h-1.1zM61.6 418.1h1.1v1.1h-1.1zM53.6 420.2h1.1v1.1h-1.1zM74.0 409.0h1.1v1.1h-1.1zM62.2 422.0h1.1v1.1h-1.1zM71.1 400.5h1.1v1.1h-1.1zM64.5 406.9h1.1v1.1h-1.1zM71.2 418.4h1.1v1.1h-1.1zM56.2 421.4h1.1v1.1h-1.1zM64.4 411.8h1.1v1.1h-1.1zM79.1 406.6h1.1v1.1h-1.1zM79.4 412.2h1.1v1.1h-1.1zM57.2 408.0h1.1v1.1h-1.1zM55.3 418.9h1.1v1.1h-1.1zM64.4 416.5h1.1v1.1h-1.1zM63.5 430.2h1.1v1.1h-1.1zM50.0 418.0h1.1v1.1h-1.1zM71.7 416.2h1.1v1.1h-1.1zM52.1 425.6h1.1v1.1h-1.1zM52.0 409.7h1.1v1.1h-1.1zM53.9 411.9h1.1v1.1h-1.1zM52.0 424.1h1.1v1.1h-1.1zM57.5 408.1h1.1v1.1h-1.1zM56.8 418.3h1.1v1.1h-1.1zM57.7 420.5h1.1v1.1h-1.1zM74.0 420.1h1.1v1.1h-1.1zM61.7 425.0h1.1v1.1h-1.1zM56.7 416.3h1.1v1.1h-1.1zM79.1 403.1h1.1v1.1h-1.1zM51.4 418.9h1.1v1.1h-1.1zM64.5 412.2h1.1v1.1h-1.1zM69.1 423.1h1.1v1.1h-1.1zM51.5 427.4h1.1v1.1h-1.1zM80.6 424.0h1.1v1.1h-1.1zM73.9 414.0h1.1v1.1h-1.1zM73.6 427.0h1.1v1.1h-1.1zM68.3 413.4h1.1v1.1h-1.1zM64.0 413.3h1.1v1.1h-1.1zM52.2 407.4h1.1v1.1h-1.1zM52.6 418.3h1.1v1.1h-1.1zM73.0 412.2h1.1v1.1h-1.1zM80.2 415.6h1.1v1.1h-1.1zM52.6 414.8h1.1v1.1h-1.1zM69.3 427.4h1.1v1.1h-1.1zM73.3 407.4h1.1v1.1h-1.1zM55.5 410.8h1.1v1.1h-1.1zM64.8 409.8h1.1v1.1h-1.1zM58.5 411.1h1.1v1.1h-1.1zM71.0 415.5h1.1v1.1h-1.1zM60.7 417.7h1.1v1.1h-1.1zM71.3 406.0h1.1v1.1h-1.1zM62.6 410.5h1.1v1.1h-1.1zM65.0 403.2h1.1v1.1h-1.1zM76.5 410.3h1.1v1.1h-1.1zM68.5 419.8h1.1v1.1h-1.1zM47.5 411.9h1.1v1.1h-1.1zM56.5 421.5h1.1v1.1h-1.1zM74.9 413.7h1.1v1.1h-1.1zM52.9 409.1h1.1v1.1h-1.1zM61.0 409.9h1.1v1.1h-1.1zM52.6 427.5h1.1v1.1h-1.1zM57.8 411.4h1.1v1.1h-1.1zM74.0 417.4h1.1v1.1h-1.1zM54.2 420.3h1.1v1.1h-1.1zM55.9 406.5h1.1v1.1h-1.1zM71.6 422.2h1.1v1.1h-1.1zM64.5 416.4h1.1v1.1h-1.1zM61.6 423.1h1.1v1.1h-1.1zM57.6 429.9h1.1v1.1h-1.1zM68.7 423.0h1.1v1.1h-1.1zM70.1 410.3h1.1v1.1h-1.1zM56.8 425.3h1.1v1.1h-1.1zM64.7 411.8h1.1v1.1h-1.1zM50.0 417.9h1.1v1.1h-1.1zM53.4 407.0h1.1v1.1h-1.1zM68.0 427.5h1.1v1.1h-1.1zM58.0 416.5h1.1v1.1h-1.1zM58.8 416.3h1.1v1.1h-1.1zM68.1 414.9h1.1v1.1h-1.1zM59.6 406.9h1.1v1.1h-1.1zM73.2 418.0h1.1v1.1h-1.1zM62.6 421.2h1.1v1.1h-1.1zM49.0 419.8h1.1v1.1h-1.1zM64.4 419.1h1.1v1.1h-1.1zM53.8 429.6h1.1v1.1h-1.1zM72.7 428.8h1.1v1.1h-1.1zM69.8 411.1h1.1v1.1h-1.1zM62.9 416.7h1.1v1.1h-1.1zM72.4 416.3h1.1v1.1h-1.1zM63.3 410.5h1.1v1.1h-1.1zM63.3 402.8h1.1v1.1h-1.1zM52.2 420.1h1.1v1.1h-1.1zM61.0 415.6h1.1v1.1h-1.1zM56.9 403.8h1.1v1.1h-1.1zM70.6 429.1h1.1v1.1h-1.1zM63.7 411.8h1.1v1.1h-1.1zM76.3 412.9h1.1v1.1h-1.1zM55.8 411.5h1.1v1.1h-1.1zM50.1 416.8h1.1v1.1h-1.1zM51.4 408.0h1.1v1.1h-1.1zM71.2 401.1h1.1v1.1h-1.1zM60.8 417.5h1.1v1.1h-1.1zM58.9 408.9h1.1v1.1h-1.1zM52.6 412.4h1.1v1.1h-1.1zM60.3 411.8h1.1v1.1h-1.1zM66.5 421.9h1.1v1.1h-1.1zM59.4 429.0h1.1v1.1h-1.1zM54.3 421.3h1.1v1.1h-1.1zM74.5 418.8h1.1v1.1h-1.1zM66.6 418.0h1.1v1.1h-1.1zM50.3 413.4h1.1v1.1h-1.1zM83.9 411.0h1.1v1.1h-1.1zM76.7 411.6h1.1v1.1h-1.1zM74.1 401.6h1.1v1.1h-1.1zM48.3 417.4h1.1v1.1h-1.1zM60.0 422.0h1.1v1.1h-1.1zM68.9 403.3h1.1v1.1h-1.1zM78.3 403.2h1.1v1.1h-1.1zM65.3 413.3h1.1v1.1h-1.1zM79.2 408.6h1.1v1.1h-1.1zM74.4 418.0h1.1v1.1h-1.1zM59.6 421.3h1.1v1.1h-1.1zM77.3 421.5h1.1v1.1h-1.1zM66.0 414.4h1.1v1.1h-1.1zM63.0 418.5h1.1v1.1h-1.1zM68.5 421.2h1.1v1.1h-1.1zM65.5 407.3h1.1v1.1h-1.1zM58.4 408.8h1.1v1.1h-1.1zM77.1 403.0h1.1v1.1h-1.1zM54.9 405.2h1.1v1.1h-1.1zM74.9 405.6h1.1v1.1h-1.1zM74.4 416.7h1.1v1.1h-1.1zM74.0 414.4h1.1v1.1h-1.1zM59.3 420.6h1.1v1.1h-1.1zM59.5 417.7h1.1v1.1h-1.1zM47.5 415.1h1.1v1.1h-1.1zM49.7 413.0h1.1v1.1h-1.1zM78.8 406.9h1.1v1.1h-1.1zM81.1 404.4h1.1v1.1h-1.1zM88.9 415.2h1.1v1.1h-1.1zM55.4 418.0h1.1v1.1h-1.1zM53.9 407.7h1.1v1.1h-1.1zM74.1 411.4h1.1v1.1h-1.1zM73.3 423.0h1.1v1.1h-1.1zM59.6 417.5h1.1v1.1h-1.1zM69.3 411.9h1.1v1.1h-1.1zM79.9 423.8h1.1v1.1h-1.1zM67.4 400.6h1.1v1.1h-1.1zM77.9 413.7h1.1v1.1h-1.1zM73.4 417.2h1.1v1.1h-1.1zM78.4 419.0h1.1v1.1h-1.1zM73.0 414.0h1.1v1.1h-1.1zM56.5 415.4h1.1v1.1h-1.1zM63.7 420.9h1.1v1.1h-1.1zM66.1 422.1h1.1v1.1h-1.1zM76.2 411.9h1.1v1.1h-1.1zM75.0 410.8h1.1v1.1h-1.1zM67.3 425.4h1.1v1.1h-1.1zM61.3 416.2h1.1v1.1h-1.1zM59.3 417.1h1.1v1.1h-1.1zM60.6 419.7h1.1v1.1h-1.1zM55.4 420.1h1.1v1.1h-1.1zM53.1 410.0h1.1v1.1h-1.1zM67.3 412.6h1.1v1.1h-1.1zM72.8 418.2h1.1v1.1h-1.1zM75.7 427.6h1.1v1.1h-1.1zM58.1 416.4h1.1v1.1h-1.1zM81.9 407.3h1.1v1.1h-1.1zM73.1 410.4h1.1v1.1h-1.1zM58.9 417.6h1.1v1.1h-1.1zM57.8 416.1h1.1v1.1h-1.1zM51.8 419.1h1.1v1.1h-1.1zM59.3 413.4h1.1v1.1h-1.1zM58.2 414.2h1.1v1.1h-1.1zM69.4 412.4h1.1v1.1h-1.1zM72.6 421.9h1.1v1.1h-1.1zM65.4 417.2h1.1v1.1h-1.1zM75.4 418.6h1.1v1.1h-1.1zM67.5 425.0h1.1v1.1h-1.1zM61.2 421.4h1.1v1.1h-1.1zM64.0 420.5h1.1v1.1h-1.1zM63.8 414.8h1.1v1.1h-1.1zM54.1 411.9h1.1v1.1h-1.1zM58.2 402.7h1.1v1.1h-1.1zM75.9 411.1h1.1v1.1h-1.1zM65.4 407.1h1.1v1.1h-1.1zM67.5 427.0h1.1v1.1h-1.1zM71.3 414.0h1.1v1.1h-1.1zM78.1 413.1h1.1v1.1h-1.1zM57.1 428.9h1.1v1.1h-1.1zM53.5 406.6h1.1v1.1h-1.1zM88.9 413.7h1.1v1.1h-1.1zM54.9 413.4h1.1v1.1h-1.1zM70.7 413.3h1.1v1.1h-1.1zM62.4 427.0h1.1v1.1h-1.1zM69.6 410.9h1.1v1.1h-1.1zM68.4 412.6h1.1v1.1h-1.1zM65.8 410.2h1.1v1.1h-1.1zM67.1 419.9h1.1v1.1h-1.1zM52.4 429.4h1.1v1.1h-1.1zM64.3 406.7h1.1v1.1h-1.1zM54.4 420.2h1.1v1.1h-1.1zM58.7 426.4h1.1v1.1h-1.1zM49.6 416.8h1.1v1.1h-1.1zM59.5 418.1h1.1v1.1h-1.1zM54.5 407.7h1.1v1.1h-1.1zM87.2 420.3h1.1v1.1h-1.1zM48.6 408.9h1.1v1.1h-1.1zM78.8 401.6h1.1v1.1h-1.1zM55.2 417.5h1.1v1.1h-1.1zM50.7 429.3h1.1v1.1h-1.1zM77.6 427.5h1.1v1.1h-1.1zM58.7 429.9h1.1v1.1h-1.1zM67.7 429.5h1.1v1.1h-1.1zM51.5 430.1h1.1v1.1h-1.1zM77.7 410.8h1.1v1.1h-1.1zM79.7 410.3h1.1v1.1h-1.1zM54.7 416.4h1.1v1.1h-1.1zM56.2 417.3h1.1v1.1h-1.1zM82.4 422.5h1.1v1.1h-1.1zM74.7 414.6h1.1v1.1h-1.1zM77.6 425.4h1.1v1.1h-1.1zM73.6 429.4h1.1v1.1h-1.1zM79.2 415.0h1.1v1.1h-1.1zM50.4 421.6h1.1v1.1h-1.1zM79.6 413.2h1.1v1.1h-1.1zM70.2 426.6h1.1v1.1h-1.1zM77.9 404.1h1.1v1.1h-1.1zM66.1 404.4h1.1v1.1h-1.1zM51.3 425.9h1.1v1.1h-1.1zM63.3 420.3h1.1v1.1h-1.1zM64.8 413.1h1.1v1.1h-1.1zM55.3 413.6h1.1v1.1h-1.1zM79.9 420.7h1.1v1.1h-1.1zM58.4 406.4h1.1v1.1h-1.1zM57.6 422.9h1.1v1.1h-1.1zM64.2 421.8h1.1v1.1h-1.1zM78.5 407.3h1.1v1.1h-1.1zM73.6 405.1h1.1v1.1h-1.1zM79.1 409.0h1.1v1.1h-1.1zM57.6 429.9h1.1v1.1h-1.1zM61.1 410.1h1.1v1.1h-1.1zM81.7 420.5h1.1v1.1h-1.1zM81.9 414.6h1.1v1.1h-1.1zM66.5 429.8h1.1v1.1h-1.1zM54.4 426.4h1.1v1.1h-1.1zM53.3 418.2h1.1v1.1h-1.1zM83.9 416.3h1.1v1.1h-1.1zM78.6 410.8h1.1v1.1h-1.1zM60.7 406.7h1.1v1.1h-1.1zM68.6 427.3h1.1v1.1h-1.1zM67.0 414.2h1.1v1.1h-1.1zM83.2 428.1h1.1v1.1h-1.1zM73.0 406.0h1.1v1.1h-1.1zM71.3 416.0h1.1v1.1h-1.1zM84.4 413.8h1.1v1.1h-1.1zM72.8 421.1h1.1v1.1h-1.1zM61.7 418.1h1.1v1.1h-1.1zM73.4 428.5h1.1v1.1h-1.1zM66.4 413.8h1.1v1.1h-1.1zM85.1 405.5h1.1v1.1h-1.1zM79.6 422.5h1.1v1.1h-1.1zM68.7 416.1h1.1v1.1h-1.1zM76.3 428.1h1.1v1.1h-1.1zM75.4 424.2h1.1v1.1h-1.1zM48.4 412.8h1.1v1.1h-1.1zM52.3 429.7h1.1v1.1h-1.1zM81.8 407.9h1.1v1.1h-1.1zM69.9 419.6h1.1v1.1h-1.1zM48.8 414.6h1.1v1.1h-1.1zM76.1 421.3h1.1v1.1h-1.1zM58.0 424.6h1.1v1.1h-1.1zM58.4 418.7h1.1v1.1h-1.1zM63.4 430.4h1.1v1.1h-1.1zM72.3 425.7h1.1v1.1h-1.1zM73.4 414.3h1.1v1.1h-1.1zM84.6 423.2h1.1v1.1h-1.1zM73.9 411.5h1.1v1.1h-1.1zM53.3 419.5h1.1v1.1h-1.1zM79.2 425.4h1.1v1.1h-1.1zM60.5 407.8h1.1v1.1h-1.1zM67.1 427.7h1.1v1.1h-1.1zM53.3 423.9h1.1v1.1h-1.1zM53.7 412.4h1.1v1.1h-1.1zM49.1 412.0h1.1v1.1h-1.1zM61.9 430.1h1.1v1.1h-1.1zM84.5 409.1h1.1v1.1h-1.1zM59.1 429.5h1.1v1.1h-1.1zM54.7 412.7h1.1v1.1h-1.1zM64.1 406.9h1.1v1.1h-1.1zM57.1 414.6h1.1v1.1h-1.1zM62.0 430.0h1.1v1.1h-1.1zM57.4 409.5h1.1v1.1h-1.1zM82.4 416.2h1.1v1.1h-1.1zM79.6 421.2h1.1v1.1h-1.1zM77.4 412.5h1.1v1.1h-1.1zM52.9 424.4h1.1v1.1h-1.1zM65.3 419.1h1.1v1.1h-1.1zM73.2 424.3h1.1v1.1h-1.1zM57.7 413.8h1.1v1.1h-1.1zM82.8 418.3h1.1v1.1h-1.1zM58.2 421.0h1.1v1.1h-1.1zM57.1 424.8h1.1v1.1h-1.1zM48.6 426.3h1.1v1.1h-1.1zM69.1 413.5h1.1v1.1h-1.1zM83.7 411.2h1.1v1.1h-1.1zM56.5 405.9h1.1v1.1h-1.1zM68.4 424.4h1.1v1.1h-1.1zM73.4 415.1h1.1v1.1h-1.1zM78.5 407.0h1.1v1.1h-1.1zM59.0 421.4h1.1v1.1h-1.1zM84.7 421.1h1.1v1.1h-1.1zM74.0 424.9h1.1v1.1h-1.1zM62.4 429.4h1.1v1.1h-1.1zM76.0 413.2h1.1v1.1h-1.1zM62.3 425.8h1.1v1.1h-1.1zM60.6 409.0h1.1v1.1h-1.1zM81.0 418.4h1.1v1.1h-1.1zM67.3 422.1h1.1v1.1h-1.1zM82.2 407.6h1.1v1.1h-1.1zM60.2 405.8h1.1v1.1h-1.1zM63.1 417.6h1.1v1.1h-1.1zM80.2 422.0h1.1v1.1h-1.1zM69.5 414.9h1.1v1.1h-1.1zM69.4 411.4h1.1v1.1h-1.1zM79.9 425.3h1.1v1.1h-1.1zM79.7 408.1h1.1v1.1h-1.1zM73.2 424.4h1.1v1.1h-1.1zM66.5 428.3h1.1v1.1h-1.1zM82.1 424.1h1.1v1.1h-1.1zM79.0 421.5h1.1v1.1h-1.1zM81.3 407.5h1.1v1.1h-1.1zM74.5 423.0h1.1v1.1h-1.1zM70.9 411.4h1.1v1.1h-1.1zM49.6 420.3h1.1v1.1h-1.1zM79.1 411.4h1.1v1.1h-1.1zM55.3 410.0h1.1v1.1h-1.1zM50.7 422.3h1.1v1.1h-1.1zM85.0 425.7h1.1v1.1h-1.1zM61.0 422.9h1.1v1.1h-1.1zM49.8 426.6h1.1v1.1h-1.1zM59.7 404.1h1.1v1.1h-1.1zM71.5 407.7h1.1v1.1h-1.1zM57.7 405.6h1.1v1.1h-1.1zM64.4 419.0h1.1v1.1h-1.1zM78.5 405.1h1.1v1.1h-1.1zM79.3 407.0h1.1v1.1h-1.1zM55.8 421.0h1.1v1.1h-1.1zM60.3 412.9h1.1v1.1h-1.1zM69.2 409.9h1.1v1.1h-1.1zM77.9 409.6h1.1v1.1h-1.1zM79.7 425.8h1.1v1.1h-1.1zM67.9 404.8h1.1v1.1h-1.1zM77.3 404.8h1.1v1.1h-1.1zM66.7 415.4h1.1v1.1h-1.1zM49.5 421.0h1.1v1.1h-1.1zM75.3 419.8h1.1v1.1h-1.1zM62.6 417.8h1.1v1.1h-1.1zM70.0 410.1h1.1v1.1h-1.1zM78.4 430.0h1.1v1.1h-1.1zM49.8 416.9h1.1v1.1h-1.1zM52.2 416.3h1.1v1.1h-1.1zM73.6 423.1h1.1v1.1h-1.1zM64.7 413.2h1.1v1.1h-1.1zM54.4 414.9h1.1v1.1h-1.1zM58.0 409.2h1.1v1.1h-1.1zM75.7 417.9h1.1v1.1h-1.1zM117.6 395.4h1.1v1.1h-1.1zM111.2 392.7h1.1v1.1h-1.1zM99.8 394.2h1.1v1.1h-1.1zM124.6 395.9h1.1v1.1h-1.1zM126.2 388.5h1.1v1.1h-1.1zM98.0 394.0h1.1v1.1h-1.1zM103.4 391.9h1.1v1.1h-1.1zM110.0 381.5h1.1v1.1h-1.1zM92.3 399.3h1.1v1.1h-1.1zM100.6 396.2h1.1v1.1h-1.1zM114.1 409.5h1.1v1.1h-1.1zM78.4 397.9h1.1v1.1h-1.1zM111.7 386.9h1.1v1.1h-1.1zM118.9 376.1h1.1v1.1h-1.1zM94.1 398.1h1.1v1.1h-1.1zM109.7 387.0h1.1v1.1h-1.1zM112.7 388.9h1.1v1.1h-1.1zM93.5 373.9h1.1v1.1h-1.1zM106.3 388.9h1.1v1.1h-1.1zM93.8 392.0h1.1v1.1h-1.1zM101.9 383.4h1.1v1.1h-1.1zM118.6 395.9h1.1v1.1h-1.1zM107.6 391.6h1.1v1.1h-1.1zM110.7 378.8h1.1v1.1h-1.1zM96.9 402.2h1.1v1.1h-1.1zM88.5 389.3h1.1v1.1h-1.1zM90.3 383.6h1.1v1.1h-1.1zM111.8 394.9h1.1v1.1h-1.1zM117.0 389.3h1.1v1.1h-1.1zM97.1 398.1h1.1v1.1h-1.1zM132.4 386.0h1.1v1.1h-1.1zM111.3 400.9h1.1v1.1h-1.1zM134.3 381.5h1.1v1.1h-1.1zM103.1 393.1h1.1v1.1h-1.1zM99.9 381.4h1.1v1.1h-1.1zM119.2 396.4h1.1v1.1h-1.1zM102.4 397.3h1.1v1.1h-1.1zM109.2 371.3h1.1v1.1h-1.1zM103.5 389.4h1.1v1.1h-1.1zM102.3 395.1h1.1v1.1h-1.1zM112.4 381.0h1.1v1.1h-1.1zM92.1 401.1h1.1v1.1h-1.1zM104.3 401.7h1.1v1.1h-1.1zM127.0 381.9h1.1v1.1h-1.1zM121.8 385.5h1.1v1.1h-1.1zM92.3 386.3h1.1v1.1h-1.1zM105.8 398.5h1.1v1.1h-1.1zM96.2 405.0h1.1v1.1h-1.1zM100.9 391.9h1.1v1.1h-1.1zM122.8 395.5h1.1v1.1h-1.1zM116.9 387.3h1.1v1.1h-1.1zM117.3 390.3h1.1v1.1h-1.1zM90.1 384.6h1.1v1.1h-1.1zM116.2 401.7h1.1v1.1h-1.1zM107.8 394.1h1.1v1.1h-1.1zM137.5 372.1h1.1v1.1h-1.1zM109.2 393.7h1.1v1.1h-1.1zM117.2 387.8h1.1v1.1h-1.1zM116.3 392.7h1.1v1.1h-1.1zM93.9 412.8h1.1v1.1h-1.1zM89.2 410.7h1.1v1.1h-1.1zM107.4 386.3h1.1v1.1h-1.1zM129.7 385.8h1.1v1.1h-1.1zM135.8 371.4h1.1v1.1h-1.1zM105.9 397.6h1.1v1.1h-1.1zM110.7 396.1h1.1v1.1h-1.1zM101.9 393.0h1.1v1.1h-1.1zM114.3 409.1h1.1v1.1h-1.1zM108.8 391.7h1.1v1.1h-1.1zM117.9 399.1h1.1v1.1h-1.1zM114.7 400.1h1.1v1.1h-1.1zM95.3 402.3h1.1v1.1h-1.1zM109.6 394.7h1.1v1.1h-1.1zM123.4 384.8h1.1v1.1h-1.1zM104.7 383.2h1.1v1.1h-1.1zM129.5 386.8h1.1v1.1h-1.1zM132.2 384.5h1.1v1.1h-1.1zM113.4 399.9h1.1v1.1h-1.1zM121.6 379.8h1.1v1.1h-1.1zM111.7 381.4h1.1v1.1h-1.1zM135.4 370.4h1.1v1.1h-1.1zM96.4 396.1h1.1v1.1h-1.1zM125.5 380.0h1.1v1.1h-1.1zM122.8 403.3h1.1v1.1h-1.1zM118.0 384.4h1.1v1.1h-1.1zM100.8 378.1h1.1v1.1h-1.1zM118.6 379.5h1.1v1.1h-1.1zM130.0 389.6h1.1v1.1h-1.1zM113.1 390.4h1.1v1.1h-1.1zM123.1 379.5h1.1v1.1h-1.1zM95.2 400.3h1.1v1.1h-1.1zM95.2 391.2h1.1v1.1h-1.1zM93.6 402.7h1.1v1.1h-1.1zM126.3 395.7h1.1v1.1h-1.1zM116.3 409.4h1.1v1.1h-1.1zM118.8 402.0h1.1v1.1h-1.1zM127.3 385.3h1.1v1.1h-1.1zM116.1 397.9h1.1v1.1h-1.1zM113.9 394.4h1.1v1.1h-1.1zM121.1 392.6h1.1v1.1h-1.1zM105.3 398.7h1.1v1.1h-1.1zM104.2 384.1h1.1v1.1h-1.1zM105.4 388.3h1.1v1.1h-1.1zM90.9 385.5h1.1v1.1h-1.1zM83.2 394.7h1.1v1.1h-1.1zM83.3 380.6h1.1v1.1h-1.1zM107.2 392.7h1.1v1.1h-1.1zM117.7 391.3h1.1v1.1h-1.1zM109.4 388.9h1.1v1.1h-1.1zM134.9 379.4h1.1v1.1h-1.1zM102.5 390.5h1.1v1.1h-1.1zM85.7 383.0h1.1v1.1h-1.1zM93.2 398.4h1.1v1.1h-1.1zM106.8 388.1h1.1v1.1h-1.1zM98.0 399.5h1.1v1.1h-1.1zM99.1 398.7h1.1v1.1h-1.1zM116.5 380.4h1.1v1.1h-1.1zM98.5 402.5h1.1v1.1h-1.1zM120.3 392.8h1.1v1.1h-1.1zM125.0 395.6h1.1v1.1h-1.1zM113.5 391.3h1.1v1.1h-1.1zM110.5 383.7h1.1v1.1h-1.1zM109.8 392.0h1.1v1.1h-1.1zM106.7 377.2h1.1v1.1h-1.1zM116.1 390.4h1.1v1.1h-1.1zM89.7 389.5h1.1v1.1h-1.1zM100.2 407.1h1.1v1.1h-1.1zM108.2 398.4h1.1v1.1h-1.1zM107.9 389.3h1.1v1.1h-1.1zM104.8 398.0h1.1v1.1h-1.1zM106.0 399.5h1.1v1.1h-1.1zM94.4 400.9h1.1v1.1h-1.1zM93.4 396.8h1.1v1.1h-1.1zM97.6 390.3h1.1v1.1h-1.1zM109.9 382.5h1.1v1.1h-1.1zM109.1 388.5h1.1v1.1h-1.1zM113.0 389.6h1.1v1.1h-1.1zM104.0 399.0h1.1v1.1h-1.1zM109.0 397.0h1.1v1.1h-1.1zM116.9 385.3h1.1v1.1h-1.1zM91.3 386.9h1.1v1.1h-1.1zM88.3 390.1h1.1v1.1h-1.1zM133.0 375.0h1.1v1.1h-1.1zM94.5 379.4h1.1v1.1h-1.1zM132.0 383.8h1.1v1.1h-1.1zM111.8 372.9h1.1v1.1h-1.1zM114.3 403.3h1.1v1.1h-1.1zM107.7 390.3h1.1v1.1h-1.1zM118.4 371.1h1.1v1.1h-1.1zM118.4 378.3h1.1v1.1h-1.1zM91.7 401.5h1.1v1.1h-1.1zM111.1 386.3h1.1v1.1h-1.1zM138.4 370.9h1.1v1.1h-1.1zM94.0 385.1h1.1v1.1h-1.1zM99.6 395.8h1.1v1.1h-1.1zM110.1 390.5h1.1v1.1h-1.1zM112.1 394.6h1.1v1.1h-1.1zM120.0 391.3h1.1v1.1h-1.1zM106.8 396.7h1.1v1.1h-1.1zM110.3 397.9h1.1v1.1h-1.1zM97.4 385.1h1.1v1.1h-1.1zM115.5 385.6h1.1v1.1h-1.1zM111.0 398.2h1.1v1.1h-1.1zM91.8 383.8h1.1v1.1h-1.1zM109.4 385.3h1.1v1.1h-1.1zM110.5 382.2h1.1v1.1h-1.1zM95.7 383.9h1.1v1.1h-1.1zM82.2 392.9h1.1v1.1h-1.1zM126.2 383.9h1.1v1.1h-1.1zM112.9 396.4h1.1v1.1h-1.1zM121.7 387.2h1.1v1.1h-1.1zM118.8 382.7h1.1v1.1h-1.1zM106.6 395.7h1.1v1.1h-1.1zM119.0 382.4h1.1v1.1h-1.1zM112.3 384.8h1.1v1.1h-1.1zM101.9 390.9h1.1v1.1h-1.1zM119.2 385.8h1.1v1.1h-1.1zM78.0 392.8h1.1v1.1h-1.1zM103.3 393.6h1.1v1.1h-1.1zM111.7 375.9h1.1v1.1h-1.1zM83.8 403.1h1.1v1.1h-1.1zM133.0 391.2h1.1v1.1h-1.1zM132.0 373.0h1.1v1.1h-1.1zM98.5 394.3h1.1v1.1h-1.1zM120.4 373.1h1.1v1.1h-1.1zM109.3 387.5h1.1v1.1h-1.1zM105.2 371.2h1.1v1.1h-1.1zM87.6 391.6h1.1v1.1h-1.1zM120.7 384.6h1.1v1.1h-1.1zM104.4 386.5h1.1v1.1h-1.1zM101.6 400.1h1.1v1.1h-1.1zM135.3 368.4h1.1v1.1h-1.1zM99.9 392.3h1.1v1.1h-1.1zM126.9 387.1h1.1v1.1h-1.1zM105.1 392.2h1.1v1.1h-1.1zM87.0 392.5h1.1v1.1h-1.1zM98.8 394.7h1.1v1.1h-1.1zM90.3 394.7h1.1v1.1h-1.1zM103.8 396.5h1.1v1.1h-1.1zM118.4 410.6h1.1v1.1h-1.1zM106.4 409.9h1.1v1.1h-1.1zM89.1 380.3h1.1v1.1h-1.1zM111.9 384.8h1.1v1.1h-1.1zM85.1 407.1h1.1v1.1h-1.1zM115.9 386.9h1.1v1.1h-1.1zM121.6 386.8h1.1v1.1h-1.1zM113.4 385.9h1.1v1.1h-1.1zM107.9 403.7h1.1v1.1h-1.1zM120.2 392.7h1.1v1.1h-1.1zM107.1 393.0h1.1v1.1h-1.1zM117.0 392.0h1.1v1.1h-1.1zM92.6 392.7h1.1v1.1h-1.1zM122.3 392.3h1.1v1.1h-1.1zM126.1 388.9h1.1v1.1h-1.1zM113.2 373.5h1.1v1.1h-1.1zM123.3 395.1h1.1v1.1h-1.1zM110.5 383.2h1.1v1.1h-1.1zM105.2 399.0h1.1v1.1h-1.1zM114.6 391.3h1.1v1.1h-1.1zM105.6 395.8h1.1v1.1h-1.1zM113.5 390.4h1.1v1.1h-1.1zM107.8 397.1h1.1v1.1h-1.1zM101.7 404.0h1.1v1.1h-1.1zM112.7 391.8h1.1v1.1h-1.1zM101.1 392.5h1.1v1.1h-1.1zM114.6 385.2h1.1v1.1h-1.1zM106.2 384.6h1.1v1.1h-1.1zM120.0 406.0h1.1v1.1h-1.1zM94.7 387.6h1.1v1.1h-1.1zM111.3 384.8h1.1v1.1h-1.1zM123.0 397.8h1.1v1.1h-1.1zM111.9 380.4h1.1v1.1h-1.1zM95.6 379.0h1.1v1.1h-1.1zM82.9 398.7h1.1v1.1h-1.1zM138.8 388.4h1.1v1.1h-1.1zM110.3 387.4h1.1v1.1h-1.1zM104.9 384.5h1.1v1.1h-1.1zM109.2 397.1h1.1v1.1h-1.1zM98.1 386.7h1.1v1.1h-1.1zM83.2 399.3h1.1v1.1h-1.1zM114.6 402.8h1.1v1.1h-1.1zM101.5 393.0h1.1v1.1h-1.1zM108.7 377.9h1.1v1.1h-1.1zM88.0 403.7h1.1v1.1h-1.1zM134.8 400.6h1.1v1.1h-1.1zM109.8 387.7h1.1v1.1h-1.1zM121.5 396.2h1.1v1.1h-1.1zM116.3 377.1h1.1v1.1h-1.1zM107.7 384.8h1.1v1.1h-1.1zM97.4 385.1h1.1v1.1h-1.1zM105.8 395.1h1.1v1.1h-1.1zM107.0 404.5h1.1v1.1h-1.1zM88.9 392.6h1.1v1.1h-1.1zM108.6 392.6h1.1v1.1h-1.1zM88.7 392.9h1.1v1.1h-1.1zM103.2 405.2h1.1v1.1h-1.1zM121.9 367.9h1.1v1.1h-1.1zM110.1 397.6h1.1v1.1h-1.1zM78.3 387.1h1.1v1.1h-1.1zM111.5 381.8h1.1v1.1h-1.1zM135.1 391.3h1.1v1.1h-1.1zM110.3 376.2h1.1v1.1h-1.1zM95.8 383.3h1.1v1.1h-1.1zM108.7 396.1h1.1v1.1h-1.1zM109.6 384.9h1.1v1.1h-1.1zM107.6 389.1h1.1v1.1h-1.1zM116.7 382.8h1.1v1.1h-1.1zM103.4 390.6h1.1v1.1h-1.1zM81.0 407.3h1.1v1.1h-1.1zM97.2 397.5h1.1v1.1h-1.1zM104.1 401.7h1.1v1.1h-1.1zM114.7 380.9h1.1v1.1h-1.1zM127.4 386.4h1.1v1.1h-1.1zM114.6 382.8h1.1v1.1h-1.1zM129.6 391.2h1.1v1.1h-1.1zM117.5 401.1h1.1v1.1h-1.1zM94.5 404.7h1.1v1.1h-1.1zM116.4 391.2h1.1v1.1h-1.1zM109.1 399.0h1.1v1.1h-1.1zM107.1 374.6h1.1v1.1h-1.1zM87.6 405.8h1.1v1.1h-1.1zM120.3 397.9h1.1v1.1h-1.1zM108.7 389.9h1.1v1.1h-1.1zM87.6 398.4h1.1v1.1h-1.1zM107.3 388.2h1.1v1.1h-1.1zM116.0 389.9h1.1v1.1h-1.1zM107.6 392.3h1.1v1.1h-1.1zM109.3 384.1h1.1v1.1h-1.1zM98.7 388.7h1.1v1.1h-1.1zM108.8 401.1h1.1v1.1h-1.1zM115.0 383.5h1.1v1.1h-1.1zM96.7 394.7h1.1v1.1h-1.1zM95.1 388.6h1.1v1.1h-1.1zM107.8 388.5h1.1v1.1h-1.1zM114.7 387.5h1.1v1.1h-1.1zM123.3 381.7h1.1v1.1h-1.1zM104.7 398.9h1.1v1.1h-1.1zM113.4 404.9h1.1v1.1h-1.1zM99.8 384.0h1.1v1.1h-1.1zM119.3 369.8h1.1v1.1h-1.1zM104.1 393.3h1.1v1.1h-1.1zM119.3 377.8h1.1v1.1h-1.1zM92.5 384.7h1.1v1.1h-1.1zM111.0 374.7h1.1v1.1h-1.1zM109.9 395.0h1.1v1.1h-1.1zM100.7 395.9h1.1v1.1h-1.1zM101.8 408.6h1.1v1.1h-1.1zM110.4 397.5h1.1v1.1h-1.1zM124.0 381.1h1.1v1.1h-1.1zM101.5 394.7h1.1v1.1h-1.1zM114.1 379.0h1.1v1.1h-1.1zM122.4 380.7h1.1v1.1h-1.1zM108.6 384.3h1.1v1.1h-1.1zM93.8 388.8h1.1v1.1h-1.1zM107.5 393.9h1.1v1.1h-1.1zM106.5 398.2h1.1v1.1h-1.1zM103.3 379.6h1.1v1.1h-1.1zM101.5 404.5h1.1v1.1h-1.1zM115.2 393.8h1.1v1.1h-1.1zM100.8 380.2h1.1v1.1h-1.1zM107.5 386.2h1.1v1.1h-1.1zM111.3 375.3h1.1v1.1h-1.1zM117.6 402.7h1.1v1.1h-1.1zM130.3 391.6h1.1v1.1h-1.1zM103.9 384.8h1.1v1.1h-1.1zM107.2 394.7h1.1v1.1h-1.1zM103.7 394.8h1.1v1.1h-1.1zM122.9 385.4h1.1v1.1h-1.1zM125.5 371.0h1.1v1.1h-1.1zM118.4 396.7h1.1v1.1h-1.1zM110.1 386.7h1.1v1.1h-1.1zM92.2 394.9h1.1v1.1h-1.1zM94.6 382.9h1.1v1.1h-1.1zM85.9 398.4h1.1v1.1h-1.1zM111.9 388.6h1.1v1.1h-1.1zM96.7 386.7h1.1v1.1h-1.1zM107.7 377.9h1.1v1.1h-1.1zM110.0 383.2h1.1v1.1h-1.1zM87.7 393.1h1.1v1.1h-1.1zM109.6 400.0h1.1v1.1h-1.1zM79.9 389.7h1.1v1.1h-1.1zM124.5 393.6h1.1v1.1h-1.1zM119.3 383.2h1.1v1.1h-1.1zM101.1 398.4h1.1v1.1h-1.1zM113.8 384.4h1.1v1.1h-1.1zM104.3 404.7h1.1v1.1h-1.1zM111.8 391.9h1.1v1.1h-1.1zM112.7 390.6h1.1v1.1h-1.1zM85.7 399.2h1.1v1.1h-1.1zM110.1 394.3h1.1v1.1h-1.1zM111.6 387.9h1.1v1.1h-1.1zM107.0 395.4h1.1v1.1h-1.1zM129.6 384.7h1.1v1.1h-1.1zM112.6 385.7h1.1v1.1h-1.1zM111.3 407.9h1.1v1.1h-1.1zM103.1 389.6h1.1v1.1h-1.1zM115.0 389.3h1.1v1.1h-1.1zM94.4 396.5h1.1v1.1h-1.1zM113.7 389.4h1.1v1.1h-1.1zM114.8 385.0h1.1v1.1h-1.1zM106.4 411.2h1.1v1.1h-1.1zM120.1 395.2h1.1v1.1h-1.1zM125.0 391.8h1.1v1.1h-1.1zM104.5 382.2h1.1v1.1h-1.1zM103.5 406.9h1.1v1.1h-1.1zM113.9 386.0h1.1v1.1h-1.1zM114.0 391.5h1.1v1.1h-1.1zM112.6 398.4h1.1v1.1h-1.1zM108.1 384.4h1.1v1.1h-1.1zM123.2 383.3h1.1v1.1h-1.1zM128.5 390.2h1.1v1.1h-1.1zM115.2 390.5h1.1v1.1h-1.1zM96.1 390.0h1.1v1.1h-1.1zM120.5 381.2h1.1v1.1h-1.1zM84.7 397.0h1.1v1.1h-1.1zM107.1 390.6h1.1v1.1h-1.1zM90.3 376.4h1.1v1.1h-1.1zM89.1 403.3h1.1v1.1h-1.1zM130.4 384.4h1.1v1.1h-1.1zM98.7 399.1h1.1v1.1h-1.1zM117.4 395.2h1.1v1.1h-1.1zM118.1 384.6h1.1v1.1h-1.1zM114.0 382.4h1.1v1.1h-1.1zM100.8 405.5h1.1v1.1h-1.1zM87.5 395.0h1.1v1.1h-1.1zM98.3 378.7h1.1v1.1h-1.1zM96.6 378.8h1.1v1.1h-1.1zM106.8 391.2h1.1v1.1h-1.1zM84.2 396.1h1.1v1.1h-1.1zM127.0 400.9h1.1v1.1h-1.1zM125.0 380.8h1.1v1.1h-1.1zM120.0 398.1h1.1v1.1h-1.1zM128.6 397.7h1.1v1.1h-1.1zM128.7 376.8h1.1v1.1h-1.1zM86.2 381.6h1.1v1.1h-1.1zM131.5 387.7h1.1v1.1h-1.1zM88.5 396.7h1.1v1.1h-1.1zM104.7 384.2h1.1v1.1h-1.1zM96.1 401.7h1.1v1.1h-1.1zM111.3 387.6h1.1v1.1h-1.1zM63.3 393.6h1.1v1.1h-1.1zM72.9 398.4h1.1v1.1h-1.1zM82.1 384.2h1.1v1.1h-1.1zM81.2 374.6h1.1v1.1h-1.1zM79.3 391.6h1.1v1.1h-1.1zM80.0 377.6h1.1v1.1h-1.1zM82.4 387.6h1.1v1.1h-1.1zM85.4 403.8h1.1v1.1h-1.1zM85.3 382.0h1.1v1.1h-1.1zM75.0 407.4h1.1v1.1h-1.1zM64.5 417.8h1.1v1.1h-1.1zM80.2 392.7h1.1v1.1h-1.1zM70.1 386.8h1.1v1.1h-1.1zM69.6 385.8h1.1v1.1h-1.1zM83.6 385.0h1.1v1.1h-1.1zM68.5 406.0h1.1v1.1h-1.1zM77.8 382.4h1.1v1.1h-1.1zM68.9 393.7h1.1v1.1h-1.1zM84.3 406.0h1.1v1.1h-1.1zM92.3 388.9h1.1v1.1h-1.1zM73.1 392.3h1.1v1.1h-1.1zM75.9 402.0h1.1v1.1h-1.1zM72.4 396.8h1.1v1.1h-1.1zM68.7 386.4h1.1v1.1h-1.1zM82.3 383.8h1.1v1.1h-1.1zM64.2 402.0h1.1v1.1h-1.1zM81.4 391.9h1.1v1.1h-1.1zM62.6 394.6h1.1v1.1h-1.1zM93.3 376.7h1.1v1.1h-1.1zM76.6 404.1h1.1v1.1h-1.1zM85.6 384.0h1.1v1.1h-1.1zM74.7 396.6h1.1v1.1h-1.1zM83.8 391.1h1.1v1.1h-1.1zM71.9 405.7h1.1v1.1h-1.1zM74.3 396.6h1.1v1.1h-1.1zM73.1 406.0h1.1v1.1h-1.1zM63.8 404.3h1.1v1.1h-1.1zM84.1 371.2h1.1v1.1h-1.1zM64.2 402.9h1.1v1.1h-1.1zM82.1 397.7h1.1v1.1h-1.1zM81.8 394.2h1.1v1.1h-1.1zM86.3 387.8h1.1v1.1h-1.1zM90.8 400.0h1.1v1.1h-1.1zM86.2 392.7h1.1v1.1h-1.1zM86.3 394.5h1.1v1.1h-1.1zM84.0 379.8h1.1v1.1h-1.1zM79.8 401.4h1.1v1.1h-1.1zM72.0 399.3h1.1v1.1h-1.1zM75.6 383.7h1.1v1.1h-1.1zM68.0 397.3h1.1v1.1h-1.1zM77.7 392.2h1.1v1.1h-1.1zM70.2 382.8h1.1v1.1h-1.1zM76.9 400.0h1.1v1.1h-1.1zM76.7 381.6h1.1v1.1h-1.1zM81.9 379.6h1.1v1.1h-1.1zM81.4 395.0h1.1v1.1h-1.1zM66.0 404.9h1.1v1.1h-1.1zM76.9 408.1h1.1v1.1h-1.1zM75.4 401.0h1.1v1.1h-1.1zM86.6 407.9h1.1v1.1h-1.1zM95.2 378.8h1.1v1.1h-1.1zM73.8 392.8h1.1v1.1h-1.1zM89.9 380.9h1.1v1.1h-1.1zM75.1 398.5h1.1v1.1h-1.1zM65.9 393.8h1.1v1.1h-1.1zM84.2 390.4h1.1v1.1h-1.1zM77.6 399.9h1.1v1.1h-1.1zM78.5 387.1h1.1v1.1h-1.1zM67.6 389.4h1.1v1.1h-1.1zM75.4 388.2h1.1v1.1h-1.1zM77.7 388.8h1.1v1.1h-1.1zM79.4 384.3h1.1v1.1h-1.1zM71.9 395.1h1.1v1.1h-1.1zM68.5 394.9h1.1v1.1h-1.1zM86.1 391.4h1.1v1.1h-1.1zM85.5 393.5h1.1v1.1h-1.1zM80.4 379.6h1.1v1.1h-1.1zM80.0 387.3h1.1v1.1h-1.1zM88.1 382.2h1.1v1.1h-1.1zM85.0 392.0h1.1v1.1h-1.1zM71.9 387.0h1.1v1.1h-1.1zM69.7 384.0h1.1v1.1h-1.1zM73.4 390.9h1.1v1.1h-1.1zM83.9 399.8h1.1v1.1h-1.1zM92.6 386.4h1.1v1.1h-1.1zM76.0 402.2h1.1v1.1h-1.1zM64.7 413.3h1.1v1.1h-1.1zM70.1 389.7h1.1v1.1h-1.1zM74.0 382.6h1.1v1.1h-1.1zM70.2 408.8h1.1v1.1h-1.1zM81.3 393.1h1.1v1.1h-1.1zM66.6 383.0h1.1v1.1h-1.1zM79.7 404.3h1.1v1.1h-1.1zM73.8 402.0h1.1v1.1h-1.1zM86.5 393.5h1.1v1.1h-1.1zM72.8 391.1h1.1v1.1h-1.1zM89.8 374.7h1.1v1.1h-1.1zM77.6 394.9h1.1v1.1h-1.1zM72.9 384.8h1.1v1.1h-1.1zM69.4 395.6h1.1v1.1h-1.1zM82.9 396.2h1.1v1.1h-1.1zM59.0 404.2h1.1v1.1h-1.1zM71.2 403.5h1.1v1.1h-1.1zM73.1 386.3h1.1v1.1h-1.1zM66.1 407.7h1.1v1.1h-1.1zM76.5 384.0h1.1v1.1h-1.1zM71.2 389.3h1.1v1.1h-1.1zM85.5 396.0h1.1v1.1h-1.1zM75.8 385.0h1.1v1.1h-1.1zM79.1 397.3h1.1v1.1h-1.1zM76.4 395.1h1.1v1.1h-1.1zM78.0 389.5h1.1v1.1h-1.1zM78.5 397.5h1.1v1.1h-1.1zM77.4 389.6h1.1v1.1h-1.1zM75.9 378.0h1.1v1.1h-1.1zM73.7 414.8h1.1v1.1h-1.1zM86.6 393.4h1.1v1.1h-1.1zM80.1 393.8h1.1v1.1h-1.1zM84.6 394.8h1.1v1.1h-1.1zM81.7 376.4h1.1v1.1h-1.1zM82.0 398.4h1.1v1.1h-1.1zM90.5 377.2h1.1v1.1h-1.1zM77.2 405.8h1.1v1.1h-1.1zM79.2 392.6h1.1v1.1h-1.1zM80.9 389.9h1.1v1.1h-1.1zM89.4 386.3h1.1v1.1h-1.1zM74.3 397.4h1.1v1.1h-1.1zM79.7 386.9h1.1v1.1h-1.1zM67.8 405.5h1.1v1.1h-1.1zM84.4 391.9h1.1v1.1h-1.1zM85.5 391.2h1.1v1.1h-1.1zM72.3 390.2h1.1v1.1h-1.1zM79.4 377.2h1.1v1.1h-1.1zM76.6 390.4h1.1v1.1h-1.1zM81.5 386.2h1.1v1.1h-1.1zM83.1 391.0h1.1v1.1h-1.1zM74.2 408.2h1.1v1.1h-1.1zM74.7 383.8h1.1v1.1h-1.1zM78.8 389.1h1.1v1.1h-1.1zM66.9 415.6h1.1v1.1h-1.1zM114.7 420.7h1.1v1.1h-1.1zM98.5 428.4h1.1v1.1h-1.1zM126.4 406.8h1.1v1.1h-1.1zM82.0 419.3h1.1v1.1h-1.1zM103.1 413.1h1.1v1.1h-1.1zM118.3 416.2h1.1v1.1h-1.1zM104.7 412.3h1.1v1.1h-1.1zM82.7 416.7h1.1v1.1h-1.1zM105.9 414.0h1.1v1.1h-1.1zM92.2 420.1h1.1v1.1h-1.1zM90.1 416.9h1.1v1.1h-1.1zM91.8 420.0h1.1v1.1h-1.1zM123.5 419.9h1.1v1.1h-1.1zM100.5 410.2h1.1v1.1h-1.1zM102.4 402.0h1.1v1.1h-1.1zM112.5 427.1h1.1v1.1h-1.1zM124.6 418.2h1.1v1.1h-1.1zM94.7 415.8h1.1v1.1h-1.1zM95.1 418.9h1.1v1.1h-1.1zM100.7 411.3h1.1v1.1h-1.1zM93.4 418.3h1.1v1.1h-1.1zM137.3 403.0h1.1v1.1h-1.1zM122.1 415.8h1.1v1.1h-1.1zM98.1 415.4h1.1v1.1h-1.1zM87.8 408.8h1.1v1.1h-1.1zM95.8 429.6h1.1v1.1h-1.1zM120.4 406.4h1.1v1.1h-1.1zM118.6 411.8h1.1v1.1h-1.1zM112.8 406.1h1.1v1.1h-1.1zM124.6 425.8h1.1v1.1h-1.1zM114.1 416.4h1.1v1.1h-1.1zM128.6 417.8h1.1v1.1h-1.1zM100.9 426.4h1.1v1.1h-1.1zM106.9 413.9h1.1v1.1h-1.1zM125.9 417.1h1.1v1.1h-1.1zM119.3 402.4h1.1v1.1h-1.1zM89.8 409.1h1.1v1.1h-1.1zM105.8 426.6h1.1v1.1h-1.1zM94.9 415.6h1.1v1.1h-1.1zM90.6 411.7h1.1v1.1h-1.1zM95.3 409.0h1.1v1.1h-1.1zM101.1 408.1h1.1v1.1h-1.1zM121.8 410.0h1.1v1.1h-1.1zM122.7 409.6h1.1v1.1h-1.1zM83.8 418.7h1.1v1.1h-1.1zM119.5 409.2h1.1v1.1h-1.1zM98.4 412.6h1.1v1.1h-1.1zM107.4 417.6h1.1v1.1h-1.1zM100.1 415.6h1.1v1.1h-1.1zM123.6 427.1h1.1v1.1h-1.1zM121.3 414.4h1.1v1.1h-1.1zM84.1 414.0h1.1v1.1h-1.1zM104.3 421.9h1.1v1.1h-1.1zM114.2 417.7h1.1v1.1h-1.1zM122.8 407.0h1.1v1.1h-1.1zM112.5 413.1h1.1v1.1h-1.1zM93.3 416.0h1.1v1.1h-1.1zM122.6 403.2h1.1v1.1h-1.1zM81.8 414.1h1.1v1.1h-1.1zM106.0 401.6h1.1v1.1h-1.1zM111.5 402.1h1.1v1.1h-1.1zM77.7 427.3h1.1v1.1h-1.1zM108.6 425.1h1.1v1.1h-1.1zM79.1 418.6h1.1v1.1h-1.1zM100.0 415.0h1.1v1.1h-1.1zM127.7 422.1h1.1v1.1h-1.1zM96.4 425.8h1.1v1.1h-1.1zM107.8 408.8h1.1v1.1h-1.1zM113.3 417.8h1.1v1.1h-1.1zM98.8 423.6h1.1v1.1h-1.1zM99.0 413.8h1.1v1.1h-1.1zM116.3 410.4h1.1v1.1h-1.1zM95.0 415.8h1.1v1.1h-1.1zM94.0 409.9h1.1v1.1h-1.1zM107.4 424.6h1.1v1.1h-1.1zM121.3 404.5h1.1v1.1h-1.1zM82.1 403.8h1.1v1.1h-1.1zM113.6 416.4h1.1v1.1h-1.1zM74.2 424.4h1.1v1.1h-1.1zM92.8 410.6h1.1v1.1h-1.1zM104.7 414.6h1.1v1.1h-1.1zM108.0 412.8h1.1v1.1h-1.1zM101.8 407.1h1.1v1.1h-1.1zM74.6 422.1h1.1v1.1h-1.1zM100.8 421.7h1.1v1.1h-1.1zM124.9 418.9h1.1v1.1h-1.1zM79.1 419.5h1.1v1.1h-1.1zM99.6 421.4h1.1v1.1h-1.1zM96.6 419.4h1.1v1.1h-1.1zM116.3 416.9h1.1v1.1h-1.1zM111.0 416.4h1.1v1.1h-1.1zM123.7 415.5h1.1v1.1h-1.1zM110.6 408.6h1.1v1.1h-1.1zM125.6 407.6h1.1v1.1h-1.1zM95.6 424.6h1.1v1.1h-1.1zM96.4 425.0h1.1v1.1h-1.1zM86.1 413.9h1.1v1.1h-1.1zM122.4 419.2h1.1v1.1h-1.1zM122.7 409.3h1.1v1.1h-1.1zM106.8 408.9h1.1v1.1h-1.1zM95.3 415.5h1.1v1.1h-1.1zM104.0 414.8h1.1v1.1h-1.1zM114.4 414.5h1.1v1.1h-1.1zM100.4 411.3h1.1v1.1h-1.1zM101.4 410.3h1.1v1.1h-1.1zM94.5 423.5h1.1v1.1h-1.1zM138.7 424.3h1.1v1.1h-1.1zM118.2 404.8h1.1v1.1h-1.1zM116.8 412.9h1.1v1.1h-1.1zM105.2 416.1h1.1v1.1h-1.1zM94.9 412.3h1.1v1.1h-1.1zM116.7 424.5h1.1v1.1h-1.1zM76.5 416.8h1.1v1.1h-1.1zM91.4 422.6h1.1v1.1h-1.1zM117.9 407.1h1.1v1.1h-1.1zM93.5 417.9h1.1v1.1h-1.1zM114.7 418.9h1.1v1.1h-1.1zM111.2 413.0h1.1v1.1h-1.1zM117.0 409.0h1.1v1.1h-1.1zM108.6 419.6h1.1v1.1h-1.1zM87.7 416.1h1.1v1.1h-1.1zM92.6 418.5h1.1v1.1h-1.1zM103.6 416.3h1.1v1.1h-1.1zM119.7 413.6h1.1v1.1h-1.1zM108.0 405.1h1.1v1.1h-1.1zM107.3 403.9h1.1v1.1h-1.1zM106.3 413.1h1.1v1.1h-1.1zM92.3 415.1h1.1v1.1h-1.1zM93.8 406.5h1.1v1.1h-1.1zM109.6 406.5h1.1v1.1h-1.1zM113.8 422.1h1.1v1.1h-1.1zM74.3 416.3h1.1v1.1h-1.1zM99.0 418.5h1.1v1.1h-1.1zM111.3 414.9h1.1v1.1h-1.1zM103.0 413.6h1.1v1.1h-1.1zM97.3 421.5h1.1v1.1h-1.1zM100.0 408.7h1.1v1.1h-1.1zM115.7 417.9h1.1v1.1h-1.1z" fill="#0c0c0c" fill-opacity="1"/>
<path d="M225.1 411.1h1.1v1.1h-1.1zM209.6 402.3h1.1v1.1h-1.1zM217.0 423.1h1.1v1.1h-1.1zM221.6 414.2h1.1v1.1h-1.1zM234.6 406.6h1.1v1.1h-1.1zM216.3 419.3h1.1v1.1h-1.1zM217.4 417.7h1.1v1.1h-1.1zM210.5 416.3h1.1v1.1h-1.1zM233.8 409.1h1.1v1.1h-1.1zM217.4 424.2h1.1v1.1h-1.1zM227.7 406.9h1.1v1.1h-1.1zM205.9 411.8h1.1v1.1h-1.1zM239.0 407.8h1.1v1.1h-1.1zM227.5 415.9h1.1v1.1h-1.1zM214.4 413.2h1.1v1.1h-1.1zM233.6 410.4h1.1v1.1h-1.1zM229.5 416.2h1.1v1.1h-1.1zM218.4 405.6h1.1v1.1h-1.1zM221.8 409.0h1.1v1.1h-1.1zM215.8 422.9h1.1v1.1h-1.1zM222.2 413.8h1.1v1.1h-1.1zM224.2 421.7h1.1v1.1h-1.1zM217.7 424.1h1.1v1.1h-1.1zM219.8 412.4h1.1v1.1h-1.1zM234.7 428.7h1.1v1.1h-1.1zM220.5 420.3h1.1v1.1h-1.1zM243.6 412.9h1.1v1.1h-1.1zM209.1 410.9h1.1v1.1h-1.1zM229.4 408.6h1.1v1.1h-1.1zM231.4 419.0h1.1v1.1h-1.1zM206.9 413.9h1.1v1.1h-1.1zM219.5 418.7h1.1v1.1h-1.1zM226.0 407.3h1.1v1.1h-1.1zM224.6 417.1h1.1v1.1h-1.1zM210.4 418.2h1.1v1.1h-1.1zM210.5 417.3h1.1v1.1h-1.1zM211.8 408.6h1.1v1.1h-1.1zM218.5 412.9h1.1v1.1h-1.1zM220.1 418.1h1.1v1.1h-1.1zM215.4 408.3h1.1v1.1h-1.1zM208.0 410.9h1.1v1.1h-1.1zM226.8 416.3h1.1v1.1h-1.1zM219.2 409.7h1.1v1.1h-1.1zM222.6 399.5h1.1v1.1h-1.1zM240.9 412.9h1.1v1.1h-1.1zM205.4 426.5h1.1v1.1h-1.1zM217.2 424.0h1.1v1.1h-1.1zM218.6 419.5h1.1v1.1h-1.1zM228.7 425.3h1.1v1.1h-1.1zM219.1 415.0h1.1v1.1h-1.1zM228.3 424.3h1.1v1.1h-1.1zM219.8 425.0h1.1v1.1h-1.1zM227.6 412.6h1.1v1.1h-1.1zM231.9 417.9h1.1v1.1h-1.1zM237.8 419.5h1.1v1.1h-1.1zM202.5 421.3h1.1v1.1h-1.1zM219.1 408.5h1.1v1.1h-1.1zM214.3 420.1h1.1v1.1h-1.1zM226.1 425.0h1.1v1.1h-1.1zM229.5 412.6h1.1v1.1h-1.1zM209.0 416.6h1.1v1.1h-1.1zM212.8 422.3h1.1v1.1h-1.1zM222.9 418.3h1.1v1.1h-1.1zM229.3 415.7h1.1v1.1h-1.1zM202.9 414.6h1.1v1.1h-1.1zM227.4 413.8h1.1v1.1h-1.1zM205.0 420.4h1.1v1.1h-1.1zM206.7 417.9h1.1v1.1h-1.1zM212.1 409.9h1.1v1.1h-1.1zM223.7 412.4h1.1v1.1h-1.1zM204.5 417.6h1.1v1.1h-1.1zM238.6 418.6h1.1v1.1h-1.1zM221.2 409.7h1.1v1.1h-1.1zM234.5 408.1h1.1v1.1h-1.1zM219.0 424.1h1.1v1.1h-1.1zM214.3 411.9h1.1v1.1h-1.1zM203.5 415.1h1.1v1.1h-1.1zM236.2 424.3h1.1v1.1h-1.1zM227.6 421.6h1.1v1.1h-1.1zM212.0 413.1h1.1v1.1h-1.1zM226.6 416.7h1.1v1.1h-1.1zM224.7 411.2h1.1v1.1h-1.1zM238.1 422.4h1.1v1.1h-1.1zM209.9 404.1h1.1v1.1h-1.1zM228.6 420.7h1.1v1.1h-1.1zM226.4 404.7h1.1v1.1h-1.1zM216.3 413.5h1.1v1.1h-1.1zM229.3 420.3h1.1v1.1h-1.1zM208.7 410.3h1.1v1.1h-1.1zM219.9 414.6h1.1v1.1h-1.1zM212.1 411.6h1.1v1.1h-1.1zM230.1 415.5h1.1v1.1h-1.1zM220.7 422.3h1.1v1.1h-1.1zM213.7 424.9h1.1v1.1h-1.1zM220.8 414.7h1.1v1.1h-1.1zM213.4 424.6h1.1v1.1h-1.1zM218.1 411.5h1.1v1.1h-1.1zM234.1 428.1h1.1v1.1h-1.1zM221.5 406.8h1.1v1.1h-1.1zM211.7 418.8h1.1v1.1h-1.1zM229.1 414.6h1.1v1.1h-1.1zM211.2 423.5h1.1v1.1h-1.1zM214.6 416.2h1.1v1.1h-1.1zM222.1 410.1h1.1v1.1h-1.1zM211.4 412.7h1.1v1.1h-1.1zM224.3 418.0h1.1v1.1h-1.1zM227.8 416.4h1.1v1.1h-1.1zM224.9 420.1h1.1v1.1h-1.1zM211.3 419.6h1.1v1.1h-1.1zM238.2 413.0h1.1v1.1h-1.1zM223.1 421.1h1.1v1.1h-1.1zM222.0 423.9h1.1v1.1h-1.1zM223.5 416.2h1.1v1.1h-1.1zM214.5 412.6h1.1v1.1h-1.1zM207.1 424.6h1.1v1.1h-1.1zM227.2 423.4h1.1v1.1h-1.1zM205.7 407.8h1.1v1.1h-1.1zM226.5 412.7h1.1v1.1h-1.1zM220.2 423.5h1.1v1.1h-1.1zM224.6 416.1h1.1v1.1h-1.1zM212.9 414.9h1.1v1.1h-1.1zM224.7 416.0h1.1v1.1h-1.1zM228.5 412.4h1.1v1.1h-1.1zM208.6 412.6h1.1v1.1h-1.1zM216.0 405.4h1.1v1.1h-1.1zM226.1 418.0h1.1v1.1h-1.1zM231.0 422.7h1.1v1.1h-1.1zM220.4 412.9h1.1v1.1h-1.1zM214.5 411.3h1.1v1.1h-1.1zM213.1 420.9h1.1v1.1h-1.1zM232.5 421.3h1.1v1.1h-1.1zM216.7 401.0h1.1v1.1h-1.1zM233.2 418.4h1.1v1.1h-1.1zM223.8 420.8h1.1v1.1h-1.1zM209.2 418.9h1.1v1.1h-1.1zM228.3 412.4h1.1v1.1h-1.1zM233.1 420.6h1.1v1.1h-1.1zM228.2 410.6h1.1v1.1h-1.1zM233.2 419.9h1.1v1.1h-1.1zM210.2 420.2h1.1v1.1h-1.1zM224.3 414.1h1.1v1.1h-1.1zM208.8 412.7h1.1v1.1h-1.1zM211.1 416.2h1.1v1.1h-1.1zM217.5 412.6h1.1v1.1h-1.1zM205.6 420.3h1.1v1.1h-1.1zM208.1 415.9h1.1v1.1h-1.1zM222.1 411.9h1.1v1.1h-1.1zM210.1 424.5h1.1v1.1h-1.1zM219.2 405.9h1.1v1.1h-1.1zM229.5 408.7h1.1v1.1h-1.1zM225.9 408.6h1.1v1.1h-1.1zM214.8 407.9h1.1v1.1h-1.1zM228.0 410.0h1.1v1.1h-1.1zM215.8 418.5h1.1v1.1h-1.1zM214.3 406.2h1.1v1.1h-1.1zM206.1 418.8h1.1v1.1h-1.1zM222.6 425.0h1.1v1.1h-1.1zM222.0 408.5h1.1v1.1h-1.1zM226.6 423.9h1.1v1.1h-1.1zM220.2 422.7h1.1v1.1h-1.1zM226.7 410.1h1.1v1.1h-1.1zM206.3 408.4h1.1v1.1h-1.1zM229.0 400.0h1.1v1.1h-1.1zM225.1 404.9h1.1v1.1h-1.1zM217.0 417.5h1.1v1.1h-1.1zM240.2 410.2h1.1v1.1h-1.1zM237.7 417.2h1.1v1.1h-1.1zM219.8 410.2h1.1v1.1h-1.1zM212.8 410.8h1.1v1.1h-1.1zM206.0 429.6h1.1v1.1h-1.1zM215.7 411.6h1.1v1.1h-1.1zM241.5 416.9h1.1v1.1h-1.1zM222.0 417.3h1.1v1.1h-1.1zM223.3 407.2h1.1v1.1h-1.1zM226.4 413.0h1.1v1.1h-1.1zM224.3 417.5h1.1v1.1h-1.1zM228.2 402.7h1.1v1.1h-1.1zM209.0 401.5h1.1v1.1h-1.1zM226.9 419.1h1.1v1.1h-1.1zM243.5 411.8h1.1v1.1h-1.1zM204.2 415.6h1.1v1.1h-1.1zM224.6 408.1h1.1v1.1h-1.1zM214.0 426.6h1.1v1.1h-1.1zM206.4 409.3h1.1v1.1h-1.1zM232.8 428.0h1.1v1.1h-1.1zM224.1 420.5h1.1v1.1h-1.1zM221.9 410.5h1.1v1.1h-1.1zM217.7 416.4h1.1v1.1h-1.1zM236.2 420.0h1.1v1.1h-1.1zM224.5 412.5h1.1v1.1h-1.1zM229.2 421.7h1.1v1.1h-1.1zM217.6 416.0h1.1v1.1h-1.1zM220.4 427.6h1.1v1.1h-1.1zM227.0 420.6h1.1v1.1h-1.1zM222.4 409.7h1.1v1.1h-1.1zM218.3 426.2h1.1v1.1h-1.1zM209.4 411.2h1.1v1.1h-1.1zM233.3 403.1h1.1v1.1h-1.1zM207.7 414.5h1.1v1.1h-1.1zM221.6 420.5h1.1v1.1h-1.1zM218.3 422.4h1.1v1.1h-1.1zM221.8 418.9h1.1v1.1h-1.1zM217.6 406.2h1.1v1.1h-1.1zM209.8 415.2h1.1v1.1h-1.1zM213.5 418.3h1.1v1.1h-1.1zM219.4 415.8h1.1v1.1h-1.1zM222.4 421.1h1.1v1.1h-1.1zM226.5 423.8h1.1v1.1h-1.1zM208.2 421.8h1.1v1.1h-1.1zM232.8 407.4h1.1v1.1h-1.1zM214.5 402.5h1.1v1.1h-1.1zM223.6 426.3h1.1v1.1h-1.1zM224.5 422.9h1.1v1.1h-1.1zM221.8 413.0h1.1v1.1h-1.1zM209.3 411.6h1.1v1.1h-1.1zM224.4 412.0h1.1v1.1h-1.1zM227.0 421.2h1.1v1.1h-1.1zM224.0 412.4h1.1v1.1h-1.1zM214.0 418.1h1.1v1.1h-1.1zM207.1 414.6h1.1v1.1h-1.1zM208.5 412.9h1.1v1.1h-1.1zM221.0 417.1h1.1v1.1h-1.1zM226.3 418.0h1.1v1.1h-1.1zM237.4 413.1h1.1v1.1h-1.1zM208.2 419.7h1.1v1.1h-1.1zM223.7 404.1h1.1v1.1h-1.1zM214.1 405.4h1.1v1.1h-1.1zM221.9 407.0h1.1v1.1h-1.1zM214.0 421.4h1.1v1.1h-1.1zM216.2 415.7h1.1v1.1h-1.1zM210.0 424.4h1.1v1.1h-1.1zM227.6 408.7h1.1v1.1h-1.1zM219.5 419.2h1.1v1.1h-1.1zM231.3 428.0h1.1v1.1h-1.1zM227.5 414.3h1.1v1.1h-1.1zM226.9 413.3h1.1v1.1h-1.1zM230.4 411.8h1.1v1.1h-1.1zM220.0 410.1h1.1v1.1h-1.1zM210.2 414.4h1.1v1.1h-1.1zM224.0 426.9h1.1v1.1h-1.1zM225.6 412.7h1.1v1.1h-1.1zM229.4 415.7h1.1v1.1h-1.1zM232.6 409.2h1.1v1.1h-1.1zM226.6 415.5h1.1v1.1h-1.1zM222.8 415.7h1.1v1.1h-1.1zM209.2 409.7h1.1v1.1h-1.1zM215.6 417.0h1.1v1.1h-1.1zM223.8 408.1h1.1v1.1h-1.1zM216.0 423.0h1.1v1.1h-1.1zM224.1 414.5h1.1v1.1h-1.1zM221.0 428.3h1.1v1.1h-1.1zM232.3 424.6h1.1v1.1h-1.1zM228.5 423.2h1.1v1.1h-1.1zM215.7 420.7h1.1v1.1h-1.1zM216.4 429.1h1.1v1.1h-1.1zM212.6 410.1h1.1v1.1h-1.1zM224.8 401.8h1.1v1.1h-1.1zM221.2 425.1h1.1v1.1h-1.1zM205.1 419.6h1.1v1.1h-1.1zM221.0 419.4h1.1v1.1h-1.1zM235.8 416.6h1.1v1.1h-1.1zM213.0 422.4h1.1v1.1h-1.1zM208.0 416.8h1.1v1.1h-1.1zM218.2 421.8h1.1v1.1h-1.1zM223.3 421.2h1.1v1.1h-1.1zM214.5 408.8h1.1v1.1h-1.1zM231.3 418.8h1.1v1.1h-1.1zM238.1 419.0h1.1v1.1h-1.1zM232.4 414.8h1.1v1.1h-1.1zM215.1 416.3h1.1v1.1h-1.1zM216.1 414.5h1.1v1.1h-1.1zM219.1 417.1h1.1v1.1h-1.1zM210.1 413.0h1.1v1.1h-1.1zM229.5 423.2h1.1v1.1h-1.1zM219.9 409.9h1.1v1.1h-1.1zM228.9 421.7h1.1v1.1h-1.1zM227.5 421.6h1.1v1.1h-1.1zM223.8 420.4h1.1v1.1h-1.1zM233.6 412.5h1.1v1.1h-1.1zM210.9 415.8h1.1v1.1h-1.1zM211.5 414.4h1.1v1.1h-1.1zM222.0 429.5h1.1v1.1h-1.1zM226.7 413.8h1.1v1.1h-1.1zM230.8 415.5h1.1v1.1h-1.1zM211.6 411.1h1.1v1.1h-1.1zM231.2 411.9h1.1v1.1h-1.1zM215.3 422.7h1.1v1.1h-1.1zM215.9 408.6h1.1v1.1h-1.1zM222.4 410.9h1.1v1.1h-1.1zM215.5 425.4h1.1v1.1h-1.1zM211.5 401.3h1.1v1.1h-1.1zM229.2 411.4h1.1v1.1h-1.1zM225.6 416.3h1.1v1.1h-1.1zM218.0 418.6h1.1v1.1h-1.1zM223.9 417.2h1.1v1.1h-1.1zM220.3 413.1h1.1v1.1h-1.1zM226.1 413.3h1.1v1.1h-1.1zM222.2 413.1h1.1v1.1h-1.1zM231.9 407.5h1.1v1.1h-1.1zM234.8 420.6h1.1v1.1h-1.1zM224.0 415.2h1.1v1.1h-1.1zM240.1 405.0h1.1v1.1h-1.1zM225.0 402.2h1.1v1.1h-1.1zM234.5 423.9h1.1v1.1h-1.1zM227.7 413.9h1.1v1.1h-1.1zM216.3 406.1h1.1v1.1h-1.1zM226.3 425.5h1.1v1.1h-1.1zM211.2 417.4h1.1v1.1h-1.1zM232.1 413.1h1.1v1.1h-1.1zM230.4 417.8h1.1v1.1h-1.1zM233.7 417.7h1.1v1.1h-1.1zM228.0 417.9h1.1v1.1h-1.1zM216.5 413.4h1.1v1.1h-1.1zM208.3 415.5h1.1v1.1h-1.1zM225.1 424.3h1.1v1.1h-1.1zM219.3 417.3h1.1v1.1h-1.1zM210.0 428.6h1.1v1.1h-1.1zM231.6 418.9h1.1v1.1h-1.1zM227.6 417.9h1.1v1.1h-1.1zM225.7 424.9h1.1v1.1h-1.1zM230.4 423.6h1.1v1.1h-1.1zM204.7 418.7h1.1v1.1h-1.1zM218.5 413.2h1.1v1.1h-1.1zM215.1 416.6h1.1v1.1h-1.1zM234.5 413.3h1.1v1.1h-1.1zM231.0 416.7h1.1v1.1h-1.1zM215.4 417.8h1.1v1.1h-1.1zM215.8 426.0h1.1v1.1h-1.1zM222.3 416.8h1.1v1.1h-1.1zM217.1 409.6h1.1v1.1h-1.1zM244.9 421.7h1.1v1.1h-1.1zM227.0 423.6h1.1v1.1h-1.1zM231.5 416.6h1.1v1.1h-1.1zM204.8 423.4h1.1v1.1h-1.1zM227.8 420.5h1.1v1.1h-1.1zM219.3 421.7h1.1v1.1h-1.1zM225.6 429.1h1.1v1.1h-1.1zM224.3 415.3h1.1v1.1h-1.1zM237.3 419.6h1.1v1.1h-1.1zM238.4 422.0h1.1v1.1h-1.1zM221.4 424.5h1.1v1.1h-1.1zM233.8 408.6h1.1v1.1h-1.1zM203.1 418.1h1.1v1.1h-1.1zM214.4 410.9h1.1v1.1h-1.1zM231.3 414.5h1.1v1.1h-1.1zM229.2 412.8h1.1v1.1h-1.1zM223.7 417.0h1.1v1.1h-1.1zM212.7 412.4h1.1v1.1h-1.1zM212.3 412.5h1.1v1.1h-1.1zM212.7 416.8h1.1v1.1h-1.1zM230.5 408.5h1.1v1.1h-1.1zM220.9 416.8h1.1v1.1h-1.1zM221.1 411.6h1.1v1.1h-1.1zM212.2 416.0h1.1v1.1h-1.1zM221.1 410.7h1.1v1.1h-1.1zM224.8 415.5h1.1v1.1h-1.1zM216.5 425.0h1.1v1.1h-1.1zM212.1 416.1h1.1v1.1h-1.1zM242.8 413.3h1.1v1.1h-1.1zM216.5 415.2h1.1v1.1h-1.1zM218.2 419.1h1.1v1.1h-1.1zM207.5 414.4h1.1v1.1h-1.1zM214.4 421.3h1.1v1.1h-1.1zM218.0 419.7h1.1v1.1h-1.1zM224.1 418.4h1.1v1.1h-1.1zM206.8 414.2h1.1v1.1h-1.1zM205.5 428.8h1.1v1.1h-1.1zM206.2 412.5h1.1v1.1h-1.1zM207.5 423.4h1.1v1.1h-1.1zM241.4 418.2h1.1v1.1h-1.1zM223.5 421.5h1.1v1.1h-1.1zM234.2 406.8h1.1v1.1h-1.1zM213.7 424.6h1.1v1.1h-1.1zM208.8 427.5h1.1v1.1h-1.1zM224.2 417.4h1.1v1.1h-1.1zM224.6 425.3h1.1v1.1h-1.1zM207.0 415.9h1.1v1.1h-1.1zM235.9 413.1h1.1v1.1h-1.1zM216.6 410.6h1.1v1.1h-1.1zM229.2 424.6h1.1v1.1h-1.1zM242.1 408.4h1.1v1.1h-1.1zM219.8 413.4h1.1v1.1h-1.1zM205.7 407.3h1.1v1.1h-1.1zM244.9 414.7h1.1v1.1h-1.1zM223.7 417.3h1.1v1.1h-1.1zM220.6 423.2h1.1v1.1h-1.1zM221.3 409.1h1.1v1.1h-1.1zM216.9 408.9h1.1v1.1h-1.1zM205.2 420.4h1.1v1.1h-1.1zM216.0 418.7h1.1v1.1h-1.1zM231.5 424.0h1.1v1.1h-1.1zM229.3 422.2h1.1v1.1h-1.1zM222.8 409.9h1.1v1.1h-1.1zM224.6 415.8h1.1v1.1h-1.1zM230.3 413.5h1.1v1.1h-1.1zM228.4 425.3h1.1v1.1h-1.1zM239.5 418.8h1.1v1.1h-1.1zM208.1 420.7h1.1v1.1h-1.1zM230.3 415.5h1.1v1.1h-1.1zM218.9 406.3h1.1v1.1h-1.1zM232.0 412.5h1.1v1.1h-1.1zM211.3 410.3h1.1v1.1h-1.1zM216.0 414.2h1.1v1.1h-1.1zM217.8 428.5h1.1v1.1h-1.1zM215.8 418.0h1.1v1.1h-1.1zM202.7 424.3h1.1v1.1h-1.1zM237.6 417.0h1.1v1.1h-1.1zM240.7 411.9h1.1v1.1h-1.1zM215.7 420.8h1.1v1.1h-1.1zM237.2 422.3h1.1v1.1h-1.1zM226.3 419.2h1.1v1.1h-1.1zM210.9 419.2h1.1v1.1h-1.1zM214.9 404.6h1.1v1.1h-1.1zM213.0 420.2h1.1v1.1h-1.1zM231.5 424.8h1.1v1.1h-1.1zM222.1 426.7h1.1v1.1h-1.1zM214.5 406.4h1.1v1.1h-1.1zM217.1 425.8h1.1v1.1h-1.1zM222.1 426.7h1.1v1.1h-1.1zM216.6 414.9h1.1v1.1h-1.1zM219.4 422.1h1.1v1.1h-1.1zM239.4 404.5h1.1v1.1h-1.1zM226.8 406.1h1.1v1.1h-1.1zM222.9 414.4h1.1v1.1h-1.1zM212.6 419.7h1.1v1.1h-1.1zM225.1 418.4h1.1v1.1h-1.1zM207.6 420.9h1.1v1.1h-1.1zM206.5 412.9h1.1v1.1h-1.1zM232.6 415.9h1.1v1.1h-1.1zM212.7 411.8h1.1v1.1h-1.1zM222.1 420.1h1.1v1.1h-1.1zM203.1 420.3h1.1v1.1h-1.1zM221.9 416.5h1.1v1.1h-1.1zM218.4 407.9h1.1v1.1h-1.1zM225.8 417.6h1.1v1.1h-1.1zM225.7 421.9h1.1v1.1h-1.1zM228.6 413.5h1.1v1.1h-1.1zM223.1 412.9h1.1v1.1h-1.1zM214.6 405.7h1.1v1.1h-1.1zM215.3 417.7h1.1v1.1h-1.1zM224.0 423.9h1.1v1.1h-1.1zM232.1 405.8h1.1v1.1h-1.1zM223.2 420.4h1.1v1.1h-1.1zM237.8 420.7h1.1v1.1h-1.1zM220.1 415.7h1.1v1.1h-1.1zM233.2 425.7h1.1v1.1h-1.1zM234.6 409.1h1.1v1.1h-1.1zM222.2 425.8h1.1v1.1h-1.1zM235.1 422.2h1.1v1.1h-1.1zM237.6 410.7h1.1v1.1h-1.1zM215.7 420.3h1.1v1.1h-1.1zM205.4 410.7h1.1v1.1h-1.1zM209.0 416.9h1.1v1.1h-1.1zM227.9 419.6h1.1v1.1h-1.1zM218.5 406.7h1.1v1.1h-1.1zM203.0 415.5h1.1v1.1h-1.1zM236.2 417.7h1.1v1.1h-1.1zM215.3 413.9h1.1v1.1h-1.1zM202.4 417.1h1.1v1.1h-1.1zM224.5 418.4h1.1v1.1h-1.1zM237.7 428.6h1.1v1.1h-1.1zM224.0 414.2h1.1v1.1h-1.1zM224.2 424.4h1.1v1.1h-1.1zM237.6 414.6h1.1v1.1h-1.1zM223.5 415.9h1.1v1.1h-1.1zM215.4 417.4h1.1v1.1h-1.1zM216.2 415.8h1.1v1.1h-1.1zM235.5 411.0h1.1v1.1h-1.1zM212.3 417.7h1.1v1.1h-1.1zM220.8 418.8h1.1v1.1h-1.1zM226.6 413.3h1.1v1.1h-1.1zM203.9 414.2h1.1v1.1h-1.1zM207.4 417.1h1.1v1.1h-1.1zM214.8 420.4h1.1v1.1h-1.1zM225.8 418.3h1.1v1.1h-1.1zM236.9 414.6h1.1v1.1h-1.1zM229.1 418.8h1.1v1.1h-1.1zM240.5 421.2h1.1v1.1h-1.1zM210.8 427.5h1.1v1.1h-1.1zM236.2 408.9h1.1v1.1h-1.1zM215.7 428.7h1.1v1.1h-1.1zM211.5 416.2h1.1v1.1h-1.1zM228.1 409.4h1.1v1.1h-1.1zM227.5 415.5h1.1v1.1h-1.1zM213.9 407.2h1.1v1.1h-1.1zM209.8 415.2h1.1v1.1h-1.1zM231.8 428.5h1.1v1.1h-1.1zM216.2 413.5h1.1v1.1h-1.1zM208.7 424.7h1.1v1.1h-1.1zM233.7 420.8h1.1v1.1h-1.1zM215.5 408.1h1.1v1.1h-1.1zM217.3 408.6h1.1v1.1h-1.1zM239.9 424.9h1.1v1.1h-1.1zM235.2 413.5h1.1v1.1h-1.1zM238.1 425.0h1.1v1.1h-1.1zM203.6 404.9h1.1v1.1h-1.1zM240.1 413.9h1.1v1.1h-1.1zM224.3 422.1h1.1v1.1h-1.1zM223.5 420.3h1.1v1.1h-1.1zM220.2 423.9h1.1v1.1h-1.1zM214.1 413.5h1.1v1.1h-1.1zM225.3 426.8h1.1v1.1h-1.1zM244.6 405.7h1.1v1.1h-1.1zM221.8 409.3h1.1v1.1h-1.1zM208.2 411.3h1.1v1.1h-1.1zM239.5 426.7h1.1v1.1h-1.1zM213.3 421.0h1.1v1.1h-1.1zM223.1 414.3h1.1v1.1h-1.1zM206.2 417.1h1.1v1.1h-1.1zM211.6 409.5h1.1v1.1h-1.1zM225.0 419.7h1.1v1.1h-1.1zM223.2 407.3h1.1v1.1h-1.1zM214.8 423.1h1.1v1.1h-1.1zM217.1 416.0h1.1v1.1h-1.1zM229.1 423.6h1.1v1.1h-1.1zM220.5 407.1h1.1v1.1h-1.1zM218.2 415.4h1.1v1.1h-1.1zM223.4 412.5h1.1v1.1h-1.1zM228.1 413.0h1.1v1.1h-1.1zM238.2 424.1h1.1v1.1h-1.1zM224.7 418.0h1.1v1.1h-1.1zM219.4 406.5h1.1v1.1h-1.1zM226.3 418.6h1.1v1.1h-1.1zM210.5 404.7h1.1v1.1h-1.1zM210.5 416.8h1.1v1.1h-1.1zM223.7 425.6h1.1v1.1h-1.1zM215.0 415.7h1.1v1.1h-1.1zM223.1 417.8h1.1v1.1h-1.1zM220.2 416.8h1.1v1.1h-1.1zM205.3 417.4h1.1v1.1h-1.1zM231.2 415.5h1.1v1.1h-1.1zM226.7 410.6h1.1v1.1h-1.1zM237.5 426.6h1.1v1.1h-1.1zM224.8 423.3h1.1v1.1h-1.1zM235.6 424.4h1.1v1.1h-1.1zM211.3 423.0h1.1v1.1h-1.1zM228.4 409.1h1.1v1.1h-1.1zM208.6 420.1h1.1v1.1h-1.1zM216.9 418.5h1.1v1.1h-1.1zM216.2 411.6h1.1v1.1h-1.1zM220.9 416.9h1.1v1.1h-1.1zM223.4 426.9h1.1v1.1h-1.1zM217.6 411.2h1.1v1.1h-1.1zM217.5 421.7h1.1v1.1h-1.1zM218.4 422.4h1.1v1.1h-1.1zM220.9 425.1h1.1v1.1h-1.1zM241.3 401.7h1.1v1.1h-1.1zM221.3 407.4h1.1v1.1h-1.1zM222.5 425.2h1.1v1.1h-1.1zM231.6 417.9h1.1v1.1h-1.1zM226.6 414.1h1.1v1.1h-1.1zM207.0 415.7h1.1v1.1h-1.1zM207.8 404.3h1.1v1.1h-1.1zM224.1 414.4h1.1v1.1h-1.1zM231.6 410.6h1.1v1.1h-1.1zM220.0 422.0h1.1v1.1h-1.1zM204.6 421.0h1.1v1.1h-1.1zM211.4 417.1h1.1v1.1h-1.1zM204.5 413.6h1.1v1.1h-1.1zM232.5 425.2h1.1v1.1h-1.1zM210.2 414.1h1.1v1.1h-1.1zM228.6 417.7h1.1v1.1h-1.1zM223.9 422.6h1.1v1.1h-1.1zM233.8 419.8h1.1v1.1h-1.1zM217.0 416.4h1.1v1.1h-1.1zM214.8 416.0h1.1v1.1h-1.1zM214.1 411.6h1.1v1.1h-1.1zM224.6 421.5h1.1v1.1h-1.1zM219.2 403.7h1.1v1.1h-1.1zM203.5 418.4h1.1v1.1h-1.1zM237.1 419.0h1.1v1.1h-1.1zM207.3 416.5h1.1v1.1h-1.1zM219.5 414.9h1.1v1.1h-1.1zM215.5 410.6h1.1v1.1h-1.1zM223.5 409.0h1.1v1.1h-1.1zM221.9 416.9h1.1v1.1h-1.1zM224.6 421.2h1.1v1.1h-1.1zM242.4 414.7h1.1v1.1h-1.1zM219.0 411.2h1.1v1.1h-1.1zM227.5 411.5h1.1v1.1h-1.1zM224.8 413.0h1.1v1.1h-1.1zM220.0 406.8h1.1v1.1h-1.1zM211.5 414.0h1.1v1.1h-1.1zM202.1 418.0h1.1v1.1h-1.1zM218.4 422.3h1.1v1.1h-1.1zM236.2 422.1h1.1v1.1h-1.1zM209.0 419.0h1.1v1.1h-1.1zM217.3 412.7h1.1v1.1h-1.1zM230.8 422.3h1.1v1.1h-1.1zM239.5 406.7h1.1v1.1h-1.1zM222.1 417.2h1.1v1.1h-1.1zM217.6 420.9h1.1v1.1h-1.1zM212.7 409.4h1.1v1.1h-1.1zM216.5 419.9h1.1v1.1h-1.1zM212.3 421.3h1.1v1.1h-1.1zM226.7 416.5h1.1v1.1h-1.1zM219.3 418.0h1.1v1.1h-1.1zM219.2 412.5h1.1v1.1h-1.1zM227.6 409.1h1.1v1.1h-1.1zM228.5 404.9h1.1v1.1h-1.1zM232.1 410.4h1.1v1.1h-1.1zM223.5 418.8h1.1v1.1h-1.1zM223.6 404.3h1.1v1.1h-1.1zM214.4 410.0h1.1v1.1h-1.1zM229.3 417.7h1.1v1.1h-1.1zM241.6 419.1h1.1v1.1h-1.1zM224.1 407.6h1.1v1.1h-1.1zM224.9 417.3h1.1v1.1h-1.1zM230.5 425.8h1.1v1.1h-1.1zM219.9 425.5h1.1v1.1h-1.1zM241.4 405.6h1.1v1.1h-1.1zM234.7 408.7h1.1v1.1h-1.1zM218.5 422.0h1.1v1.1h-1.1zM215.7 422.6h1.1v1.1h-1.1zM220.0 418.1h1.1v1.1h-1.1zM229.5 418.8h1.1v1.1h-1.1zM223.9 423.5h1.1v1.1h-1.1zM223.4 421.5h1.1v1.1h-1.1zM217.7 416.4h1.1v1.1h-1.1zM215.7 415.8h1.1v1.1h-1.1zM230.0 424.1h1.1v1.1h-1.1zM244.9 407.4h1.1v1.1h-1.1zM211.4 406.5h1.1v1.1h-1.1zM228.1 417.3h1.1v1.1h-1.1zM205.8 400.2h1.1v1.1h-1.1zM222.4 424.7h1.1v1.1h-1.1zM225.3 413.8h1.1v1.1h-1.1zM212.3 400.4h1.1v1.1h-1.1zM224.3 416.3h1.1v1.1h-1.1zM223.0 401.2h1.1v1.1h-1.1zM212.8 416.3h1.1v1.1h-1.1zM233.6 404.1h1.1v1.1h-1.1zM212.9 424.0h1.1v1.1h-1.1zM227.4 410.7h1.1v1.1h-1.1zM220.8 416.2h1.1v1.1h-1.1zM216.9 414.8h1.1v1.1h-1.1zM224.9 416.0h1.1v1.1h-1.1zM239.3 419.9h1.1v1.1h-1.1zM219.6 418.0h1.1v1.1h-1.1zM215.9 423.7h1.1v1.1h-1.1zM214.1 415.8h1.1v1.1h-1.1zM234.5 405.5h1.1v1.1h-1.1zM212.8 413.3h1.1v1.1h-1.1zM220.8 408.2h1.1v1.1h-1.1zM211.8 423.3h1.1v1.1h-1.1zM229.7 421.3h1.1v1.1h-1.1zM220.4 417.7h1.1v1.1h-1.1zM221.9 418.9h1.1v1.1h-1.1zM228.0 410.8h1.1v1.1h-1.1zM227.7 400.6h1.1v1.1h-1.1zM225.1 430.3h1.1v1.1h-1.1zM222.1 419.7h1.1v1.1h-1.1zM203.9 415.7h1.1v1.1h-1.1zM211.1 416.6h1.1v1.1h-1.1zM212.9 424.9h1.1v1.1h-1.1zM215.2 415.3h1.1v1.1h-1.1zM213.7 423.3h1.1v1.1h-1.1zM236.3 409.5h1.1v1.1h-1.1zM224.9 412.5h1.1v1.1h-1.1zM233.2 409.0h1.1v1.1h-1.1zM219.6 426.1h1.1v1.1h-1.1zM222.3 424.3h1.1v1.1h-1.1zM210.9 424.2h1.1v1.1h-1.1zM209.6 420.3h1.1v1.1h-1.1zM220.6 425.1h1.1v1.1h-1.1zM227.6 410.7h1.1v1.1h-1.1zM210.2 412.5h1.1v1.1h-1.1zM210.8 418.5h1.1v1.1h-1.1zM211.4 411.3h1.1v1.1h-1.1zM221.6 415.3h1.1v1.1h-1.1zM218.1 422.9h1.1v1.1h-1.1zM206.7 413.0h1.1v1.1h-1.1zM214.8 412.2h1.1v1.1h-1.1zM241.3 414.6h1.1v1.1h-1.1zM228.0 418.1h1.1v1.1h-1.1zM210.9 414.7h1.1v1.1h-1.1zM240.7 410.7h1.1v1.1h-1.1zM224.0 420.5h1.1v1.1h-1.1zM219.5 405.2h1.1v1.1h-1.1zM223.4 423.5h1.1v1.1h-1.1zM214.2 412.7h1.1v1.1h-1.1zM226.3 429.3h1.1v1.1h-1.1zM223.2 418.7h1.1v1.1h-1.1zM217.5 427.3h1.1v1.1h-1.1zM208.6 414.5h1.1v1.1h-1.1zM222.9 416.3h1.1v1.1h-1.1zM216.1 412.2h1.1v1.1h-1.1zM205.5 430.6h1.1v1.1h-1.1zM223.7 407.2h1.1v1.1h-1.1zM214.0 408.4h1.1v1.1h-1.1zM228.2 420.7h1.1v1.1h-1.1zM223.8 405.8h1.1v1.1h-1.1zM212.6 412.4h1.1v1.1h-1.1zM225.2 421.0h1.1v1.1h-1.1zM231.4 419.4h1.1v1.1h-1.1zM230.1 414.3h1.1v1.1h-1.1zM213.9 417.2h1.1v1.1h-1.1zM210.8 399.8h1.1v1.1h-1.1zM211.2 420.5h1.1v1.1h-1.1zM232.7 410.5h1.1v1.1h-1.1zM226.9 423.1h1.1v1.1h-1.1zM209.5 417.0h1.1v1.1h-1.1zM222.3 409.6h1.1v1.1h-1.1zM229.5 413.2h1.1v1.1h-1.1zM227.9 427.1h1.1v1.1h-1.1zM204.7 421.3h1.1v1.1h-1.1zM219.2 420.8h1.1v1.1h-1.1zM215.7 415.2h1.1v1.1h-1.1zM214.0 416.6h1.1v1.1h-1.1zM231.3 412.5h1.1v1.1h-1.1zM216.6 414.7h1.1v1.1h-1.1zM225.2 414.6h1.1v1.1h-1.1zM229.2 425.3h1.1v1.1h-1.1zM230.9 422.5h1.1v1.1h-1.1zM226.8 425.6h1.1v1.1h-1.1zM231.0 410.0h1.1v1.1h-1.1zM213.7 411.3h1.1v1.1h-1.1zM216.2 407.5h1.1v1.1h-1.1zM218.2 418.8h1.1v1.1h-1.1zM210.6 416.5h1.1v1.1h-1.1zM225.6 411.0h1.1v1.1h-1.1zM213.5 418.5h1.1v1.1h-1.1zM208.9 420.7h1.1v1.1h-1.1zM218.8 413.2h1.1v1.1h-1.1zM228.5 419.7h1.1v1.1h-1.1zM208.1 405.0h1.1v1.1h-1.1zM220.2 418.4h1.1v1.1h-1.1zM221.6 416.3h1.1v1.1h-1.1zM227.2 412.1h1.1v1.1h-1.1zM208.1 418.5h1.1v1.1h-1.1zM227.0 417.5h1.1v1.1h-1.1zM228.2 423.0h1.1v1.1h-1.1zM235.3 413.4h1.1v1.1h-1.1zM204.2 408.4h1.1v1.1h-1.1zM209.9 414.4h1.1v1.1h-1.1zM222.1 413.2h1.1v1.1h-1.1zM227.0 428.8h1.1v1.1h-1.1zM216.5 422.4h1.1v1.1h-1.1zM214.3 415.0h1.1v1.1h-1.1zM210.4 415.9h1.1v1.1h-1.1zM219.2 410.4h1.1v1.1h-1.1zM240.4 408.5h1.1v1.1h-1.1zM230.3 425.1h1.1v1.1h-1.1zM237.3 416.9h1.1v1.1h-1.1zM224.6 412.0h1.1v1.1h-1.1zM238.0 406.0h1.1v1.1h-1.1zM218.0 418.4h1.1v1.1h-1.1zM212.2 416.4h1.1v1.1h-1.1zM224.4 413.9h1.1v1.1h-1.1zM219.7 420.9h1.1v1.1h-1.1zM213.7 413.1h1.1v1.1h-1.1zM230.4 411.2h1.1v1.1h-1.1zM216.7 411.0h1.1v1.1h-1.1zM232.7 420.6h1.1v1.1h-1.1zM209.5 409.9h1.1v1.1h-1.1zM239.3 412.7h1.1v1.1h-1.1zM224.2 415.6h1.1v1.1h-1.1zM232.6 424.8h1.1v1.1h-1.1zM222.0 418.1h1.1v1.1h-1.1zM220.6 415.3h1.1v1.1h-1.1zM218.2 417.6h1.1v1.1h-1.1zM225.3 425.8h1.1v1.1h-1.1zM209.0 412.0h1.1v1.1h-1.1zM226.3 409.7h1.1v1.1h-1.1zM207.1 407.7h1.1v1.1h-1.1zM230.1 414.0h1.1v1.1h-1.1zM209.6 410.2h1.1v1.1h-1.1zM232.8 417.6h1.1v1.1h-1.1zM225.1 412.4h1.1v1.1h-1.1zM229.2 411.2h1.1v1.1h-1.1zM227.4 424.4h1.1v1.1h-1.1zM215.8 426.3h1.1v1.1h-1.1zM230.7 410.7h1.1v1.1h-1.1zM224.9 403.2h1.1v1.1h-1.1zM211.5 405.5h1.1v1.1h-1.1zM211.5 428.0h1.1v1.1h-1.1zM215.9 419.1h1.1v1.1h-1.1zM217.7 416.1h1.1v1.1h-1.1zM224.8 411.6h1.1v1.1h-1.1zM213.5 423.3h1.1v1.1h-1.1zM227.2 407.2h1.1v1.1h-1.1zM229.7 412.5h1.1v1.1h-1.1zM213.8 408.8h1.1v1.1h-1.1zM234.1 418.4h1.1v1.1h-1.1zM210.5 418.2h1.1v1.1h-1.1zM225.1 412.2h1.1v1.1h-1.1zM209.8 413.6h1.1v1.1h-1.1zM211.2 419.6h1.1v1.1h-1.1zM231.4 416.4h1.1v1.1h-1.1zM232.9 427.4h1.1v1.1h-1.1zM231.9 415.4h1.1v1.1h-1.1zM206.7 419.6h1.1v1.1h-1.1zM226.4 406.6h1.1v1.1h-1.1zM207.5 417.0h1.1v1.1h-1.1zM224.2 409.9h1.1v1.1h-1.1zM224.7 403.6h1.1v1.1h-1.1zM206.9 417.6h1.1v1.1h-1.1zM209.5 417.8h1.1v1.1h-1.1zM215.7 417.1h1.1v1.1h-1.1zM224.3 417.6h1.1v1.1h-1.1zM230.1 408.0h1.1v1.1h-1.1zM207.9 425.8h1.1v1.1h-1.1zM221.5 415.7h1.1v1.1h-1.1zM221.5 403.9h1.1v1.1h-1.1zM227.4 408.9h1.1v1.1h-1.1zM220.8 420.0h1.1v1.1h-1.1zM219.8 423.1h1.1v1.1h-1.1zM211.6 415.3h1.1v1.1h-1.1zM237.8 419.0h1.1v1.1h-1.1zM216.2 421.4h1.1v1.1h-1.1zM218.6 424.0h1.1v1.1h-1.1zM223.0 422.4h1.1v1.1h-1.1zM231.7 423.2h1.1v1.1h-1.1zM207.1 413.3h1.1v1.1h-1.1zM224.4 424.1h1.1v1.1h-1.1zM221.2 416.2h1.1v1.1h-1.1zM233.3 422.7h1.1v1.1h-1.1zM225.7 410.9h1.1v1.1h-1.1zM215.6 428.7h1.1v1.1h-1.1zM218.1 417.7h1.1v1.1h-1.1zM223.0 414.1h1.1v1.1h-1.1zM211.6 418.6h1.1v1.1h-1.1zM219.2 408.4h1.1v1.1h-1.1zM240.3 408.8h1.1v1.1h-1.1zM227.1 423.6h1.1v1.1h-1.1zM211.5 413.9h1.1v1.1h-1.1zM212.3 419.9h1.1v1.1h-1.1zM217.1 418.7h1.1v1.1h-1.1zM222.5 418.1h1.1v1.1h-1.1zM224.5 406.4h1.1v1.1h-1.1zM221.3 411.1h1.1v1.1h-1.1zM228.3 415.2h1.1v1.1h-1.1zM232.1 413.0h1.1v1.1h-1.1zM215.1 406.0h1.1v1.1h-1.1zM206.9 419.5h1.1v1.1h-1.1zM214.7 405.1h1.1v1.1h-1.1zM213.8 426.3h1.1v1.1h-1.1zM208.5 414.6h1.1v1.1h-1.1zM219.3 414.0h1.1v1.1h-1.1zM205.8 413.9h1.1v1.1h-1.1zM228.1 403.2h1.1v1.1h-1.1zM234.9 425.5h1.1v1.1h-1.1zM224.9 423.4h1.1v1.1h-1.1zM223.8 411.0h1.1v1.1h-1.1zM217.6 415.4h1.1v1.1h-1.1zM220.8 419.9h1.1v1.1h-1.1zM227.8 418.8h1.1v1.1h-1.1zM217.0 412.5h1.1v1.1h-1.1zM212.1 410.7h1.1v1.1h-1.1zM214.9 417.5h1.1v1.1h-1.1zM226.1 406.9h1.1v1.1h-1.1zM217.0 414.8h1.1v1.1h-1.1zM216.6 427.0h1.1v1.1h-1.1zM215.5 399.6h1.1v1.1h-1.1zM217.5 410.6h1.1v1.1h-1.1zM226.2 407.3h1.1v1.1h-1.1zM219.9 410.8h1.1v1.1h-1.1zM217.9 399.3h1.1v1.1h-1.1zM224.1 416.8h1.1v1.1h-1.1zM233.4 421.9h1.1v1.1h-1.1zM230.6 400.5h1.1v1.1h-1.1zM209.7 412.1h1.1v1.1h-1.1zM214.4 415.4h1.1v1.1h-1.1zM218.2 430.5h1.1v1.1h-1.1zM232.6 416.2h1.1v1.1h-1.1zM230.0 420.5h1.1v1.1h-1.1zM216.2 418.6h1.1v1.1h-1.1zM205.3 403.0h1.1v1.1h-1.1zM233.3 406.3h1.1v1.1h-1.1zM227.0 418.3h1.1v1.1h-1.1zM224.8 404.5h1.1v1.1h-1.1zM223.6 423.4h1.1v1.1h-1.1zM227.7 408.3h1.1v1.1h-1.1zM214.2 417.3h1.1v1.1h-1.1zM232.5 404.7h1.1v1.1h-1.1zM218.0 422.5h1.1v1.1h-1.1zM202.3 423.5h1.1v1.1h-1.1zM227.3 413.3h1.1v1.1h-1.1zM214.3 415.0h1.1v1.1h-1.1zM218.2 424.9h1.1v1.1h-1.1zM216.8 406.4h1.1v1.1h-1.1zM238.9 420.2h1.1v1.1h-1.1zM222.5 424.0h1.1v1.1h-1.1zM227.4 416.5h1.1v1.1h-1.1zM220.3 406.7h1.1v1.1h-1.1zM229.1 412.4h1.1v1.1h-1.1zM225.9 411.1h1.1v1.1h-1.1zM215.6 404.3h1.1v1.1h-1.1zM220.6 421.4h1.1v1.1h-1.1zM214.2 408.6h1.1v1.1h-1.1zM221.3 415.2h1.1v1.1h-1.1zM233.9 411.2h1.1v1.1h-1.1zM219.1 406.4h1.1v1.1h-1.1zM227.3 412.1h1.1v1.1h-1.1zM224.7 408.4h1.1v1.1h-1.1zM215.9 410.6h1.1v1.1h-1.1zM213.8 415.4h1.1v1.1h-1.1zM206.7 409.7h1.1v1.1h-1.1zM211.6 404.8h1.1v1.1h-1.1zM221.9 413.0h1.1v1.1h-1.1zM212.0 421.5h1.1v1.1h-1.1zM224.3 417.6h1.1v1.1h-1.1zM219.6 426.4h1.1v1.1h-1.1zM216.2 413.3h1.1v1.1h-1.1zM206.5 423.6h1.1v1.1h-1.1zM208.3 414.6h1.1v1.1h-1.1zM214.3 424.8h1.1v1.1h-1.1zM214.0 413.9h1.1v1.1h-1.1zM207.1 414.0h1.1v1.1h-1.1zM211.2 429.8h1.1v1.1h-1.1zM216.7 414.3h1.1v1.1h-1.1zM234.6 416.4h1.1v1.1h-1.1zM212.1 425.7h1.1v1.1h-1.1zM235.6 428.8h1.1v1.1h-1.1zM205.9 412.1h1.1v1.1h-1.1zM224.7 419.5h1.1v1.1h-1.1zM202.9 399.4h1.1v1.1h-1.1zM228.2 413.6h1.1v1.1h-1.1zM202.8 414.3h1.1v1.1h-1.1zM203.5 427.8h1.1v1.1h-1.1zM219.7 416.3h1.1v1.1h-1.1zM222.6 415.2h1.1v1.1h-1.1zM217.8 415.3h1.1v1.1h-1.1zM205.3 417.6h1.1v1.1h-1.1zM226.1 402.8h1.1v1.1h-1.1zM210.8 408.4h1.1v1.1h-1.1zM212.1 417.4h1.1v1.1h-1.1zM220.2 416.6h1.1v1.1h-1.1zM220.0 409.8h1.1v1.1h-1.1zM229.1 421.6h1.1v1.1h-1.1zM228.6 414.7h1.1v1.1h-1.1zM205.2 424.1h1.1v1.1h-1.1zM234.1 408.3h1.1v1.1h-1.1zM210.1 410.6h1.1v1.1h-1.1zM210.1 412.4h1.1v1.1h-1.1zM243.5 416.9h1.1v1.1h-1.1zM234.9 421.6h1.1v1.1h-1.1zM218.2 419.7h1.1v1.1h-1.1zM239.3 413.1h1.1v1.1h-1.1zM213.1 424.7h1.1v1.1h-1.1zM216.8 410.9h1.1v1.1h-1.1zM231.4 420.1h1.1v1.1h-1.1zM229.5 415.2h1.1v1.1h-1.1zM217.7 413.9h1.1v1.1h-1.1zM242.5 418.1h1.1v1.1h-1.1zM220.4 416.6h1.1v1.1h-1.1zM215.6 414.3h1.1v1.1h-1.1zM217.1 428.6h1.1v1.1h-1.1zM224.6 428.0h1.1v1.1h-1.1zM221.2 415.2h1.1v1.1h-1.1zM236.8 408.6h1.1v1.1h-1.1zM226.0 423.4h1.1v1.1h-1.1zM222.0 402.3h1.1v1.1h-1.1zM226.8 411.7h1.1v1.1h-1.1zM204.5 415.8h1.1v1.1h-1.1zM229.2 413.1h1.1v1.1h-1.1zM206.9 404.0h1.1v1.1h-1.1zM218.5 399.9h1.1v1.1h-1.1zM208.1 405.9h1.1v1.1h-1.1zM228.6 415.1h1.1v1.1h-1.1zM229.2 427.4h1.1v1.1h-1.1zM224.1 409.1h1.1v1.1h-1.1zM245.1 426.9h1.1v1.1h-1.1zM220.4 427.9h1.1v1.1h-1.1zM217.7 419.7h1.1v1.1h-1.1zM229.3 416.4h1.1v1.1h-1.1zM203.7 411.4h1.1v1.1h-1.1zM214.1 409.4h1.1v1.1h-1.1zM206.0 422.4h1.1v1.1h-1.1zM215.2 418.6h1.1v1.1h-1.1zM218.3 411.0h1.1v1.1h-1.1zM225.2 414.4h1.1v1.1h-1.1zM222.3 418.3h1.1v1.1h-1.1zM203.3 419.6h1.1v1.1h-1.1zM215.3 418.3h1.1v1.1h-1.1zM214.9 422.4h1.1v1.1h-1.1zM215.8 416.5h1.1v1.1h-1.1zM225.9 409.5h1.1v1.1h-1.1zM208.8 412.1h1.1v1.1h-1.1zM217.4 416.7h1.1v1.1h-1.1zM232.5 410.5h1.1v1.1h-1.1zM223.2 423.8h1.1v1.1h-1.1zM217.0 408.3h1.1v1.1h-1.1zM212.6 422.0h1.1v1.1h-1.1zM209.4 414.5h1.1v1.1h-1.1zM210.2 415.9h1.1v1.1h-1.1zM221.4 419.5h1.1v1.1h-1.1zM225.7 412.8h1.1v1.1h-1.1zM217.0 419.1h1.1v1.1h-1.1zM232.2 415.0h1.1v1.1h-1.1zM228.1 415.8h1.1v1.1h-1.1zM214.7 412.8h1.1v1.1h-1.1zM228.1 415.9h1.1v1.1h-1.1zM220.4 409.8h1.1v1.1h-1.1zM211.5 412.6h1.1v1.1h-1.1zM219.1 414.8h1.1v1.1h-1.1zM229.0 425.8h1.1v1.1h-1.1zM219.2 416.0h1.1v1.1h-1.1zM222.4 401.0h1.1v1.1h-1.1zM213.1 414.7h1.1v1.1h-1.1zM229.4 429.4h1.1v1.1h-1.1zM228.9 410.3h1.1v1.1h-1.1zM215.1 417.3h1.1v1.1h-1.1zM213.8 407.2h1.1v1.1h-1.1zM213.2 424.7h1.1v1.1h-1.1zM212.6 420.7h1.1v1.1h-1.1zM221.7 415.5h1.1v1.1h-1.1zM231.0 427.9h1.1v1.1h-1.1zM223.5 417.6h1.1v1.1h-1.1zM220.8 420.3h1.1v1.1h-1.1zM216.0 412.1h1.1v1.1h-1.1zM232.4 426.0h1.1v1.1h-1.1zM225.1 422.0h1.1v1.1h-1.1zM227.5 418.1h1.1v1.1h-1.1zM206.0 420.7h1.1v1.1h-1.1zM221.1 409.2h1.1v1.1h-1.1zM235.1 408.6h1.1v1.1h-1.1zM222.3 412.5h1.1v1.1h-1.1zM217.4 406.1h1.1v1.1h-1.1zM211.7 422.5h1.1v1.1h-1.1zM230.6 425.3h1.1v1.1h-1.1zM223.2 407.6h1.1v1.1h-1.1zM223.8 411.4h1.1v1.1h-1.1zM222.5 413.8h1.1v1.1h-1.1zM207.1 404.2h1.1v1.1h-1.1zM217.5 418.5h1.1v1.1h-1.1zM222.7 406.8h1.1v1.1h-1.1zM217.6 416.3h1.1v1.1h-1.1zM231.3 411.0h1.1v1.1h-1.1zM216.5 417.7h1.1v1.1h-1.1zM221.1 421.1h1.1v1.1h-1.1zM209.1 420.6h1.1v1.1h-1.1zM206.4 401.7h1.1v1.1h-1.1zM211.3 411.5h1.1v1.1h-1.1zM237.9 416.9h1.1v1.1h-1.1zM203.8 418.7h1.1v1.1h-1.1zM202.8 429.5h1.1v1.1h-1.1zM237.4 418.2h1.1v1.1h-1.1zM222.9 407.1h1.1v1.1h-1.1zM212.9 414.1h1.1v1.1h-1.1zM221.5 420.9h1.1v1.1h-1.1zM217.0 423.9h1.1v1.1h-1.1zM205.3 411.1h1.1v1.1h-1.1zM215.0 403.4h1.1v1.1h-1.1zM219.9 416.9h1.1v1.1h-1.1zM220.7 422.2h1.1v1.1h-1.1zM223.2 408.2h1.1v1.1h-1.1zM221.9 421.9h1.1v1.1h-1.1zM218.2 409.6h1.1v1.1h-1.1zM227.4 412.1h1.1v1.1h-1.1zM222.8 422.1h1.1v1.1h-1.1zM223.3 424.6h1.1v1.1h-1.1zM220.0 418.9h1.1v1.1h-1.1zM223.6 407.1h1.1v1.1h-1.1zM221.6 410.4h1.1v1.1h-1.1zM218.4 419.7h1.1v1.1h-1.1zM227.4 416.4h1.1v1.1h-1.1zM207.8 415.8h1.1v1.1h-1.1zM219.0 412.8h1.1v1.1h-1.1zM225.3 420.8h1.1v1.1h-1.1zM227.8 429.7h1.1v1.1h-1.1zM238.0 424.5h1.1v1.1h-1.1zM225.1 406.2h1.1v1.1h-1.1zM216.6 426.9h1.1v1.1h-1.1zM209.0 417.0h1.1v1.1h-1.1zM222.5 407.7h1.1v1.1h-1.1zM216.6 418.3h1.1v1.1h-1.1zM218.1 416.2h1.1v1.1h-1.1zM209.8 419.6h1.1v1.1h-1.1zM213.3 410.2h1.1v1.1h-1.1zM215.0 418.4h1.1v1.1h-1.1zM242.0 415.0h1.1v1.1h-1.1zM228.2 414.4h1.1v1.1h-1.1zM225.4 412.8h1.1v1.1h-1.1zM221.2 418.7h1.1v1.1h-1.1zM204.2 409.7h1.1v1.1h-1.1zM215.7 428.1h1.1v1.1h-1.1zM236.3 406.1h1.1v1.1h-1.1zM208.0 406.0h1.1v1.1h-1.1zM212.0 415.3h1.1v1.1h-1.1zM227.2 409.3h1.1v1.1h-1.1zM226.0 414.7h1.1v1.1h-1.1zM229.7 422.5h1.1v1.1h-1.1zM223.9 419.0h1.1v1.1h-1.1zM208.3 415.0h1.1v1.1h-1.1zM226.4 412.6h1.1v1.1h-1.1zM234.8 421.3h1.1v1.1h-1.1zM205.6 416.5h1.1v1.1h-1.1zM236.7 429.3h1.1v1.1h-1.1zM217.2 417.3h1.1v1.1h-1.1zM224.4 419.0h1.1v1.1h-1.1zM220.4 412.2h1.1v1.1h-1.1zM206.2 416.7h1.1v1.1h-1.1zM208.5 414.0h1.1v1.1h-1.1zM230.6 407.4h1.1v1.1h-1.1zM211.2 417.4h1.1v1.1h-1.1zM232.5 430.3h1.1v1.1h-1.1zM229.5 425.5h1.1v1.1h-1.1zM224.4 421.1h1.1v1.1h-1.1zM222.5 416.6h1.1v1.1h-1.1zM229.5 401.6h1.1v1.1h-1.1zM215.5 419.1h1.1v1.1h-1.1zM221.5 424.1h1.1v1.1h-1.1zM223.4 415.0h1.1v1.1h-1.1zM213.4 419.7h1.1v1.1h-1.1zM221.1 406.4h1.1v1.1h-1.1zM234.5 409.4h1.1v1.1h-1.1zM223.6 401.9h1.1v1.1h-1.1zM220.5 413.8h1.1v1.1h-1.1zM223.6 414.6h1.1v1.1h-1.1zM209.8 407.2h1.1v1.1h-1.1zM232.4 414.2h1.1v1.1h-1.1zM215.4 416.8h1.1v1.1h-1.1zM210.0 419.7h1.1v1.1h-1.1zM210.8 404.3h1.1v1.1h-1.1zM218.1 419.3h1.1v1.1h-1.1zM222.7 414.6h1.1v1.1h-1.1zM218.7 406.1h1.1v1.1h-1.1zM223.6 419.6h1.1v1.1h-1.1zM215.9 412.9h1.1v1.1h-1.1zM202.8 412.1h1.1v1.1h-1.1zM215.7 418.0h1.1v1.1h-1.1zM221.2 412.4h1.1v1.1h-1.1zM208.7 422.3h1.1v1.1h-1.1zM220.9 416.8h1.1v1.1h-1.1zM219.4 414.8h1.1v1.1h-1.1zM228.2 413.7h1.1v1.1h-1.1zM216.2 412.0h1.1v1.1h-1.1zM214.5 406.4h1.1v1.1h-1.1zM220.5 425.1h1.1v1.1h-1.1zM208.2 419.4h1.1v1.1h-1.1zM219.4 414.3h1.1v1.1h-1.1zM235.1 413.1h1.1v1.1h-1.1zM222.4 416.1h1.1v1.1h-1.1zM238.7 422.3h1.1v1.1h-1.1zM217.2 407.0h1.1v1.1h-1.1zM216.9 415.4h1.1v1.1h-1.1zM233.5 411.9h1.1v1.1h-1.1zM212.1 424.4h1.1v1.1h-1.1zM225.5 406.0h1.1v1.1h-1.1zM218.8 412.1h1.1v1.1h-1.1zM232.6 419.4h1.1v1.1h-1.1zM230.7 416.3h1.1v1.1h-1.1zM217.9 422.1h1.1v1.1h-1.1zM219.6 426.5h1.1v1.1h-1.1zM208.7 425.7h1.1v1.1h-1.1zM223.0 417.3h1.1v1.1h-1.1zM227.8 424.6h1.1v1.1h-1.1zM219.2 414.0h1.1v1.1h-1.1zM237.6 422.6h1.1v1.1h-1.1zM220.0 416.3h1.1v1.1h-1.1zM240.0 402.5h1.1v1.1h-1.1zM205.7 416.0h1.1v1.1h-1.1zM224.0 417.1h1.1v1.1h-1.1zM218.3 409.5h1.1v1.1h-1.1zM207.6 419.9h1.1v1.1h-1.1zM229.7 417.7h1.1v1.1h-1.1zM214.3 424.1h1.1v1.1h-1.1zM233.8 419.9h1.1v1.1h-1.1zM207.4 412.1h1.1v1.1h-1.1zM224.4 416.1h1.1v1.1h-1.1zM222.7 421.8h1.1v1.1h-1.1zM209.5 408.1h1.1v1.1h-1.1zM213.9 409.1h1.1v1.1h-1.1zM214.2 421.7h1.1v1.1h-1.1zM225.5 416.5h1.1v1.1h-1.1zM220.1 418.8h1.1v1.1h-1.1zM225.5 422.0h1.1v1.1h-1.1zM223.7 415.8h1.1v1.1h-1.1zM215.5 405.3h1.1v1.1h-1.1zM223.1 424.4h1.1v1.1h-1.1zM211.3 417.9h1.1v1.1h-1.1zM220.0 428.7h1.1v1.1h-1.1zM226.0 417.7h1.1v1.1h-1.1zM218.1 405.2h1.1v1.1h-1.1zM236.0 420.0h1.1v1.1h-1.1zM218.2 420.3h1.1v1.1h-1.1zM208.7 414.9h1.1v1.1h-1.1zM215.8 428.4h1.1v1.1h-1.1zM224.4 418.1h1.1v1.1h-1.1zM224.9 408.7h1.1v1.1h-1.1zM207.7 413.5h1.1v1.1h-1.1zM210.8 426.6h1.1v1.1h-1.1zM205.5 408.8h1.1v1.1h-1.1zM228.4 413.4h1.1v1.1h-1.1zM228.6 411.4h1.1v1.1h-1.1zM229.5 406.2h1.1v1.1h-1.1zM224.4 425.2h1.1v1.1h-1.1zM215.9 410.0h1.1v1.1h-1.1zM210.4 408.5h1.1v1.1h-1.1zM215.2 406.5h1.1v1.1h-1.1zM228.0 406.7h1.1v1.1h-1.1zM210.7 415.7h1.1v1.1h-1.1zM211.3 425.4h1.1v1.1h-1.1zM211.8 414.6h1.1v1.1h-1.1zM205.4 410.7h1.1v1.1h-1.1zM220.8 411.9h1.1v1.1h-1.1zM204.7 415.0h1.1v1.1h-1.1zM227.6 413.7h1.1v1.1h-1.1zM228.1 417.0h1.1v1.1h-1.1zM221.2 421.9h1.1v1.1h-1.1zM230.4 411.9h1.1v1.1h-1.1zM232.4 424.9h1.1v1.1h-1.1zM235.6 412.8h1.1v1.1h-1.1zM211.3 421.5h1.1v1.1h-1.1zM213.5 423.3h1.1v1.1h-1.1zM226.6 406.1h1.1v1.1h-1.1zM226.2 411.6h1.1v1.1h-1.1zM228.1 423.3h1.1v1.1h-1.1zM203.5 416.8h1.1v1.1h-1.1zM209.7 415.7h1.1v1.1h-1.1zM217.9 416.5h1.1v1.1h-1.1zM218.2 414.4h1.1v1.1h-1.1zM242.9 416.4h1.1v1.1h-1.1zM216.5 419.4h1.1v1.1h-1.1zM225.3 420.5h1.1v1.1h-1.1zM225.1 425.6h1.1v1.1h-1.1zM206.4 423.1h1.1v1.1h-1.1zM217.8 402.8h1.1v1.1h-1.1zM203.0 419.1h1.1v1.1h-1.1zM224.3 420.5h1.1v1.1h-1.1zM211.6 412.5h1.1v1.1h-1.1zM239.0 409.4h1.1v1.1h-1.1zM215.2 423.5h1.1v1.1h-1.1zM228.9 413.2h1.1v1.1h-1.1zM214.9 424.0h1.1v1.1h-1.1zM211.9 415.9h1.1v1.1h-1.1zM222.6 405.7h1.1v1.1h-1.1zM206.6 402.1h1.1v1.1h-1.1zM242.7 426.7h1.1v1.1h-1.1zM217.9 407.7h1.1v1.1h-1.1zM227.9 412.0h1.1v1.1h-1.1zM231.1 412.3h1.1v1.1h-1.1zM237.2 419.2h1.1v1.1h-1.1zM214.5 411.8h1.1v1.1h-1.1zM223.1 417.0h1.1v1.1h-1.1zM231.6 427.4h1.1v1.1h-1.1zM243.4 408.8h1.1v1.1h-1.1zM213.7 421.5h1.1v1.1h-1.1zM207.2 411.7h1.1v1.1h-1.1zM227.4 419.8h1.1v1.1h-1.1zM202.3 424.6h1.1v1.1h-1.1zM226.6 421.0h1.1v1.1h-1.1zM204.8 404.2h1.1v1.1h-1.1zM236.1 412.6h1.1v1.1h-1.1zM220.0 430.2h1.1v1.1h-1.1zM209.4 420.4h1.1v1.1h-1.1zM204.3 418.3h1.1v1.1h-1.1zM230.1 406.6h1.1v1.1h-1.1zM230.9 430.1h1.1v1.1h-1.1zM233.4 424.9h1.1v1.1h-1.1zM238.0 422.8h1.1v1.1h-1.1zM222.8 425.9h1.1v1.1h-1.1zM232.6 420.2h1.1v1.1h-1.1zM227.4 407.2h1.1v1.1h-1.1zM214.9 411.4h1.1v1.1h-1.1zM234.6 424.7h1.1v1.1h-1.1zM204.2 403.8h1.1v1.1h-1.1zM214.5 404.2h1.1v1.1h-1.1zM238.1 412.4h1.1v1.1h-1.1zM216.8 426.8h1.1v1.1h-1.1zM222.3 420.3h1.1v1.1h-1.1zM218.7 415.3h1.1v1.1h-1.1zM238.4 410.0h1.1v1.1h-1.1zM222.0 415.9h1.1v1.1h-1.1zM207.4 406.2h1.1v1.1h-1.1zM221.3 425.2h1.1v1.1h-1.1zM218.4 403.7h1.1v1.1h-1.1zM237.5 406.0h1.1v1.1h-1.1zM235.6 403.3h1.1v1.1h-1.1zM226.7 406.2h1.1v1.1h-1.1zM211.9 414.2h1.1v1.1h-1.1zM230.7 414.6h1.1v1.1h-1.1zM217.9 413.7h1.1v1.1h-1.1zM221.8 410.1h1.1v1.1h-1.1zM238.2 407.5h1.1v1.1h-1.1zM207.0 417.9h1.1v1.1h-1.1zM215.3 422.9h1.1v1.1h-1.1zM203.5 421.6h1.1v1.1h-1.1zM215.8 428.9h1.1v1.1h-1.1zM213.4 414.6h1.1v1.1h-1.1zM214.1 417.5h1.1v1.1h-1.1zM212.7 421.4h1.1v1.1h-1.1zM217.6 422.5h1.1v1.1h-1.1zM213.1 415.2h1.1v1.1h-1.1zM223.2 422.8h1.1v1.1h-1.1zM226.8 414.4h1.1v1.1h-1.1zM205.3 405.3h1.1v1.1h-1.1zM207.6 407.3h1.1v1.1h-1.1zM209.0 421.2h1.1v1.1h-1.1zM215.0 428.3h1.1v1.1h-1.1zM210.9 409.1h1.1v1.1h-1.1zM209.0 406.2h1.1v1.1h-1.1zM227.9 418.8h1.1v1.1h-1.1zM211.5 425.5h1.1v1.1h-1.1zM227.7 414.4h1.1v1.1h-1.1zM225.1 421.0h1.1v1.1h-1.1zM218.8 404.7h1.1v1.1h-1.1zM215.9 429.4h1.1v1.1h-1.1zM216.2 420.5h1.1v1.1h-1.1zM205.4 424.4h1.1v1.1h-1.1zM234.8 412.8h1.1v1.1h-1.1zM216.1 416.9h1.1v1.1h-1.1zM211.6 408.1h1.1v1.1h-1.1zM206.9 421.9h1.1v1.1h-1.1zM221.4 429.7h1.1v1.1h-1.1zM238.6 427.4h1.1v1.1h-1.1zM237.9 426.3h1.1v1.1h-1.1zM202.9 405.8h1.1v1.1h-1.1zM239.1 427.3h1.1v1.1h-1.1zM225.4 420.0h1.1v1.1h-1.1zM218.6 414.3h1.1v1.1h-1.1zM207.5 417.9h1.1v1.1h-1.1zM212.4 405.5h1.1v1.1h-1.1zM235.1 418.7h1.1v1.1h-1.1zM235.3 410.5h1.1v1.1h-1.1zM223.9 410.0h1.1v1.1h-1.1zM233.6 408.1h1.1v1.1h-1.1zM226.6 418.1h1.1v1.1h-1.1zM214.4 404.3h1.1v1.1h-1.1zM220.5 417.2h1.1v1.1h-1.1zM233.1 407.9h1.1v1.1h-1.1zM209.0 410.9h1.1v1.1h-1.1zM232.5 408.7h1.1v1.1h-1.1zM226.1 402.9h1.1v1.1h-1.1zM205.1 422.5h1.1v1.1h-1.1zM220.9 405.3h1.1v1.1h-1.1zM220.0 429.3h1.1v1.1h-1.1zM216.9 418.2h1.1v1.1h-1.1zM218.0 416.7h1.1v1.1h-1.1zM203.6 427.6h1.1v1.1h-1.1zM224.0 412.1h1.1v1.1h-1.1zM212.8 407.4h1.1v1.1h-1.1zM237.5 426.4h1.1v1.1h-1.1zM216.4 419.5h1.1v1.1h-1.1zM223.0 407.8h1.1v1.1h-1.1zM203.3 423.3h1.1v1.1h-1.1zM208.2 418.4h1.1v1.1h-1.1zM202.7 402.6h1.1v1.1h-1.1zM208.2 421.0h1.1v1.1h-1.1zM227.1 417.1h1.1v1.1h-1.1zM202.5 429.8h1.1v1.1h-1.1zM220.6 426.9h1.1v1.1h-1.1zM203.6 426.2h1.1v1.1h-1.1zM220.1 408.3h1.1v1.1h-1.1zM217.4 404.2h1.1v1.1h-1.1zM224.1 408.4h1.1v1.1h-1.1zM228.7 407.0h1.1v1.1h-1.1zM228.2 419.9h1.1v1.1h-1.1zM229.0 429.6h1.1v1.1h-1.1zM213.2 421.8h1.1v1.1h-1.1zM217.1 427.9h1.1v1.1h-1.1zM233.4 424.1h1.1v1.1h-1.1zM224.8 409.6h1.1v1.1h-1.1zM236.5 430.1h1.1v1.1h-1.1zM238.1 411.8h1.1v1.1h-1.1zM233.2 421.7h1.1v1.1h-1.1zM233.9 425.3h1.1v1.1h-1.1zM219.3 413.5h1.1v1.1h-1.1zM232.2 421.0h1.1v1.1h-1.1zM222.5 427.3h1.1v1.1h-1.1zM203.2 402.4h1.1v1.1h-1.1zM219.7 404.8h1.1v1.1h-1.1zM234.0 404.6h1.1v1.1h-1.1zM235.5 408.5h1.1v1.1h-1.1zM207.1 423.9h1.1v1.1h-1.1zM227.7 413.9h1.1v1.1h-1.1zM224.7 418.0h1.1v1.1h-1.1zM238.0 416.7h1.1v1.1h-1.1zM222.5 415.4h1.1v1.1h-1.1zM217.6 422.0h1.1v1.1h-1.1zM206.2 422.1h1.1v1.1h-1.1zM237.3 424.1h1.1v1.1h-1.1zM222.6 412.2h1.1v1.1h-1.1zM205.7 404.7h1.1v1.1h-1.1zM222.5 427.5h1.1v1.1h-1.1zM234.9 407.3h1.1v1.1h-1.1zM230.5 425.4h1.1v1.1h-1.1zM220.2 426.9h1.1v1.1h-1.1zM209.1 411.7h1.1v1.1h-1.1zM221.5 423.1h1.1v1.1h-1.1zM219.1 410.8h1.1v1.1h-1.1zM234.9 413.4h1.1v1.1h-1.1zM217.9 408.5h1.1v1.1h-1.1zM220.4 422.5h1.1v1.1h-1.1zM215.7 421.2h1.1v1.1h-1.1zM220.7 402.3h1.1v1.1h-1.1zM238.6 410.4h1.1v1.1h-1.1zM222.7 429.8h1.1v1.1h-1.1zM209.9 403.9h1.1v1.1h-1.1zM209.8 406.4h1.1v1.1h-1.1zM234.3 417.0h1.1v1.1h-1.1zM203.6 409.9h1.1v1.1h-1.1zM221.4 407.1h1.1v1.1h-1.1zM213.6 428.2h1.1v1.1h-1.1zM218.9 408.8h1.1v1.1h-1.1zM224.7 405.3h1.1v1.1h-1.1zM221.8 420.8h1.1v1.1h-1.1zM205.4 417.9h1.1v1.1h-1.1zM213.8 423.6h1.1v1.1h-1.1zM225.4 428.4h1.1v1.1h-1.1zM225.1 407.3h1.1v1.1h-1.1zM209.0 422.4h1.1v1.1h-1.1zM232.8 403.8h1.1v1.1h-1.1zM217.8 410.2h1.1v1.1h-1.1zM219.8 427.3h1.1v1.1h-1.1zM223.3 423.6h1.1v1.1h-1.1zM231.1 410.1h1.1v1.1h-1.1zM225.5 412.9h1.1v1.1h-1.1zM220.0 417.4h1.1v1.1h-1.1zM227.3 406.9h1.1v1.1h-1.1zM233.9 406.7h1.1v1.1h-1.1zM213.9 426.6h1.1v1.1h-1.1zM239.4 412.6h1.1v1.1h-1.1zM238.2 403.1h1.1v1.1h-1.1zM238.3 407.8h1.1v1.1h-1.1zM203.3 424.1h1.1v1.1h-1.1zM208.1 423.8h1.1v1.1h-1.1zM202.3 405.6h1.1v1.1h-1.1zM215.6 404.4h1.1v1.1h-1.1zM219.9 412.0h1.1v1.1h-1.1zM230.1 416.3h1.1v1.1h-1.1zM238.7 426.5h1.1v1.1h-1.1zM208.5 428.6h1.1v1.1h-1.1zM236.0 418.4h1.1v1.1h-1.1zM222.0 406.9h1.1v1.1h-1.1zM214.2 408.4h1.1v1.1h-1.1zM209.5 419.8h1.1v1.1h-1.1zM214.3 424.3h1.1v1.1h-1.1zM223.8 426.0h1.1v1.1h-1.1zM205.3 426.6h1.1v1.1h-1.1zM221.3 420.3h1.1v1.1h-1.1zM211.1 422.2h1.1v1.1h-1.1zM217.4 422.9h1.1v1.1h-1.1zM224.2 406.1h1.1v1.1h-1.1zM213.4 423.8h1.1v1.1h-1.1zM202.6 420.3h1.1v1.1h-1.1zM222.7 422.7h1.1v1.1h-1.1zM214.5 415.8h1.1v1.1h-1.1zM220.1 423.7h1.1v1.1h-1.1zM204.8 416.8h1.1v1.1h-1.1zM211.9 419.1h1.1v1.1h-1.1zM211.9 408.0h1.1v1.1h-1.1zM210.8 427.9h1.1v1.1h-1.1zM215.8 427.5h1.1v1.1h-1.1zM229.9 409.8h1.1v1.1h-1.1zM223.1 402.3h1.1v1.1h-1.1zM237.4 420.3h1.1v1.1h-1.1zM206.3 417.0h1.1v1.1h-1.1zM220.8 421.5h1.1v1.1h-1.1zM213.0 428.4h1.1v1.1h-1.1zM225.7 404.1h1.1v1.1h-1.1zM233.1 427.7h1.1v1.1h-1.1zM213.6 422.6h1.1v1.1h-1.1zM234.7 427.6h1.1v1.1h-1.1zM204.7 426.3h1.1v1.1h-1.1zM211.4 425.3h1.1v1.1h-1.1zM228.1 415.5h1.1v1.1h-1.1zM236.3 425.3h1.1v1.1h-1.1zM239.8 429.8h1.1v1.1h-1.1zM223.8 423.3h1.1v1.1h-1.1zM227.5 413.6h1.1v1.1h-1.1zM221.0 416.7h1.1v1.1h-1.1zM210.2 409.6h1.1v1.1h-1.1zM234.1 426.5h1.1v1.1h-1.1zM228.5 422.0h1.1v1.1h-1.1zM221.4 418.6h1.1v1.1h-1.1zM227.3 402.2h1.1v1.1h-1.1zM218.9 430.1h1.1v1.1h-1.1zM209.8 415.6h1.1v1.1h-1.1zM204.9 409.4h1.1v1.1h-1.1zM233.3 402.9h1.1v1.1h-1.1zM232.4 425.1h1.1v1.1h-1.1zM235.0 409.5h1.1v1.1h-1.1zM237.4 412.8h1.1v1.1h-1.1zM219.1 429.6h1.1v1.1h-1.1zM222.7 421.7h1.1v1.1h-1.1zM206.2 402.1h1.1v1.1h-1.1zM212.1 405.1h1.1v1.1h-1.1zM233.3 409.2h1.1v1.1h-1.1zM238.4 421.7h1.1v1.1h-1.1zM209.3 422.6h1.1v1.1h-1.1zM214.1 417.3h1.1v1.1h-1.1zM204.9 426.2h1.1v1.1h-1.1zM231.9 418.8h1.1v1.1h-1.1zM228.2 411.9h1.1v1.1h-1.1zM206.9 411.4h1.1v1.1h-1.1zM230.1 418.3h1.1v1.1h-1.1zM207.1 409.0h1.1v1.1h-1.1zM220.1 402.4h1.1v1.1h-1.1zM203.7 415.0h1.1v1.1h-1.1zM207.1 427.8h1.1v1.1h-1.1zM206.9 423.7h1.1v1.1h-1.1zM232.2 411.1h1.1v1.1h-1.1zM225.5 413.2h1.1v1.1h-1.1zM239.1 409.5h1.1v1.1h-1.1zM238.3 411.0h1.1v1.1h-1.1zM218.0 411.2h1.1v1.1h-1.1zM226.8 427.6h1.1v1.1h-1.1zM228.2 407.3h1.1v1.1h-1.1zM239.6 423.0h1.1v1.1h-1.1zM221.2 426.6h1.1v1.1h-1.1zM206.1 419.3h1.1v1.1h-1.1zM231.9 424.5h1.1v1.1h-1.1zM227.6 403.8h1.1v1.1h-1.1zM220.2 409.8h1.1v1.1h-1.1zM225.1 413.5h1.1v1.1h-1.1zM219.3 417.6h1.1v1.1h-1.1zM224.4 427.8h1.1v1.1h-1.1zM212.7 410.0h1.1v1.1h-1.1zM209.0 405.3h1.1v1.1h-1.1zM234.3 428.7h1.1v1.1h-1.1zM206.8 412.4h1.1v1.1h-1.1zM236.4 427.1h1.1v1.1h-1.1zM213.5 403.9h1.1v1.1h-1.1zM211.5 416.6h1.1v1.1h-1.1zM202.6 409.4h1.1v1.1h-1.1zM220.0 421.8h1.1v1.1h-1.1zM207.9 405.6h1.1v1.1h-1.1zM214.6 404.6h1.1v1.1h-1.1zM206.6 405.0h1.1v1.1h-1.1zM232.4 427.5h1.1v1.1h-1.1zM203.6 425.3h1.1v1.1h-1.1zM234.1 420.9h1.1v1.1h-1.1zM213.4 425.8h1.1v1.1h-1.1zM205.1 403.4h1.1v1.1h-1.1zM238.3 408.4h1.1v1.1h-1.1zM236.8 423.9h1.1v1.1h-1.1zM203.8 404.7h1.1v1.1h-1.1zM226.6 406.2h1.1v1.1h-1.1zM227.3 421.5h1.1v1.1h-1.1zM210.8 415.8h1.1v1.1h-1.1zM210.1 427.3h1.1v1.1h-1.1zM226.0 422.0h1.1v1.1h-1.1zM225.6 403.8h1.1v1.1h-1.1zM235.7 424.6h1.1v1.1h-1.1zM221.6 419.1h1.1v1.1h-1.1zM237.5 413.1h1.1v1.1h-1.1zM252.6 414.3h1.1v1.1h-1.1zM254.3 413.5h1.1v1.1h-1.1zM286.6 411.3h1.1v1.1h-1.1zM284.6 420.3h1.1v1.1h-1.1zM271.1 403.7h1.1v1.1h-1.1zM246.6 418.3h1.1v1.1h-1.1zM246.3 411.2h1.1v1.1h-1.1zM252.7 427.3h1.1v1.1h-1.1zM236.4 415.1h1.1v1.1h-1.1zM262.3 416.1h1.1v1.1h-1.1zM265.2 406.1h1.1v1.1h-1.1zM254.0 406.1h1.1v1.1h-1.1zM249.6 413.9h1.1v1.1h-1.1zM249.7 418.5h1.1v1.1h-1.1zM229.2 408.5h1.1v1.1h-1.1zM286.2 404.6h1.1v1.1h-1.1zM261.8 403.0h1.1v1.1h-1.1zM244.6 415.2h1.1v1.1h-1.1zM274.6 409.4h1.1v1.1h-1.1zM249.5 418.1h1.1v1.1h-1.1zM281.3 414.0h1.1v1.1h-1.1zM230.3 403.1h1.1v1.1h-1.1zM251.5 409.9h1.1v1.1h-1.1zM280.6 406.9h1.1v1.1h-1.1zM266.5 415.0h1.1v1.1h-1.1zM275.0 416.0h1.1v1.1h-1.1zM267.3 416.8h1.1v1.1h-1.1zM251.7 412.9h1.1v1.1h-1.1zM291.9 412.1h1.1v1.1h-1.1zM269.3 405.8h1.1v1.1h-1.1zM241.8 409.1h1.1v1.1h-1.1zM256.2 413.9h1.1v1.1h-1.1zM292.1 399.6h1.1v1.1h-1.1zM301.3 416.3h1.1v1.1h-1.1zM248.4 407.5h1.1v1.1h-1.1zM270.4 402.6h1.1v1.1h-1.1zM280.0 404.0h1.1v1.1h-1.1zM306.0 401.4h1.1v1.1h-1.1zM265.5 426.2h1.1v1.1h-1.1zM265.9 417.2h1.1v1.1h-1.1zM266.3 410.4h1.1v1.1h-1.1zM259.4 413.8h1.1v1.1h-1.1zM270.0 408.1h1.1v1.1h-1.1zM292.3 417.7h1.1v1.1h-1.1zM255.9 410.7h1.1v1.1h-1.1zM273.9 422.1h1.1v1.1h-1.1zM286.9 400.9h1.1v1.1h-1.1zM283.4 424.6h1.1v1.1h-1.1zM257.7 414.0h1.1v1.1h-1.1zM270.3 402.6h1.1v1.1h-1.1zM281.9 424.5h1.1v1.1h-1.1zM264.7 410.6h1.1v1.1h-1.1zM279.1 408.4h1.1v1.1h-1.1zM298.2 412.3h1.1v1.1h-1.1zM256.6 413.2h1.1v1.1h-1.1zM261.3 418.3h1.1v1.1h-1.1zM268.7 411.3h1.1v1.1h-1.1zM239.0 415.7h1.1v1.1h-1.1zM255.7 402.7h1.1v1.1h-1.1zM272.5 412.6h1.1v1.1h-1.1zM263.8 404.2h1.1v1.1h-1.1zM235.2 419.7h1.1v1.1h-1.1zM281.7 421.7h1.1v1.1h-1.1zM234.5 419.2h1.1v1.1h-1.1zM249.5 412.2h1.1v1.1h-1.1zM246.4 404.2h1.1v1.1h-1.1zM270.4 418.1h1.1v1.1h-1.1zM273.9 416.3h1.1v1.1h-1.1zM273.4 416.9h1.1v1.1h-1.1zM292.1 405.2h1.1v1.1h-1.1zM253.6 410.9h1.1v1.1h-1.1zM258.7 425.1h1.1v1.1h-1.1zM263.2 411.2h1.1v1.1h-1.1zM249.5 403.9h1.1v1.1h-1.1zM303.6 419.2h1.1v1.1h-1.1zM250.3 415.3h1.1v1.1h-1.1zM272.9 419.1h1.1v1.1h-1.1zM258.6 404.3h1.1v1.1h-1.1zM250.0 412.9h1.1v1.1h-1.1zM243.9 413.4h1.1v1.1h-1.1zM256.9 403.1h1.1v1.1h-1.1zM265.5 416.5h1.1v1.1h-1.1zM259.7 403.0h1.1v1.1h-1.1zM280.4 413.5h1.1v1.1h-1.1zM241.1 413.9h1.1v1.1h-1.1zM285.6 410.4h1.1v1.1h-1.1zM241.8 410.8h1.1v1.1h-1.1zM262.0 412.5h1.1v1.1h-1.1zM263.3 419.1h1.1v1.1h-1.1zM251.1 406.2h1.1v1.1h-1.1zM274.0 419.5h1.1v1.1h-1.1zM236.3 405.9h1.1v1.1h-1.1zM275.5 411.0h1.1v1.1h-1.1zM257.9 399.1h1.1v1.1h-1.1zM240.9 416.4h1.1v1.1h-1.1zM275.7 408.9h1.1v1.1h-1.1zM275.5 422.3h1.1v1.1h-1.1zM279.0 403.1h1.1v1.1h-1.1zM257.6 405.3h1.1v1.1h-1.1zM260.8 412.8h1.1v1.1h-1.1zM265.8 413.9h1.1v1.1h-1.1zM267.8 403.3h1.1v1.1h-1.1zM288.8 406.8h1.1v1.1h-1.1zM275.5 421.1h1.1v1.1h-1.1zM262.6 409.1h1.1v1.1h-1.1zM267.6 415.8h1.1v1.1h-1.1zM250.5 406.1h1.1v1.1h-1.1zM276.6 407.5h1.1v1.1h-1.1zM269.2 403.9h1.1v1.1h-1.1zM275.7 399.5h1.1v1.1h-1.1zM258.8 405.7h1.1v1.1h-1.1zM279.7 424.8h1.1v1.1h-1.1zM302.4 413.6h1.1v1.1h-1.1zM243.7 413.8h1.1v1.1h-1.1zM284.2 418.9h1.1v1.1h-1.1zM263.2 415.6h1.1v1.1h-1.1zM263.1 402.1h1.1v1.1h-1.1zM249.7 408.0h1.1v1.1h-1.1zM266.7 426.1h1.1v1.1h-1.1zM264.6 419.8h1.1v1.1h-1.1zM263.3 417.5h1.1v1.1h-1.1zM263.7 413.5h1.1v1.1h-1.1zM269.7 408.0h1.1v1.1h-1.1zM249.3 403.4h1.1v1.1h-1.1zM300.5 409.0h1.1v1.1h-1.1zM300.9 401.0h1.1v1.1h-1.1zM288.3 414.8h1.1v1.1h-1.1zM287.8 426.5h1.1v1.1h-1.1zM234.3 409.2h1.1v1.1h-1.1zM294.9 408.4h1.1v1.1h-1.1zM248.4 423.6h1.1v1.1h-1.1zM270.2 409.8h1.1v1.1h-1.1zM243.0 415.0h1.1v1.1h-1.1zM261.9 417.0h1.1v1.1h-1.1zM225.2 422.4h1.1v1.1h-1.1zM265.4 398.7h1.1v1.1h-1.1zM290.6 414.1h1.1v1.1h-1.1zM249.5 410.4h1.1v1.1h-1.1zM257.4 412.1h1.1v1.1h-1.1zM278.3 409.2h1.1v1.1h-1.1zM282.8 397.6h1.1v1.1h-1.1zM243.5 401.9h1.1v1.1h-1.1zM232.5 420.1h1.1v1.1h-1.1zM287.3 418.7h1.1v1.1h-1.1zM254.0 411.3h1.1v1.1h-1.1zM252.5 415.6h1.1v1.1h-1.1zM268.4 414.3h1.1v1.1h-1.1zM255.9 418.1h1.1v1.1h-1.1zM247.4 408.8h1.1v1.1h-1.1zM239.4 416.3h1.1v1.1h-1.1zM299.4 402.3h1.1v1.1h-1.1zM260.3 417.3h1.1v1.1h-1.1zM261.6 410.6h1.1v1.1h-1.1zM247.0 412.1h1.1v1.1h-1.1zM227.7 422.4h1.1v1.1h-1.1zM247.6 417.1h1.1v1.1h-1.1zM263.3 415.2h1.1v1.1h-1.1zM267.6 403.6h1.1v1.1h-1.1zM272.3 415.2h1.1v1.1h-1.1zM260.5 411.7h1.1v1.1h-1.1zM256.4 416.3h1.1v1.1h-1.1zM270.9 401.9h1.1v1.1h-1.1zM268.5 412.9h1.1v1.1h-1.1zM261.1 422.3h1.1v1.1h-1.1zM248.3 412.6h1.1v1.1h-1.1zM281.8 411.3h1.1v1.1h-1.1zM250.8 414.2h1.1v1.1h-1.1zM281.5 412.1h1.1v1.1h-1.1zM283.5 423.0h1.1v1.1h-1.1zM271.5 420.6h1.1v1.1h-1.1zM233.3 413.9h1.1v1.1h-1.1zM275.0 408.5h1.1v1.1h-1.1zM285.7 410.9h1.1v1.1h-1.1zM225.4 408.9h1.1v1.1h-1.1zM281.7 415.0h1.1v1.1h-1.1zM258.0 412.8h1.1v1.1h-1.1zM266.4 421.5h1.1v1.1h-1.1zM283.2 398.5h1.1v1.1h-1.1zM276.7 410.7h1.1v1.1h-1.1zM274.6 408.5h1.1v1.1h-1.1zM276.2 410.3h1.1v1.1h-1.1zM251.1 411.8h1.1v1.1h-1.1zM264.6 412.1h1.1v1.1h-1.1zM280.6 409.9h1.1v1.1h-1.1zM259.6 419.9h1.1v1.1h-1.1zM234.5 400.6h1.1v1.1h-1.1zM261.0 404.6h1.1v1.1h-1.1zM272.1 411.5h1.1v1.1h-1.1zM274.5 411.6h1.1v1.1h-1.1zM293.7 414.8h1.1v1.1h-1.1zM261.9 413.3h1.1v1.1h-1.1zM272.1 401.1h1.1v1.1h-1.1zM253.3 409.8h1.1v1.1h-1.1zM277.5 412.7h1.1v1.1h-1.1zM265.7 407.7h1.1v1.1h-1.1zM250.2 420.4h1.1v1.1h-1.1zM236.9 415.3h1.1v1.1h-1.1zM251.5 414.3h1.1v1.1h-1.1zM245.7 429.3h1.1v1.1h-1.1zM284.7 409.0h1.1v1.1h-1.1zM284.0 402.2h1.1v1.1h-1.1zM236.5 407.9h1.1v1.1h-1.1zM245.2 429.9h1.1v1.1h-1.1zM245.9 418.2h1.1v1.1h-1.1zM296.3 413.3h1.1v1.1h-1.1zM261.8 409.7h1.1v1.1h-1.1zM271.4 413.5h1.1v1.1h-1.1zM301.1 419.0h1.1v1.1h-1.1zM244.1 428.9h1.1v1.1h-1.1zM244.0 421.2h1.1v1.1h-1.1zM256.1 415.9h1.1v1.1h-1.1zM290.7 405.6h1.1v1.1h-1.1zM257.6 411.7h1.1v1.1h-1.1zM253.6 415.2h1.1v1.1h-1.1zM263.3 397.4h1.1v1.1h-1.1zM245.2 421.8h1.1v1.1h-1.1zM273.4 419.5h1.1v1.1h-1.1zM248.8 410.9h1.1v1.1h-1.1zM247.6 403.2h1.1v1.1h-1.1zM276.7 416.2h1.1v1.1h-1.1zM263.2 417.7h1.1v1.1h-1.1zM291.8 410.8h1.1v1.1h-1.1zM268.5 419.0h1.1v1.1h-1.1zM293.1 411.7h1.1v1.1h-1.1zM253.6 401.7h1.1v1.1h-1.1zM271.2 415.7h1.1v1.1h-1.1zM281.4 416.0h1.1v1.1h-1.1zM263.5 405.4h1.1v1.1h-1.1zM245.5 415.0h1.1v1.1h-1.1zM264.4 410.0h1.1v1.1h-1.1zM247.6 422.0h1.1v1.1h-1.1zM260.2 419.8h1.1v1.1h-1.1zM268.0 413.5h1.1v1.1h-1.1zM268.2 411.4h1.1v1.1h-1.1zM246.5 416.4h1.1v1.1h-1.1zM268.9 403.3h1.1v1.1h-1.1zM270.6 412.3h1.1v1.1h-1.1zM300.4 414.6h1.1v1.1h-1.1zM288.5 406.9h1.1v1.1h-1.1zM244.9 413.9h1.1v1.1h-1.1zM279.1 420.9h1.1v1.1h-1.1zM290.0 415.5h1.1v1.1h-1.1zM273.3 414.1h1.1v1.1h-1.1zM272.5 418.1h1.1v1.1h-1.1zM292.5 417.6h1.1v1.1h-1.1zM293.9 413.9h1.1v1.1h-1.1zM250.0 407.5h1.1v1.1h-1.1zM267.2 415.0h1.1v1.1h-1.1zM244.6 415.8h1.1v1.1h-1.1zM262.9 419.3h1.1v1.1h-1.1zM244.2 421.0h1.1v1.1h-1.1zM247.1 405.7h1.1v1.1h-1.1zM279.4 416.0h1.1v1.1h-1.1zM246.7 414.8h1.1v1.1h-1.1zM273.1 417.2h1.1v1.1h-1.1zM262.2 405.4h1.1v1.1h-1.1zM260.3 416.3h1.1v1.1h-1.1zM285.9 412.8h1.1v1.1h-1.1zM263.9 420.2h1.1v1.1h-1.1zM282.5 410.5h1.1v1.1h-1.1zM259.3 414.2h1.1v1.1h-1.1zM288.4 412.8h1.1v1.1h-1.1zM262.0 412.2h1.1v1.1h-1.1zM266.3 405.7h1.1v1.1h-1.1zM259.8 416.5h1.1v1.1h-1.1zM252.6 412.5h1.1v1.1h-1.1zM242.2 418.1h1.1v1.1h-1.1zM237.9 415.1h1.1v1.1h-1.1zM260.9 414.9h1.1v1.1h-1.1zM255.2 420.1h1.1v1.1h-1.1zM268.3 429.9h1.1v1.1h-1.1zM246.3 401.7h1.1v1.1h-1.1zM269.1 401.6h1.1v1.1h-1.1zM297.7 410.6h1.1v1.1h-1.1zM248.3 410.5h1.1v1.1h-1.1zM249.6 413.1h1.1v1.1h-1.1zM269.3 401.0h1.1v1.1h-1.1zM262.0 414.5h1.1v1.1h-1.1zM260.9 395.6h1.1v1.1h-1.1zM263.1 406.5h1.1v1.1h-1.1zM251.5 416.5h1.1v1.1h-1.1zM274.4 419.0h1.1v1.1h-1.1zM274.8 408.3h1.1v1.1h-1.1zM282.2 414.1h1.1v1.1h-1.1zM290.9 409.2h1.1v1.1h-1.1zM261.7 409.1h1.1v1.1h-1.1zM267.4 413.9h1.1v1.1h-1.1zM274.5 418.6h1.1v1.1h-1.1zM272.7 415.0h1.1v1.1h-1.1zM263.5 404.9h1.1v1.1h-1.1zM260.4 415.9h1.1v1.1h-1.1zM238.9 423.6h1.1v1.1h-1.1zM273.0 414.9h1.1v1.1h-1.1zM284.4 397.8h1.1v1.1h-1.1zM256.6 424.9h1.1v1.1h-1.1zM287.5 407.3h1.1v1.1h-1.1zM293.5 409.5h1.1v1.1h-1.1zM270.1 418.6h1.1v1.1h-1.1zM293.6 411.1h1.1v1.1h-1.1zM289.7 411.6h1.1v1.1h-1.1zM255.9 408.0h1.1v1.1h-1.1zM283.0 415.2h1.1v1.1h-1.1zM275.0 404.2h1.1v1.1h-1.1zM265.6 418.5h1.1v1.1h-1.1zM271.2 415.6h1.1v1.1h-1.1zM272.4 426.6h1.1v1.1h-1.1zM251.6 408.6h1.1v1.1h-1.1zM280.6 411.5h1.1v1.1h-1.1zM239.5 405.9h1.1v1.1h-1.1zM232.3 405.2h1.1v1.1h-1.1zM260.0 413.4h1.1v1.1h-1.1zM267.3 419.3h1.1v1.1h-1.1zM263.3 412.6h1.1v1.1h-1.1zM252.1 396.9h1.1v1.1h-1.1zM282.0 411.1h1.1v1.1h-1.1zM271.3 423.2h1.1v1.1h-1.1zM256.8 420.5h1.1v1.1h-1.1zM292.9 403.7h1.1v1.1h-1.1zM267.4 420.9h1.1v1.1h-1.1zM237.6 418.9h1.1v1.1h-1.1zM246.7 413.1h1.1v1.1h-1.1zM238.4 412.5h1.1v1.1h-1.1zM264.6 419.3h1.1v1.1h-1.1zM268.7 419.5h1.1v1.1h-1.1zM258.4 419.3h1.1v1.1h-1.1zM298.5 421.5h1.1v1.1h-1.1zM268.9 419.6h1.1v1.1h-1.1zM255.2 406.6h1.1v1.1h-1.1zM262.5 413.9h1.1v1.1h-1.1zM228.5 419.0h1.1v1.1h-1.1zM298.9 404.9h1.1v1.1h-1.1zM261.4 424.1h1.1v1.1h-1.1zM239.3 413.5h1.1v1.1h-1.1zM248.2 402.5h1.1v1.1h-1.1zM288.5 403.0h1.1v1.1h-1.1zM247.1 411.6h1.1v1.1h-1.1zM285.6 418.7h1.1v1.1h-1.1zM264.5 420.8h1.1v1.1h-1.1zM267.2 402.0h1.1v1.1h-1.1zM263.1 396.5h1.1v1.1h-1.1zM260.5 407.1h1.1v1.1h-1.1zM292.2 418.7h1.1v1.1h-1.1zM281.6 423.1h1.1v1.1h-1.1zM255.2 416.5h1.1v1.1h-1.1zM290.3 420.3h1.1v1.1h-1.1zM287.7 422.2h1.1v1.1h-1.1zM267.0 406.4h1.1v1.1h-1.1zM265.7 396.7h1.1v1.1h-1.1zM267.1 423.1h1.1v1.1h-1.1zM262.2 405.1h1.1v1.1h-1.1zM234.7 430.5h1.1v1.1h-1.1zM299.0 420.3h1.1v1.1h-1.1zM283.4 408.2h1.1v1.1h-1.1zM251.9 419.4h1.1v1.1h-1.1zM273.8 416.4h1.1v1.1h-1.1zM280.7 410.3h1.1v1.1h-1.1zM261.1 399.6h1.1v1.1h-1.1zM264.0 422.6h1.1v1.1h-1.1zM257.1 416.8h1.1v1.1h-1.1zM293.5 406.1h1.1v1.1h-1.1zM254.1 418.3h1.1v1.1h-1.1zM266.1 412.6h1.1v1.1h-1.1zM299.2 416.1h1.1v1.1h-1.1zM251.6 416.2h1.1v1.1h-1.1zM257.6 405.9h1.1v1.1h-1.1zM266.4 416.7h1.1v1.1h-1.1zM261.1 419.1h1.1v1.1h-1.1zM262.1 413.6h1.1v1.1h-1.1zM293.8 419.2h1.1v1.1h-1.1zM287.5 411.6h1.1v1.1h-1.1zM249.5 399.2h1.1v1.1h-1.1zM272.5 421.5h1.1v1.1h-1.1zM258.9 416.5h1.1v1.1h-1.1zM246.3 412.5h1.1v1.1h-1.1zM264.8 402.4h1.1v1.1h-1.1zM261.4 426.3h1.1v1.1h-1.1zM286.4 403.6h1.1v1.1h-1.1zM252.0 402.7h1.1v1.1h-1.1zM267.4 420.7h1.1v1.1h-1.1zM277.6 410.1h1.1v1.1h-1.1zM258.1 409.3h1.1v1.1h-1.1zM253.8 413.1h1.1v1.1h-1.1zM270.7 407.7h1.1v1.1h-1.1zM274.3 429.5h1.1v1.1h-1.1zM258.7 409.9h1.1v1.1h-1.1zM278.4 419.4h1.1v1.1h-1.1zM283.4 418.5h1.1v1.1h-1.1zM286.1 410.3h1.1v1.1h-1.1zM270.1 422.8h1.1v1.1h-1.1zM252.9 411.5h1.1v1.1h-1.1zM270.0 413.7h1.1v1.1h-1.1zM260.5 402.5h1.1v1.1h-1.1zM254.3 408.9h1.1v1.1h-1.1zM280.8 408.8h1.1v1.1h-1.1zM268.5 421.5h1.1v1.1h-1.1zM293.9 400.7h1.1v1.1h-1.1zM250.7 419.6h1.1v1.1h-1.1zM248.9 424.1h1.1v1.1h-1.1zM264.3 420.1h1.1v1.1h-1.1zM262.4 394.4h1.1v1.1h-1.1zM249.0 405.2h1.1v1.1h-1.1zM277.1 390.7h1.1v1.1h-1.1zM258.3 402.7h1.1v1.1h-1.1zM269.4 395.1h1.1v1.1h-1.1zM278.3 395.0h1.1v1.1h-1.1zM250.7 402.5h1.1v1.1h-1.1zM264.1 405.8h1.1v1.1h-1.1zM247.4 392.9h1.1v1.1h-1.1zM275.8 392.8h1.1v1.1h-1.1zM286.0 397.2h1.1v1.1h-1.1zM250.6 397.2h1.1v1.1h-1.1zM277.2 401.9h1.1v1.1h-1.1zM295.5 387.5h1.1v1.1h-1.1zM239.3 403.6h1.1v1.1h-1.1zM274.3 394.2h1.1v1.1h-1.1zM281.1 393.3h1.1v1.1h-1.1zM259.6 400.2h1.1v1.1h-1.1zM269.3 393.7h1.1v1.1h-1.1zM249.4 399.8h1.1v1.1h-1.1zM262.5 399.5h1.1v1.1h-1.1zM241.9 395.4h1.1v1.1h-1.1zM234.7 399.0h1.1v1.1h-1.1zM248.0 398.0h1.1v1.1h-1.1zM286.3 382.2h1.1v1.1h-1.1zM218.0 361.0h1.1v1.1h-1.1zM225.0 378.0h1.1v1.1h-1.1zM230.5 381.0h1.1v1.1h-1.1zM265.0 368.7h1.1v1.1h-1.1zM276.7 380.0h1.1v1.1h-1.1zM271.0 385.0h1.1v1.1h-1.1zM266.0 388.0h1.1v1.1h-1.1zM287.5 391.0h1.1v1.1h-1.1zM296.0 396.0h1.1v1.1h-1.1z" fill="#0c0c0c" fill-opacity="1"/>
<line x1="385.95" y1="363.00" x2="385.95" y2="349.00" stroke="#0c0c0c" stroke-width="1.55" stroke-linecap="butt"/>
<line x1="379.70" y1="349.00" x2="392.20" y2="349.00" stroke="#0c0c0c" stroke-width="1.55" stroke-linecap="butt"/>
<rect x="374.32" y="363.93" width="23.25" height="62.08" fill="#fff" stroke="#0c0c0c" stroke-width="1.85"/>
<line x1="385.95" y1="426.00" x2="385.95" y2="429.38" stroke="#0c0c0c" stroke-width="1.55" stroke-linecap="butt"/>
<line x1="421.45" y1="412.00" x2="421.45" y2="405.00" stroke="#0c0c0c" stroke-width="1.55" stroke-linecap="butt"/>
<line x1="415.20" y1="405.00" x2="427.70" y2="405.00" stroke="#0c0c0c" stroke-width="1.55" stroke-linecap="butt"/>
<rect x="408.80" y="412.00" width="25.30" height="14.00" fill="#0c0c0c" stroke="none" stroke-width="0"/>
<line x1="421.45" y1="426.00" x2="421.45" y2="429.38" stroke="#0c0c0c" stroke-width="1.55" stroke-linecap="butt"/>
<line x1="457.50" y1="356.80" x2="457.50" y2="351.30" stroke="#0c0c0c" stroke-width="1.55" stroke-linecap="butt"/>
<line x1="451.25" y1="351.30" x2="463.75" y2="351.30" stroke="#0c0c0c" stroke-width="1.55" stroke-linecap="butt"/>
<rect x="445.73" y="357.73" width="23.55" height="68.27" fill="#fff" stroke="#0c0c0c" stroke-width="1.85"/>
<line x1="457.50" y1="426.00" x2="457.50" y2="429.38" stroke="#0c0c0c" stroke-width="1.55" stroke-linecap="butt"/>
<line x1="493.05" y1="358.30" x2="493.05" y2="320.80" stroke="#0c0c0c" stroke-width="1.55" stroke-linecap="butt"/>
<line x1="486.80" y1="320.80" x2="499.30" y2="320.80" stroke="#0c0c0c" stroke-width="1.55" stroke-linecap="butt"/>
<rect x="480.50" y="358.30" width="25.10" height="67.70" fill="#0c0c0c" stroke="none" stroke-width="0"/>
<line x1="493.05" y1="426.00" x2="493.05" y2="429.38" stroke="#0c0c0c" stroke-width="1.55" stroke-linecap="butt"/>
<line x1="367.70" y1="313.50" x2="367.70" y2="426.98" stroke="#0c0c0c" stroke-width="1.95" stroke-linecap="butt"/>
<line x1="366.72" y1="426.00" x2="511.00" y2="426.00" stroke="#0c0c0c" stroke-width="1.95" stroke-linecap="butt"/>
<line x1="363.82" y1="314.40" x2="367.70" y2="314.40" stroke="#0c0c0c" stroke-width="1.5" stroke-linecap="butt"/>
<text x="363.22" y="317.21" font-size="7.8" text-anchor="end" font-weight="normal" fill="#0c0c0c" stroke="#0c0c0c" stroke-width="0.05">20</text>
<line x1="363.82" y1="342.20" x2="367.70" y2="342.20" stroke="#0c0c0c" stroke-width="1.5" stroke-linecap="butt"/>
<text x="363.22" y="345.01" font-size="7.8" text-anchor="end" font-weight="normal" fill="#0c0c0c" stroke="#0c0c0c" stroke-width="0.05">15</text>
<line x1="363.82" y1="370.10" x2="367.70" y2="370.10" stroke="#0c0c0c" stroke-width="1.5" stroke-linecap="butt"/>
<text x="363.22" y="372.91" font-size="7.8" text-anchor="end" font-weight="normal" fill="#0c0c0c" stroke="#0c0c0c" stroke-width="0.05">10</text>
<line x1="363.82" y1="398.10" x2="367.70" y2="398.10" stroke="#0c0c0c" stroke-width="1.5" stroke-linecap="butt"/>
<text x="363.22" y="400.91" font-size="7.8" text-anchor="end" font-weight="normal" fill="#0c0c0c" stroke="#0c0c0c" stroke-width="0.05">5</text>
<line x1="363.82" y1="426.00" x2="367.70" y2="426.00" stroke="#0c0c0c" stroke-width="1.5" stroke-linecap="butt"/>
<text x="363.22" y="428.81" font-size="7.8" text-anchor="end" font-weight="normal" fill="#0c0c0c" stroke="#0c0c0c" stroke-width="0.05">0</text>
<text x="343.80" y="367.30" font-size="9.8" text-anchor="middle" font-weight="normal" fill="#0c0c0c" stroke="#0c0c0c" stroke-width="0.05" transform="rotate(-90 343.80 367.30)" textLength="108.20" lengthAdjust="spacingAndGlyphs">Cells per femur (x1,000)</text>
<polyline points="385.20,340.40 385.20,336.70 422.50,336.70 422.50,340.40" fill="none" stroke="#0c0c0c" stroke-width="1.85"/>
<text x="403.85" y="334.96" font-size="10.5" text-anchor="middle" font-weight="normal" fill="#0c0c0c" stroke="#0c0c0c" stroke-width="0.2">*</text>
<text x="388.50" y="441.30" font-size="11.2" text-anchor="middle" font-weight="normal" fill="#0c0c0c" stroke="#0c0c0c" stroke-width="0.2" textLength="28.00" lengthAdjust="spacingAndGlyphs">Flk2+</text>
<text x="423.90" y="441.30" font-size="11.2" text-anchor="middle" font-weight="normal" fill="#0c0c0c" stroke="#0c0c0c" stroke-width="0.2" textLength="27.80" lengthAdjust="spacingAndGlyphs">Flk2+</text>
<text x="459.40" y="440.30" font-size="11.2" text-anchor="middle" font-weight="normal" fill="#0c0c0c" stroke="#0c0c0c" stroke-width="0.2" textLength="24.20" lengthAdjust="spacingAndGlyphs">Flk2-</text>
<text x="495.10" y="441.40" font-size="11.2" text-anchor="middle" font-weight="normal" fill="#0c0c0c" stroke="#0c0c0c" stroke-width="0.2" textLength="24.60" lengthAdjust="spacingAndGlyphs">Flk2-</text>
<text x="385.90" y="453.80" font-size="11.2" text-anchor="middle" font-weight="normal" fill="#0c0c0c" stroke="#0c0c0c" stroke-width="0.2" textLength="16.80" lengthAdjust="spacingAndGlyphs">WT</text>
<text x="423.35" y="453.80" font-size="11.2" text-anchor="middle" font-weight="normal" fill="#0c0c0c" stroke="#0c0c0c" stroke-width="0.2" textLength="36.70" lengthAdjust="spacingAndGlyphs">NHD13</text>
<text x="457.65" y="453.80" font-size="11.2" text-anchor="middle" font-weight="normal" fill="#0c0c0c" stroke="#0c0c0c" stroke-width="0.2" textLength="17.30" lengthAdjust="spacingAndGlyphs">WT</text>
<text x="492.55" y="453.80" font-size="11.2" text-anchor="middle" font-weight="normal" fill="#0c0c0c" stroke="#0c0c0c" stroke-width="0.2" textLength="36.90" lengthAdjust="spacingAndGlyphs">NHD13</text>
<line x1="58.45" y1="512.80" x2="58.45" y2="504.40" stroke="#0c0c0c" stroke-width="1.55" stroke-linecap="butt"/>
<line x1="52.20" y1="504.40" x2="64.70" y2="504.40" stroke="#0c0c0c" stroke-width="1.55" stroke-linecap="butt"/>
<rect x="47.22" y="513.72" width="22.45" height="83.38" fill="#fff" stroke="#0c0c0c" stroke-width="1.85"/>
<line x1="58.45" y1="597.10" x2="58.45" y2="600.48" stroke="#0c0c0c" stroke-width="1.55" stroke-linecap="butt"/>
<line x1="92.05" y1="575.40" x2="92.05" y2="570.50" stroke="#0c0c0c" stroke-width="1.55" stroke-linecap="butt"/>
<line x1="86.05" y1="570.50" x2="98.05" y2="570.50" stroke="#0c0c0c" stroke-width="1.55" stroke-linecap="butt"/>
<rect x="80.10" y="575.40" width="23.90" height="21.70" fill="#0c0c0c" stroke="none" stroke-width="0"/>
<line x1="92.05" y1="597.10" x2="92.05" y2="600.48" stroke="#0c0c0c" stroke-width="1.55" stroke-linecap="butt"/>
<line x1="41.40" y1="495.40" x2="41.40" y2="598.08" stroke="#0c0c0c" stroke-width="1.95" stroke-linecap="butt"/>
<line x1="40.42" y1="597.10" x2="108.10" y2="597.10" stroke="#0c0c0c" stroke-width="1.95" stroke-linecap="butt"/>
<line x1="37.52" y1="496.40" x2="41.40" y2="496.40" stroke="#0c0c0c" stroke-width="1.5" stroke-linecap="butt"/>
<text x="36.12" y="499.10" font-size="7.5" text-anchor="end" font-weight="normal" fill="#0c0c0c" stroke="#0c0c0c" stroke-width="0.05">100</text>
<line x1="37.52" y1="516.60" x2="41.40" y2="516.60" stroke="#0c0c0c" stroke-width="1.5" stroke-linecap="butt"/>
<text x="36.12" y="519.30" font-size="7.5" text-anchor="end" font-weight="normal" fill="#0c0c0c" stroke="#0c0c0c" stroke-width="0.05">80</text>
<line x1="37.52" y1="536.70" x2="41.40" y2="536.70" stroke="#0c0c0c" stroke-width="1.5" stroke-linecap="butt"/>
<text x="36.12" y="539.40" font-size="7.5" text-anchor="end" font-weight="normal" fill="#0c0c0c" stroke="#0c0c0c" stroke-width="0.05">60</text>
<line x1="37.52" y1="556.80" x2="41.40" y2="556.80" stroke="#0c0c0c" stroke-width="1.5" stroke-linecap="butt"/>
<text x="36.12" y="559.50" font-size="7.5" text-anchor="end" font-weight="normal" fill="#0c0c0c" stroke="#0c0c0c" stroke-width="0.05">40</text>
<line x1="37.52" y1="576.80" x2="41.40" y2="576.80" stroke="#0c0c0c" stroke-width="1.5" stroke-linecap="butt"/>
<text x="36.12" y="579.50" font-size="7.5" text-anchor="end" font-weight="normal" fill="#0c0c0c" stroke="#0c0c0c" stroke-width="0.05">20</text>
<line x1="37.52" y1="597.10" x2="41.40" y2="597.10" stroke="#0c0c0c" stroke-width="1.5" stroke-linecap="butt"/>
<text x="36.12" y="599.80" font-size="7.5" text-anchor="end" font-weight="normal" fill="#0c0c0c" stroke="#0c0c0c" stroke-width="0.05">0</text>
<text x="21.70" y="545.80" font-size="9.4" text-anchor="middle" font-weight="normal" fill="#0c0c0c" stroke="#0c0c0c" stroke-width="0.05" transform="rotate(-90 21.70 545.80)" textLength="103.30" lengthAdjust="spacingAndGlyphs">CFU-GM / 50000 BMNC</text>
<text x="58.85" y="610.80" font-size="11.3" text-anchor="middle" font-weight="normal" fill="#0c0c0c" stroke="#0c0c0c" stroke-width="0.2" textLength="16.90" lengthAdjust="spacingAndGlyphs">WT</text>
<text x="92.70" y="610.80" font-size="11.3" text-anchor="middle" font-weight="normal" fill="#0c0c0c" stroke="#0c0c0c" stroke-width="0.2" textLength="36.60" lengthAdjust="spacingAndGlyphs">NHD13</text>
<polyline points="58.30,491.80 58.30,488.20 92.80,488.20 92.80,491.80" fill="none" stroke="#0c0c0c" stroke-width="1.85"/>
<text x="75.55" y="489.24" font-size="12" text-anchor="middle" font-weight="normal" fill="#0c0c0c" stroke="#0c0c0c" stroke-width="0.2">**</text>
<text x="58.40" y="502.10" font-size="10.3" text-anchor="middle" font-weight="normal" fill="#0c0c0c" stroke="#0c0c0c" stroke-width="0.05" textLength="22.80" lengthAdjust="spacingAndGlyphs">7777</text>
<text x="92.20" y="567.70" font-size="10.3" text-anchor="middle" font-weight="normal" fill="#0c0c0c" stroke="#0c0c0c" stroke-width="0.05" textLength="17.30" lengthAdjust="spacingAndGlyphs">666</text>
<line x1="162.80" y1="512.20" x2="162.80" y2="503.70" stroke="#0c0c0c" stroke-width="1.55" stroke-linecap="butt"/>
<line x1="156.55" y1="503.70" x2="169.05" y2="503.70" stroke="#0c0c0c" stroke-width="1.55" stroke-linecap="butt"/>
<rect x="151.53" y="513.12" width="22.55" height="83.97" fill="#fff" stroke="#0c0c0c" stroke-width="1.85"/>
<line x1="162.80" y1="597.10" x2="162.80" y2="600.48" stroke="#0c0c0c" stroke-width="1.55" stroke-linecap="butt"/>
<line x1="196.15" y1="572.00" x2="196.15" y2="559.50" stroke="#0c0c0c" stroke-width="1.55" stroke-linecap="butt"/>
<line x1="189.90" y1="559.50" x2="202.40" y2="559.50" stroke="#0c0c0c" stroke-width="1.55" stroke-linecap="butt"/>
<rect x="184.00" y="572.00" width="24.30" height="25.10" fill="#0c0c0c" stroke="none" stroke-width="0"/>
<line x1="196.15" y1="597.10" x2="196.15" y2="600.48" stroke="#0c0c0c" stroke-width="1.55" stroke-linecap="butt"/>
<line x1="146.10" y1="495.20" x2="146.10" y2="598.08" stroke="#0c0c0c" stroke-width="1.95" stroke-linecap="butt"/>
<line x1="145.12" y1="597.10" x2="210.00" y2="597.10" stroke="#0c0c0c" stroke-width="1.95" stroke-linecap="butt"/>
<line x1="142.22" y1="495.90" x2="146.10" y2="495.90" stroke="#0c0c0c" stroke-width="1.5" stroke-linecap="butt"/>
<text x="140.82" y="498.60" font-size="7.5" text-anchor="end" font-weight="normal" fill="#0c0c0c" stroke="#0c0c0c" stroke-width="0.05">40</text>
<line x1="142.22" y1="521.10" x2="146.10" y2="521.10" stroke="#0c0c0c" stroke-width="1.5" stroke-linecap="butt"/>
<text x="140.82" y="523.80" font-size="7.5" text-anchor="end" font-weight="normal" fill="#0c0c0c" stroke="#0c0c0c" stroke-width="0.05">30</text>
<line x1="142.22" y1="546.40" x2="146.10" y2="546.40" stroke="#0c0c0c" stroke-width="1.5" stroke-linecap="butt"/>
<text x="140.82" y="549.10" font-size="7.5" text-anchor="end" font-weight="normal" fill="#0c0c0c" stroke="#0c0c0c" stroke-width="0.05">20</text>
<line x1="142.22" y1="571.60" x2="146.10" y2="571.60" stroke="#0c0c0c" stroke-width="1.5" stroke-linecap="butt"/>
<text x="140.82" y="574.30" font-size="7.5" text-anchor="end" font-weight="normal" fill="#0c0c0c" stroke="#0c0c0c" stroke-width="0.05">10</text>
<line x1="142.22" y1="597.10" x2="146.10" y2="597.10" stroke="#0c0c0c" stroke-width="1.5" stroke-linecap="butt"/>
<text x="140.82" y="599.80" font-size="7.5" text-anchor="end" font-weight="normal" fill="#0c0c0c" stroke="#0c0c0c" stroke-width="0.05">0</text>
<text x="127.80" y="544.50" font-size="9.4" text-anchor="middle" font-weight="normal" fill="#0c0c0c" stroke="#0c0c0c" stroke-width="0.05" transform="rotate(-90 127.80 544.50)" textLength="98.60" lengthAdjust="spacingAndGlyphs">BFU-E / 100000 BMNC</text>
<text x="195.35" y="610.80" font-size="11.3" text-anchor="middle" font-weight="normal" fill="#0c0c0c" stroke="#0c0c0c" stroke-width="0.2" textLength="36.70" lengthAdjust="spacingAndGlyphs">NHD13</text>
<polyline points="162.40,498.00 162.40,494.20 196.60,494.20 196.60,498.00" fill="none" stroke="#0c0c0c" stroke-width="1.85"/>
<text x="179.50" y="492.86" font-size="10.5" text-anchor="middle" font-weight="normal" fill="#0c0c0c" stroke="#0c0c0c" stroke-width="0.2">*</text>
<text x="163.20" y="608.80" font-size="11.3" text-anchor="middle" font-weight="normal" fill="#0c0c0c" stroke="#0c0c0c" stroke-width="0.2" textLength="16.40" lengthAdjust="spacingAndGlyphs">WT</text>
<line x1="265.00" y1="542.00" x2="265.00" y2="519.10" stroke="#0c0c0c" stroke-width="1.55" stroke-linecap="butt"/>
<line x1="258.75" y1="519.10" x2="271.25" y2="519.10" stroke="#0c0c0c" stroke-width="1.55" stroke-linecap="butt"/>
<rect x="253.93" y="542.92" width="22.15" height="54.18" fill="#fff" stroke="#0c0c0c" stroke-width="1.85"/>
<line x1="265.00" y1="597.10" x2="265.00" y2="600.48" stroke="#0c0c0c" stroke-width="1.55" stroke-linecap="butt"/>
<line x1="298.35" y1="525.00" x2="298.35" y2="503.70" stroke="#0c0c0c" stroke-width="1.55" stroke-linecap="butt"/>
<line x1="292.10" y1="503.70" x2="304.60" y2="503.70" stroke="#0c0c0c" stroke-width="1.55" stroke-linecap="butt"/>
<rect x="286.30" y="525.00" width="24.10" height="72.10" fill="#0c0c0c" stroke="none" stroke-width="0"/>
<line x1="298.35" y1="597.10" x2="298.35" y2="600.48" stroke="#0c0c0c" stroke-width="1.55" stroke-linecap="butt"/>
<line x1="248.60" y1="495.80" x2="248.60" y2="598.08" stroke="#0c0c0c" stroke-width="1.95" stroke-linecap="butt"/>
<line x1="247.62" y1="597.10" x2="312.50" y2="597.10" stroke="#0c0c0c" stroke-width="1.95" stroke-linecap="butt"/>
<line x1="244.72" y1="496.50" x2="248.60" y2="496.50" stroke="#0c0c0c" stroke-width="1.5" stroke-linecap="butt"/>
<text x="243.32" y="499.20" font-size="7.5" text-anchor="end" font-weight="normal" fill="#0c0c0c" stroke="#0c0c0c" stroke-width="0.05">8</text>
<line x1="244.72" y1="521.60" x2="248.60" y2="521.60" stroke="#0c0c0c" stroke-width="1.5" stroke-linecap="butt"/>
<text x="243.32" y="524.30" font-size="7.5" text-anchor="end" font-weight="normal" fill="#0c0c0c" stroke="#0c0c0c" stroke-width="0.05">6</text>
<line x1="244.72" y1="546.70" x2="248.60" y2="546.70" stroke="#0c0c0c" stroke-width="1.5" stroke-linecap="butt"/>
<text x="243.32" y="549.40" font-size="7.5" text-anchor="end" font-weight="normal" fill="#0c0c0c" stroke="#0c0c0c" stroke-width="0.05">4</text>
<line x1="244.72" y1="571.80" x2="248.60" y2="571.80" stroke="#0c0c0c" stroke-width="1.5" stroke-linecap="butt"/>
<text x="243.32" y="574.50" font-size="7.5" text-anchor="end" font-weight="normal" fill="#0c0c0c" stroke="#0c0c0c" stroke-width="0.05">2</text>
<line x1="244.72" y1="597.10" x2="248.60" y2="597.10" stroke="#0c0c0c" stroke-width="1.5" stroke-linecap="butt"/>
<text x="243.32" y="599.80" font-size="7.5" text-anchor="end" font-weight="normal" fill="#0c0c0c" stroke="#0c0c0c" stroke-width="0.05">0</text>
<text x="232.10" y="545.80" font-size="9.4" text-anchor="middle" font-weight="normal" fill="#0c0c0c" stroke="#0c0c0c" stroke-width="0.05" transform="rotate(-90 232.10 545.80)" textLength="106.00" lengthAdjust="spacingAndGlyphs">Meg-CFC / 50000 BMNC</text>
<text x="264.60" y="610.60" font-size="11.3" text-anchor="middle" font-weight="normal" fill="#0c0c0c" stroke="#0c0c0c" stroke-width="0.2" textLength="16.80" lengthAdjust="spacingAndGlyphs">WT</text>
<text x="298.75" y="610.60" font-size="11.3" text-anchor="middle" font-weight="normal" fill="#0c0c0c" stroke="#0c0c0c" stroke-width="0.2" textLength="36.50" lengthAdjust="spacingAndGlyphs">NHD13</text>
</g>
<defs><clipPath id="cw"><rect x="330.8" y="510.6" width="86.1" height="78.8"/></clipPath><clipPath id="cn"><rect x="422.8" y="510" width="87.1" height="79.4"/></clipPath><linearGradient id="gw" x1="0" y1="0" x2="1" y2="1"><stop offset="0" stop-color="#d9d9d9"/><stop offset="0.45" stop-color="#ececec"/><stop offset="1" stop-color="#e6e6e6"/></linearGradient><linearGradient id="gn" x1="0" y1="0" x2="1" y2="1"><stop offset="0" stop-color="#d4d4d4"/><stop offset="0.3" stop-color="#e8e8e8"/><stop offset="1" stop-color="#ebebeb"/></linearGradient><filter id="fb" x="-30%" y="-30%" width="160%" height="160%"><feGaussianBlur stdDeviation="0.85"/></filter><filter id="fb3" x="-30%" y="-30%" width="160%" height="160%"><feGaussianBlur stdDeviation="0.95"/></filter><filter id="fb2" x="-30%" y="-30%" width="160%" height="160%"><feGaussianBlur stdDeviation="1.8"/></filter></defs>
<rect x="330.8" y="510.6" width="86.1" height="78.8" fill="url(#gw)"/>
<g clip-path="url(#cw)">
<g filter="url(#fb2)">
<ellipse cx="363" cy="550" rx="13" ry="8" fill="#9a9a9a" fill-opacity="0.75" transform="rotate(10 363 550)"/>
<ellipse cx="399" cy="566" rx="9" ry="4" fill="#9a9a9a" fill-opacity="0.7" transform="rotate(40 399 566)"/>
<ellipse cx="375" cy="536" rx="8" ry="6" fill="#aaa" fill-opacity="0.5"/>
<ellipse cx="347" cy="548" rx="8" ry="12" fill="#aaa" fill-opacity="0.5"/>
<ellipse cx="345.2" cy="539.4" rx="7.8" ry="7.6000000000000005" fill="#858585" fill-opacity="0.55"/>
<ellipse cx="353.6" cy="537.3" rx="5.6" ry="5.6" fill="#858585" fill-opacity="0.55"/>
<ellipse cx="343.3" cy="548" rx="6.800000000000001" ry="6.800000000000001" fill="#858585" fill-opacity="0.55"/>
<ellipse cx="342.3" cy="554.8" rx="6.300000000000001" ry="6.300000000000001" fill="#858585" fill-opacity="0.55"/>
<ellipse cx="354.8" cy="551" rx="8.100000000000001" ry="8.100000000000001" fill="#858585" fill-opacity="0.55"/>
<ellipse cx="360.8" cy="556.7" rx="7.1" ry="7.1" fill="#858585" fill-opacity="0.55"/>
<ellipse cx="350" cy="564.6" rx="6.6" ry="6.4" fill="#858585" fill-opacity="0.55"/>
<ellipse cx="346.2" cy="568.4" rx="6.5" ry="6.0" fill="#858585" fill-opacity="0.55" transform="rotate(-30 346.2 568.4)"/>
<ellipse cx="370.6" cy="535.2" rx="6.800000000000001" ry="7.0" fill="#858585" fill-opacity="0.55"/>
<ellipse cx="376.5" cy="532.5" rx="6.6" ry="6.6" fill="#858585" fill-opacity="0.55"/>
<ellipse cx="373" cy="538.6" rx="6.2" ry="5.6" fill="#858585" fill-opacity="0.55"/>
<ellipse cx="388.3" cy="530.3" rx="7.2" ry="6.800000000000001" fill="#858585" fill-opacity="0.55"/>
<ellipse cx="394.5" cy="527.6" rx="7.4" ry="6.800000000000001" fill="#858585" fill-opacity="0.55"/>
<ellipse cx="400.3" cy="549.5" rx="7.0" ry="7.0" fill="#858585" fill-opacity="0.55"/>
<ellipse cx="405.8" cy="546.6" rx="7.0" ry="7.0" fill="#858585" fill-opacity="0.55"/>
<ellipse cx="377" cy="551" rx="6.6" ry="6.4" fill="#858585" fill-opacity="0.55"/>
<ellipse cx="379.4" cy="557.6" rx="6.5" ry="6.4" fill="#858585" fill-opacity="0.55"/>
<ellipse cx="384" cy="560.5" rx="5.4" ry="5.2" fill="#858585" fill-opacity="0.55"/>
<ellipse cx="392.5" cy="561.5" rx="6.4" ry="5.4" fill="#858585" fill-opacity="0.55" transform="rotate(30 392.5 561.5)"/>
<ellipse cx="398.5" cy="566" rx="6.6" ry="5.4" fill="#858585" fill-opacity="0.55" transform="rotate(40 398.5 566)"/>
<ellipse cx="404" cy="571.5" rx="5.800000000000001" ry="5.2" fill="#858585" fill-opacity="0.55" transform="rotate(50 404 571.5)"/>
<ellipse cx="379.5" cy="586" rx="6.800000000000001" ry="6.2" fill="#858585" fill-opacity="0.55"/>
<ellipse cx="385.5" cy="584.8" rx="7.0" ry="6.4" fill="#858585" fill-opacity="0.55"/>
</g><g filter="url(#fb)">
<ellipse cx="345.2" cy="539.4" rx="4.6" ry="4.4" fill="#1c1c1c" fill-opacity="1"/>
<ellipse cx="353.6" cy="537.3" rx="2.4" ry="2.4" fill="#3a3a3a" fill-opacity="1"/>
<ellipse cx="343.3" cy="548" rx="3.6" ry="3.6" fill="#262626" fill-opacity="1"/>
<ellipse cx="342.3" cy="554.8" rx="3.1" ry="3.1" fill="#303030" fill-opacity="1"/>
<ellipse cx="354.8" cy="551" rx="4.9" ry="4.9" fill="#0c0c0c" fill-opacity="1"/>
<ellipse cx="360.8" cy="556.7" rx="3.9" ry="3.9" fill="#101010" fill-opacity="1"/>
<ellipse cx="350" cy="564.6" rx="3.4" ry="3.2" fill="#262626" fill-opacity="1"/>
<ellipse cx="346.2" cy="568.4" rx="3.3" ry="2.8" fill="#2a2a2a" fill-opacity="1" transform="rotate(-30 346.2 568.4)"/>
<ellipse cx="370.6" cy="535.2" rx="3.6" ry="3.8" fill="#2a2a2a" fill-opacity="1"/>
<ellipse cx="376.5" cy="532.5" rx="3.4" ry="3.4" fill="#2c2c2c" fill-opacity="1"/>
<ellipse cx="373" cy="538.6" rx="3" ry="2.4" fill="#444" fill-opacity="1"/>
<ellipse cx="388.3" cy="530.3" rx="4" ry="3.6" fill="#1a1a1a" fill-opacity="1"/>
<ellipse cx="394.5" cy="527.6" rx="4.2" ry="3.6" fill="#1a1a1a" fill-opacity="1"/>
<ellipse cx="400.3" cy="549.5" rx="3.8" ry="3.8" fill="#1e1e1e" fill-opacity="1"/>
<ellipse cx="405.8" cy="546.6" rx="3.8" ry="3.8" fill="#1e1e1e" fill-opacity="1"/>
<ellipse cx="377" cy="551" rx="3.4" ry="3.2" fill="#4a4a4a" fill-opacity="1"/>
<ellipse cx="379.4" cy="557.6" rx="3.3" ry="3.2" fill="#444" fill-opacity="1"/>
<ellipse cx="384" cy="560.5" rx="2.2" ry="2" fill="#555" fill-opacity="1"/>
<ellipse cx="392.5" cy="561.5" rx="3.2" ry="2.2" fill="#6a6a6a" fill-opacity="1" transform="rotate(30 392.5 561.5)"/>
<ellipse cx="398.5" cy="566" rx="3.4" ry="2.2" fill="#707070" fill-opacity="1" transform="rotate(40 398.5 566)"/>
<ellipse cx="404" cy="571.5" rx="2.6" ry="2" fill="#666" fill-opacity="1" transform="rotate(50 404 571.5)"/>
<ellipse cx="379.5" cy="586" rx="3.6" ry="3" fill="#1a1a1a" fill-opacity="1"/>
<ellipse cx="385.5" cy="584.8" rx="3.8" ry="3.2" fill="#161616" fill-opacity="1"/>
<ellipse cx="408.8" cy="557.5" rx="0.9" ry="0.9" fill="#555" fill-opacity="1"/>
</g>
<path d="M361.7 553.0h0.7v0.7h-0.7zM369.5 549.4h0.7v0.7h-0.7zM361.3 551.2h0.7v0.7h-0.7zM367.7 555.9h0.7v0.7h-0.7zM361.7 546.3h0.7v0.7h-0.7zM368.5 553.4h0.7v0.7h-0.7zM371.4 555.4h0.7v0.7h-0.7zM365.6 550.4h0.7v0.7h-0.7zM375.0 550.3h0.7v0.7h-0.7zM363.3 546.9h0.7v0.7h-0.7zM366.3 552.1h0.7v0.7h-0.7zM364.8 551.3h0.7v0.7h-0.7zM367.0 554.3h0.7v0.7h-0.7zM369.8 552.3h0.7v0.7h-0.7zM359.7 554.3h0.7v0.7h-0.7zM361.0 550.8h0.7v0.7h-0.7zM360.8 551.5h0.7v0.7h-0.7zM363.3 552.4h0.7v0.7h-0.7zM377.6 551.3h0.7v0.7h-0.7zM368.9 546.2h0.7v0.7h-0.7zM365.0 554.1h0.7v0.7h-0.7zM365.7 553.0h0.7v0.7h-0.7zM366.4 547.5h0.7v0.7h-0.7zM368.0 548.3h0.7v0.7h-0.7zM372.6 549.5h0.7v0.7h-0.7zM368.4 551.5h0.7v0.7h-0.7zM369.3 549.1h0.7v0.7h-0.7zM369.5 551.0h0.7v0.7h-0.7zM370.4 554.0h0.7v0.7h-0.7zM366.5 548.4h0.7v0.7h-0.7zM368.7 553.4h0.7v0.7h-0.7zM371.7 550.0h0.7v0.7h-0.7zM367.9 553.5h0.7v0.7h-0.7zM367.0 552.3h0.7v0.7h-0.7zM366.6 549.1h0.7v0.7h-0.7zM362.4 549.9h0.7v0.7h-0.7zM368.1 557.5h0.7v0.7h-0.7zM369.4 555.7h0.7v0.7h-0.7zM368.7 554.3h0.7v0.7h-0.7zM366.6 554.6h0.7v0.7h-0.7zM372.2 550.2h0.7v0.7h-0.7zM363.6 559.3h0.7v0.7h-0.7zM366.9 555.4h0.7v0.7h-0.7zM369.1 547.0h0.7v0.7h-0.7zM374.5 558.6h0.7v0.7h-0.7z" fill="#333" fill-opacity="0.7"/>
</g>
<text x="335.60" y="587.50" font-size="10" text-anchor="start" font-weight="bold" fill="#0c0c0c" stroke="#0c0c0c" stroke-width="0.05" textLength="15.40" lengthAdjust="spacingAndGlyphs">WT</text>
<rect x="422.8" y="510" width="87.1" height="79.4" fill="url(#gn)"/>
<g clip-path="url(#cn)">
<g filter="url(#fb2)">
<ellipse cx="450" cy="570" rx="12" ry="9" fill="#f6f6f6" fill-opacity="0.6"/>
<ellipse cx="503" cy="530" rx="6" ry="8" fill="#f8f8f8" fill-opacity="0.8"/>
<ellipse cx="500" cy="566" rx="9" ry="8" fill="#777" fill-opacity="0.8"/>
<ellipse cx="506" cy="586" rx="8" ry="6" fill="#555" fill-opacity="0.8"/>
<ellipse cx="490" cy="520" rx="12" ry="8" fill="#aaa" fill-opacity="0.6"/>
<ellipse cx="470" cy="538" rx="16" ry="6" fill="#b0b0b0" fill-opacity="0.5"/>
<ellipse cx="490" cy="545" rx="12" ry="7" fill="#aaa" fill-opacity="0.5"/>
<ellipse cx="455" cy="552" rx="6" ry="9" fill="#b5b5b5" fill-opacity="0.5"/>
<ellipse cx="432.4" cy="535.8" rx="5.1" ry="5.0" fill="#999" fill-opacity="0.5"/>
<ellipse cx="453.5" cy="529.6" rx="5.6" ry="5.199999999999999" fill="#999" fill-opacity="0.5"/>
<ellipse cx="459" cy="530.2" rx="5.8" ry="5.199999999999999" fill="#999" fill-opacity="0.5"/>
<ellipse cx="456.5" cy="538.6" rx="5.699999999999999" ry="5.5" fill="#999" fill-opacity="0.5"/>
<ellipse cx="467.5" cy="534.3" rx="6.199999999999999" ry="5.8" fill="#999" fill-opacity="0.5"/>
<ellipse cx="471" cy="538" rx="5.8" ry="5.4" fill="#999" fill-opacity="0.5"/>
<ellipse cx="479.5" cy="533.5" rx="6.0" ry="5.6" fill="#999" fill-opacity="0.5"/>
<ellipse cx="484" cy="531" rx="5.0" ry="4.8" fill="#999" fill-opacity="0.5"/>
<ellipse cx="456.8" cy="548.6" rx="6.0" ry="5.8" fill="#999" fill-opacity="0.5"/>
<ellipse cx="450.9" cy="551.2" rx="5.199999999999999" ry="5.0" fill="#999" fill-opacity="0.5"/>
<ellipse cx="453.8" cy="557.8" rx="5.6" ry="5.6" fill="#999" fill-opacity="0.5"/>
<ellipse cx="481.2" cy="541.5" rx="6.199999999999999" ry="6.0" fill="#999" fill-opacity="0.5"/>
<ellipse cx="486" cy="545.5" rx="6.0" ry="6.0" fill="#999" fill-opacity="0.5"/>
<ellipse cx="493.8" cy="544.5" rx="5.8" ry="6.4" fill="#999" fill-opacity="0.5"/>
<ellipse cx="499.3" cy="547.5" rx="6.0" ry="6.4" fill="#999" fill-opacity="0.5"/>
<ellipse cx="486.5" cy="514.5" rx="6.0" ry="5.8" fill="#999" fill-opacity="0.5"/>
<ellipse cx="492" cy="519" rx="6.4" ry="5.4" fill="#999" fill-opacity="0.5"/>
<ellipse cx="497.5" cy="514.5" rx="6.0" ry="5.8" fill="#999" fill-opacity="0.5"/>
<ellipse cx="477.6" cy="511.3" rx="7.4" ry="4.0" fill="#999" fill-opacity="0.5"/>
<ellipse cx="504.5" cy="511.3" rx="6.4" ry="4.0" fill="#999" fill-opacity="0.5"/>
<ellipse cx="497.5" cy="561.5" rx="5.8" ry="6.0" fill="#999" fill-opacity="0.5"/>
<ellipse cx="503" cy="565.5" rx="6.6" ry="6.4" fill="#999" fill-opacity="0.5"/>
<ellipse cx="507.5" cy="571" rx="5.4" ry="5.8" fill="#999" fill-opacity="0.5"/>
<ellipse cx="499.5" cy="569" rx="5.0" ry="5.0" fill="#999" fill-opacity="0.5"/>
<ellipse cx="508" cy="584" rx="6.4" ry="7.4" fill="#999" fill-opacity="0.5"/>
<ellipse cx="502" cy="587.5" rx="6.4" ry="4.8" fill="#999" fill-opacity="0.5"/>
</g><g filter="url(#fb3)">
<ellipse cx="432.4" cy="535.8" rx="2.4840000000000004" ry="2.3920000000000003" fill="#4a4a4a" fill-opacity="0.85"/>
<ellipse cx="430.5" cy="519.2" rx="1.288" ry="1.1960000000000002" fill="#666" fill-opacity="0.85"/>
<ellipse cx="435.3" cy="519.8" rx="1.748" ry="1.3800000000000001" fill="#5a5a5a" fill-opacity="0.85"/>
<ellipse cx="440" cy="521.5" rx="0.7360000000000001" ry="0.7360000000000001" fill="#777" fill-opacity="0.85"/>
<ellipse cx="453.5" cy="529.6" rx="2.9440000000000004" ry="2.576" fill="#5a5a5a" fill-opacity="0.85"/>
<ellipse cx="459" cy="530.2" rx="3.128" ry="2.576" fill="#666" fill-opacity="0.85"/>
<ellipse cx="449.7" cy="532.7" rx="1.288" ry="1.288" fill="#555" fill-opacity="0.85"/>
<ellipse cx="456.5" cy="538.6" rx="3.036" ry="2.8520000000000003" fill="#606060" fill-opacity="0.85"/>
<ellipse cx="467.5" cy="534.3" rx="3.496" ry="3.128" fill="#4a4a4a" fill-opacity="0.85"/>
<ellipse cx="471" cy="538" rx="3.128" ry="2.7600000000000002" fill="#505050" fill-opacity="0.85"/>
<ellipse cx="479.5" cy="533.5" rx="3.3120000000000003" ry="2.9440000000000004" fill="#5c5c5c" fill-opacity="0.85"/>
<ellipse cx="484" cy="531" rx="2.3920000000000003" ry="2.208" fill="#666" fill-opacity="0.85"/>
<ellipse cx="456.8" cy="548.6" rx="3.3120000000000003" ry="3.128" fill="#585858" fill-opacity="0.85"/>
<ellipse cx="450.9" cy="551.2" rx="2.576" ry="2.3920000000000003" fill="#666" fill-opacity="0.85"/>
<ellipse cx="453.8" cy="557.8" rx="2.9440000000000004" ry="2.9440000000000004" fill="#5a5a5a" fill-opacity="0.85"/>
<ellipse cx="481.2" cy="541.5" rx="3.496" ry="3.3120000000000003" fill="#3a3a3a" fill-opacity="0.85"/>
<ellipse cx="486" cy="545.5" rx="3.3120000000000003" ry="3.3120000000000003" fill="#404040" fill-opacity="0.85"/>
<ellipse cx="493.8" cy="544.5" rx="3.128" ry="3.68" fill="#3a3a3a" fill-opacity="0.85"/>
<ellipse cx="499.3" cy="547.5" rx="3.3120000000000003" ry="3.68" fill="#404040" fill-opacity="0.85"/>
<ellipse cx="489.5" cy="550.3" rx="1.3800000000000001" ry="1.3800000000000001" fill="#555" fill-opacity="0.85"/>
<ellipse cx="486.5" cy="514.5" rx="3.3120000000000003" ry="3.128" fill="#484848" fill-opacity="0.85"/>
<ellipse cx="492" cy="519" rx="3.68" ry="2.7600000000000002" fill="#505050" fill-opacity="0.85"/>
<ellipse cx="497.5" cy="514.5" rx="3.3120000000000003" ry="3.128" fill="#484848" fill-opacity="0.85"/>
<ellipse cx="477.6" cy="511.3" rx="4.6000000000000005" ry="1.4720000000000002" fill="#333" fill-opacity="0.85"/>
<ellipse cx="504.5" cy="511.3" rx="3.68" ry="1.4720000000000002" fill="#444" fill-opacity="0.85"/>
<ellipse cx="497.5" cy="561.5" rx="3.128" ry="3.3120000000000003" fill="#2a2a2a" fill-opacity="0.85"/>
<ellipse cx="503" cy="565.5" rx="3.8640000000000003" ry="3.68" fill="#262626" fill-opacity="0.85"/>
<ellipse cx="507.5" cy="571" rx="2.7600000000000002" ry="3.128" fill="#333" fill-opacity="0.85"/>
<ellipse cx="499.5" cy="569" rx="2.3920000000000003" ry="2.3920000000000003" fill="#444" fill-opacity="0.85"/>
<ellipse cx="508" cy="584" rx="3.68" ry="4.6000000000000005" fill="#222" fill-opacity="0.85"/>
<ellipse cx="502" cy="587.5" rx="3.68" ry="2.208" fill="#333" fill-opacity="0.85"/>
<ellipse cx="509" cy="577" rx="1.84" ry="2.7600000000000002" fill="#3a3a3a" fill-opacity="0.85"/>
<ellipse cx="475.7" cy="565.4" rx="1.3800000000000001" ry="1.3800000000000001" fill="#555" fill-opacity="0.85"/>
<ellipse cx="479.5" cy="566.3" rx="1.104" ry="1.104" fill="#666" fill-opacity="0.85"/>
<ellipse cx="484.3" cy="565.4" rx="1.1960000000000002" ry="1.1960000000000002" fill="#666" fill-opacity="0.85"/>
<ellipse cx="477.6" cy="572.1" rx="1.564" ry="1.564" fill="#555" fill-opacity="0.85"/>
<ellipse cx="475.9" cy="574.6" rx="1.3800000000000001" ry="1.3800000000000001" fill="#5a5a5a" fill-opacity="0.85"/>
<ellipse cx="485.3" cy="574" rx="1.104" ry="1.104" fill="#777" fill-opacity="0.85"/>
<ellipse cx="494" cy="577.9" rx="1.6560000000000001" ry="1.4720000000000002" fill="#555" fill-opacity="0.85"/>
<ellipse cx="490" cy="576" rx="1.104" ry="1.104" fill="#777" fill-opacity="0.85"/>
<ellipse cx="484.3" cy="584.8" rx="2.208" ry="2.0240000000000005" fill="#777" fill-opacity="0.85"/>
<ellipse cx="488.5" cy="567.5" rx="0.92" ry="0.92" fill="#777" fill-opacity="0.85"/>
</g>
<line x1="457.40" y1="515.20" x2="449.69" y2="518.99" stroke="#111" stroke-width="1.2" stroke-linecap="butt"/>
<path d="M445.2 521.2 L448.8 517.1 L450.6 520.9z" fill="#111"/>
<line x1="462.20" y1="558.70" x2="470.37" y2="562.49" stroke="#111" stroke-width="1.2" stroke-linecap="butt"/>
<path d="M474.9 564.6 L469.5 564.4 L471.3 560.6z" fill="#111"/>
<line x1="471.80" y1="578.80" x2="480.74" y2="581.67" stroke="#111" stroke-width="1.2" stroke-linecap="butt"/>
<path d="M485.5 583.2 L480.1 583.7 L481.4 579.7z" fill="#111"/>
</g>
<text x="426.70" y="588.80" font-size="10.3" text-anchor="start" font-weight="bold" fill="#0c0c0c" stroke="#0c0c0c" stroke-width="0.05" textLength="37.30" lengthAdjust="spacingAndGlyphs">NHD13</text>
</svg></body></html>
